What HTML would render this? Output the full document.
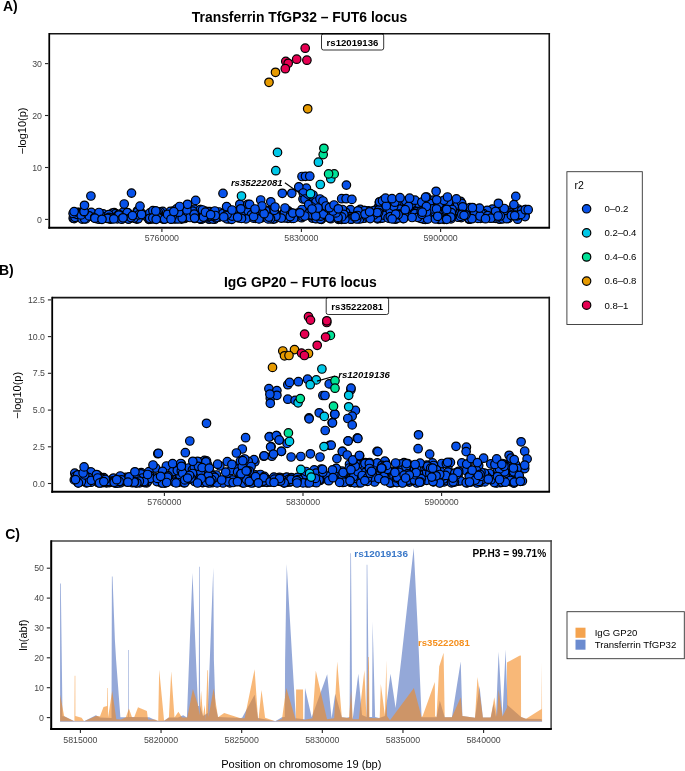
<!DOCTYPE html>
<html><head><meta charset="utf-8"><title>Colocalization plot</title>
<style>html,body{margin:0;padding:0;background:#fff;}body{width:685px;height:771px;overflow:hidden;font-family:"Liberation Sans",sans-serif;}svg{display:block;will-change:transform;}</style>
</head><body>
<svg width="685" height="771" viewBox="0 0 685 771" font-family="Liberation Sans, sans-serif"><text x="3" y="10.7" font-size="14" text-anchor="start" font-weight="bold" font-style="normal" fill="#000" >A)</text>
<text x="299.5" y="21.8" font-size="13.9" text-anchor="middle" font-weight="bold" font-style="normal" fill="#000" >Transferrin TfGP32 – FUT6 locus</text>
<circle cx="128.3" cy="215.4" r="4.25" fill="#0852ea" stroke="#000" stroke-width="1.2"/>
<circle cx="114.7" cy="217.5" r="4.25" fill="#0852ea" stroke="#000" stroke-width="1.2"/>
<circle cx="110.6" cy="219.2" r="4.25" fill="#0852ea" stroke="#000" stroke-width="1.2"/>
<circle cx="136.7" cy="219.1" r="4.25" fill="#0852ea" stroke="#000" stroke-width="1.2"/>
<circle cx="315.1" cy="212.4" r="4.25" fill="#0852ea" stroke="#000" stroke-width="1.2"/>
<circle cx="163.9" cy="217.8" r="4.25" fill="#0852ea" stroke="#000" stroke-width="1.2"/>
<circle cx="150.2" cy="217.5" r="4.25" fill="#0852ea" stroke="#000" stroke-width="1.2"/>
<circle cx="184.6" cy="218.5" r="4.25" fill="#0852ea" stroke="#000" stroke-width="1.2"/>
<circle cx="78.3" cy="212.4" r="4.25" fill="#0852ea" stroke="#000" stroke-width="1.2"/>
<circle cx="398.7" cy="207.6" r="4.25" fill="#0852ea" stroke="#000" stroke-width="1.2"/>
<circle cx="104.5" cy="215.5" r="4.25" fill="#0852ea" stroke="#000" stroke-width="1.2"/>
<circle cx="200.5" cy="209.6" r="4.25" fill="#0852ea" stroke="#000" stroke-width="1.2"/>
<circle cx="96.5" cy="214.5" r="4.25" fill="#0852ea" stroke="#000" stroke-width="1.2"/>
<circle cx="403.2" cy="218.6" r="4.25" fill="#0852ea" stroke="#000" stroke-width="1.2"/>
<circle cx="341.3" cy="218.4" r="4.25" fill="#0852ea" stroke="#000" stroke-width="1.2"/>
<circle cx="341.5" cy="219.3" r="4.25" fill="#0852ea" stroke="#000" stroke-width="1.2"/>
<circle cx="364.6" cy="210.5" r="4.25" fill="#0852ea" stroke="#000" stroke-width="1.2"/>
<circle cx="461.3" cy="217.6" r="4.25" fill="#0852ea" stroke="#000" stroke-width="1.2"/>
<circle cx="424.3" cy="219.0" r="4.25" fill="#0852ea" stroke="#000" stroke-width="1.2"/>
<circle cx="317.2" cy="210.1" r="4.25" fill="#0852ea" stroke="#000" stroke-width="1.2"/>
<circle cx="428.1" cy="213.8" r="4.25" fill="#0852ea" stroke="#000" stroke-width="1.2"/>
<circle cx="378.5" cy="206.9" r="4.25" fill="#0852ea" stroke="#000" stroke-width="1.2"/>
<circle cx="156.7" cy="217.7" r="4.25" fill="#0852ea" stroke="#000" stroke-width="1.2"/>
<circle cx="273.6" cy="212.9" r="4.25" fill="#0852ea" stroke="#000" stroke-width="1.2"/>
<circle cx="453.4" cy="208.7" r="4.25" fill="#0852ea" stroke="#000" stroke-width="1.2"/>
<circle cx="360.9" cy="210.8" r="4.25" fill="#0852ea" stroke="#000" stroke-width="1.2"/>
<circle cx="321.5" cy="219.3" r="4.25" fill="#0852ea" stroke="#000" stroke-width="1.2"/>
<circle cx="494.5" cy="218.1" r="4.25" fill="#0852ea" stroke="#000" stroke-width="1.2"/>
<circle cx="148.8" cy="219.3" r="4.25" fill="#0852ea" stroke="#000" stroke-width="1.2"/>
<circle cx="333.4" cy="214.4" r="4.25" fill="#0852ea" stroke="#000" stroke-width="1.2"/>
<circle cx="357.1" cy="217.1" r="4.25" fill="#0852ea" stroke="#000" stroke-width="1.2"/>
<circle cx="163.9" cy="216.5" r="4.25" fill="#0852ea" stroke="#000" stroke-width="1.2"/>
<circle cx="254.6" cy="216.4" r="4.25" fill="#0852ea" stroke="#000" stroke-width="1.2"/>
<circle cx="498.6" cy="218.6" r="4.25" fill="#0852ea" stroke="#000" stroke-width="1.2"/>
<circle cx="111.0" cy="216.2" r="4.25" fill="#0852ea" stroke="#000" stroke-width="1.2"/>
<circle cx="158.9" cy="217.2" r="4.25" fill="#0852ea" stroke="#000" stroke-width="1.2"/>
<circle cx="491.4" cy="210.4" r="4.25" fill="#0852ea" stroke="#000" stroke-width="1.2"/>
<circle cx="228.9" cy="213.3" r="4.25" fill="#0852ea" stroke="#000" stroke-width="1.2"/>
<circle cx="179.9" cy="210.4" r="4.25" fill="#0852ea" stroke="#000" stroke-width="1.2"/>
<circle cx="452.6" cy="211.9" r="4.25" fill="#0852ea" stroke="#000" stroke-width="1.2"/>
<circle cx="313.0" cy="218.1" r="4.25" fill="#0852ea" stroke="#000" stroke-width="1.2"/>
<circle cx="112.3" cy="213.1" r="4.25" fill="#0852ea" stroke="#000" stroke-width="1.2"/>
<circle cx="433.3" cy="200.2" r="4.25" fill="#0852ea" stroke="#000" stroke-width="1.2"/>
<circle cx="423.4" cy="219.1" r="4.25" fill="#0852ea" stroke="#000" stroke-width="1.2"/>
<circle cx="515.5" cy="210.1" r="4.25" fill="#0852ea" stroke="#000" stroke-width="1.2"/>
<circle cx="460.5" cy="201.3" r="4.25" fill="#0852ea" stroke="#000" stroke-width="1.2"/>
<circle cx="499.7" cy="219.2" r="4.25" fill="#0852ea" stroke="#000" stroke-width="1.2"/>
<circle cx="249.4" cy="209.7" r="4.25" fill="#0852ea" stroke="#000" stroke-width="1.2"/>
<circle cx="181.5" cy="219.1" r="4.25" fill="#0852ea" stroke="#000" stroke-width="1.2"/>
<circle cx="111.2" cy="215.9" r="4.25" fill="#0852ea" stroke="#000" stroke-width="1.2"/>
<circle cx="377.5" cy="218.9" r="4.25" fill="#0852ea" stroke="#000" stroke-width="1.2"/>
<circle cx="119.0" cy="217.6" r="4.25" fill="#0852ea" stroke="#000" stroke-width="1.2"/>
<circle cx="480.1" cy="211.4" r="4.25" fill="#0852ea" stroke="#000" stroke-width="1.2"/>
<circle cx="78.0" cy="212.7" r="4.25" fill="#0852ea" stroke="#000" stroke-width="1.2"/>
<circle cx="240.8" cy="215.0" r="4.25" fill="#0852ea" stroke="#000" stroke-width="1.2"/>
<circle cx="73.2" cy="218.2" r="4.25" fill="#0852ea" stroke="#000" stroke-width="1.2"/>
<circle cx="232.4" cy="211.5" r="4.25" fill="#0852ea" stroke="#000" stroke-width="1.2"/>
<circle cx="458.0" cy="217.2" r="4.25" fill="#0852ea" stroke="#000" stroke-width="1.2"/>
<circle cx="433.2" cy="215.8" r="4.25" fill="#0852ea" stroke="#000" stroke-width="1.2"/>
<circle cx="330.8" cy="218.7" r="4.25" fill="#0852ea" stroke="#000" stroke-width="1.2"/>
<circle cx="517.7" cy="209.8" r="4.25" fill="#0852ea" stroke="#000" stroke-width="1.2"/>
<circle cx="379.3" cy="202.6" r="4.25" fill="#0852ea" stroke="#000" stroke-width="1.2"/>
<circle cx="128.0" cy="212.9" r="4.25" fill="#0852ea" stroke="#000" stroke-width="1.2"/>
<circle cx="380.2" cy="218.4" r="4.25" fill="#0852ea" stroke="#000" stroke-width="1.2"/>
<circle cx="303.5" cy="211.5" r="4.25" fill="#0852ea" stroke="#000" stroke-width="1.2"/>
<circle cx="417.0" cy="209.6" r="4.25" fill="#0852ea" stroke="#000" stroke-width="1.2"/>
<circle cx="275.2" cy="215.4" r="4.25" fill="#0852ea" stroke="#000" stroke-width="1.2"/>
<circle cx="164.4" cy="218.9" r="4.25" fill="#0852ea" stroke="#000" stroke-width="1.2"/>
<circle cx="108.4" cy="218.4" r="4.25" fill="#0852ea" stroke="#000" stroke-width="1.2"/>
<circle cx="112.2" cy="214.6" r="4.25" fill="#0852ea" stroke="#000" stroke-width="1.2"/>
<circle cx="373.3" cy="210.8" r="4.25" fill="#0852ea" stroke="#000" stroke-width="1.2"/>
<circle cx="96.9" cy="218.7" r="4.25" fill="#0852ea" stroke="#000" stroke-width="1.2"/>
<circle cx="124.2" cy="216.9" r="4.25" fill="#0852ea" stroke="#000" stroke-width="1.2"/>
<circle cx="103.6" cy="217.8" r="4.25" fill="#0852ea" stroke="#000" stroke-width="1.2"/>
<circle cx="373.2" cy="215.4" r="4.25" fill="#0852ea" stroke="#000" stroke-width="1.2"/>
<circle cx="171.1" cy="218.3" r="4.25" fill="#0852ea" stroke="#000" stroke-width="1.2"/>
<circle cx="82.9" cy="211.4" r="4.25" fill="#0852ea" stroke="#000" stroke-width="1.2"/>
<circle cx="174.4" cy="218.6" r="4.25" fill="#0852ea" stroke="#000" stroke-width="1.2"/>
<circle cx="382.3" cy="201.8" r="4.25" fill="#0852ea" stroke="#000" stroke-width="1.2"/>
<circle cx="326.5" cy="213.7" r="4.25" fill="#0852ea" stroke="#000" stroke-width="1.2"/>
<circle cx="464.3" cy="210.0" r="4.25" fill="#0852ea" stroke="#000" stroke-width="1.2"/>
<circle cx="196.7" cy="216.0" r="4.25" fill="#0852ea" stroke="#000" stroke-width="1.2"/>
<circle cx="154.2" cy="211.7" r="4.25" fill="#0852ea" stroke="#000" stroke-width="1.2"/>
<circle cx="104.6" cy="216.6" r="4.25" fill="#0852ea" stroke="#000" stroke-width="1.2"/>
<circle cx="399.1" cy="203.0" r="4.25" fill="#0852ea" stroke="#000" stroke-width="1.2"/>
<circle cx="197.0" cy="212.7" r="4.25" fill="#0852ea" stroke="#000" stroke-width="1.2"/>
<circle cx="191.8" cy="212.1" r="4.25" fill="#0852ea" stroke="#000" stroke-width="1.2"/>
<circle cx="315.5" cy="218.1" r="4.25" fill="#0852ea" stroke="#000" stroke-width="1.2"/>
<circle cx="155.5" cy="217.6" r="4.25" fill="#0852ea" stroke="#000" stroke-width="1.2"/>
<circle cx="492.2" cy="216.1" r="4.25" fill="#0852ea" stroke="#000" stroke-width="1.2"/>
<circle cx="411.8" cy="215.5" r="4.25" fill="#0852ea" stroke="#000" stroke-width="1.2"/>
<circle cx="296.7" cy="216.8" r="4.25" fill="#0852ea" stroke="#000" stroke-width="1.2"/>
<circle cx="301.6" cy="217.7" r="4.25" fill="#0852ea" stroke="#000" stroke-width="1.2"/>
<circle cx="208.8" cy="215.7" r="4.25" fill="#0852ea" stroke="#000" stroke-width="1.2"/>
<circle cx="444.1" cy="219.3" r="4.25" fill="#0852ea" stroke="#000" stroke-width="1.2"/>
<circle cx="416.5" cy="213.4" r="4.25" fill="#0852ea" stroke="#000" stroke-width="1.2"/>
<circle cx="364.8" cy="218.1" r="4.25" fill="#0852ea" stroke="#000" stroke-width="1.2"/>
<circle cx="459.1" cy="211.9" r="4.25" fill="#0852ea" stroke="#000" stroke-width="1.2"/>
<circle cx="472.4" cy="216.0" r="4.25" fill="#0852ea" stroke="#000" stroke-width="1.2"/>
<circle cx="321.7" cy="210.5" r="4.25" fill="#0852ea" stroke="#000" stroke-width="1.2"/>
<circle cx="99.2" cy="219.2" r="4.25" fill="#0852ea" stroke="#000" stroke-width="1.2"/>
<circle cx="337.8" cy="209.9" r="4.25" fill="#0852ea" stroke="#000" stroke-width="1.2"/>
<circle cx="423.5" cy="205.9" r="4.25" fill="#0852ea" stroke="#000" stroke-width="1.2"/>
<circle cx="82.7" cy="212.7" r="4.25" fill="#0852ea" stroke="#000" stroke-width="1.2"/>
<circle cx="510.4" cy="210.2" r="4.25" fill="#0852ea" stroke="#000" stroke-width="1.2"/>
<circle cx="297.7" cy="213.1" r="4.25" fill="#0852ea" stroke="#000" stroke-width="1.2"/>
<circle cx="395.3" cy="213.7" r="4.25" fill="#0852ea" stroke="#000" stroke-width="1.2"/>
<circle cx="259.4" cy="211.4" r="4.25" fill="#0852ea" stroke="#000" stroke-width="1.2"/>
<circle cx="240.3" cy="214.2" r="4.25" fill="#0852ea" stroke="#000" stroke-width="1.2"/>
<circle cx="175.5" cy="219.0" r="4.25" fill="#0852ea" stroke="#000" stroke-width="1.2"/>
<circle cx="123.2" cy="212.2" r="4.25" fill="#0852ea" stroke="#000" stroke-width="1.2"/>
<circle cx="397.8" cy="213.8" r="4.25" fill="#0852ea" stroke="#000" stroke-width="1.2"/>
<circle cx="180.1" cy="217.0" r="4.25" fill="#0852ea" stroke="#000" stroke-width="1.2"/>
<circle cx="255.7" cy="218.3" r="4.25" fill="#0852ea" stroke="#000" stroke-width="1.2"/>
<circle cx="439.0" cy="219.3" r="4.25" fill="#0852ea" stroke="#000" stroke-width="1.2"/>
<circle cx="74.2" cy="218.6" r="4.25" fill="#0852ea" stroke="#000" stroke-width="1.2"/>
<circle cx="162.7" cy="211.4" r="4.25" fill="#0852ea" stroke="#000" stroke-width="1.2"/>
<circle cx="403.1" cy="215.7" r="4.25" fill="#0852ea" stroke="#000" stroke-width="1.2"/>
<circle cx="194.2" cy="209.1" r="4.25" fill="#0852ea" stroke="#000" stroke-width="1.2"/>
<circle cx="231.8" cy="214.3" r="4.25" fill="#0852ea" stroke="#000" stroke-width="1.2"/>
<circle cx="390.7" cy="200.6" r="4.25" fill="#0852ea" stroke="#000" stroke-width="1.2"/>
<circle cx="328.6" cy="211.1" r="4.25" fill="#0852ea" stroke="#000" stroke-width="1.2"/>
<circle cx="295.0" cy="214.5" r="4.25" fill="#0852ea" stroke="#000" stroke-width="1.2"/>
<circle cx="474.6" cy="215.1" r="4.25" fill="#0852ea" stroke="#000" stroke-width="1.2"/>
<circle cx="319.7" cy="218.7" r="4.25" fill="#0852ea" stroke="#000" stroke-width="1.2"/>
<circle cx="437.4" cy="202.7" r="4.25" fill="#0852ea" stroke="#000" stroke-width="1.2"/>
<circle cx="339.8" cy="217.2" r="4.25" fill="#0852ea" stroke="#000" stroke-width="1.2"/>
<circle cx="442.7" cy="216.8" r="4.25" fill="#0852ea" stroke="#000" stroke-width="1.2"/>
<circle cx="214.6" cy="216.4" r="4.25" fill="#0852ea" stroke="#000" stroke-width="1.2"/>
<circle cx="463.6" cy="207.3" r="4.25" fill="#0852ea" stroke="#000" stroke-width="1.2"/>
<circle cx="312.1" cy="214.5" r="4.25" fill="#0852ea" stroke="#000" stroke-width="1.2"/>
<circle cx="169.4" cy="216.7" r="4.25" fill="#0852ea" stroke="#000" stroke-width="1.2"/>
<circle cx="312.4" cy="218.0" r="4.25" fill="#0852ea" stroke="#000" stroke-width="1.2"/>
<circle cx="317.4" cy="210.8" r="4.25" fill="#0852ea" stroke="#000" stroke-width="1.2"/>
<circle cx="442.7" cy="208.7" r="4.25" fill="#0852ea" stroke="#000" stroke-width="1.2"/>
<circle cx="290.2" cy="214.3" r="4.25" fill="#0852ea" stroke="#000" stroke-width="1.2"/>
<circle cx="194.7" cy="218.5" r="4.25" fill="#0852ea" stroke="#000" stroke-width="1.2"/>
<circle cx="357.5" cy="213.1" r="4.25" fill="#0852ea" stroke="#000" stroke-width="1.2"/>
<circle cx="173.4" cy="211.0" r="4.25" fill="#0852ea" stroke="#000" stroke-width="1.2"/>
<circle cx="285.0" cy="211.6" r="4.25" fill="#0852ea" stroke="#000" stroke-width="1.2"/>
<circle cx="517.9" cy="217.5" r="4.25" fill="#0852ea" stroke="#000" stroke-width="1.2"/>
<circle cx="258.8" cy="218.5" r="4.25" fill="#0852ea" stroke="#000" stroke-width="1.2"/>
<circle cx="384.0" cy="216.6" r="4.25" fill="#0852ea" stroke="#000" stroke-width="1.2"/>
<circle cx="215.7" cy="217.3" r="4.25" fill="#0852ea" stroke="#000" stroke-width="1.2"/>
<circle cx="457.6" cy="205.4" r="4.25" fill="#0852ea" stroke="#000" stroke-width="1.2"/>
<circle cx="246.7" cy="209.7" r="4.25" fill="#0852ea" stroke="#000" stroke-width="1.2"/>
<circle cx="366.6" cy="215.7" r="4.25" fill="#0852ea" stroke="#000" stroke-width="1.2"/>
<circle cx="255.5" cy="216.4" r="4.25" fill="#0852ea" stroke="#000" stroke-width="1.2"/>
<circle cx="291.8" cy="218.3" r="4.25" fill="#0852ea" stroke="#000" stroke-width="1.2"/>
<circle cx="218.5" cy="213.0" r="4.25" fill="#0852ea" stroke="#000" stroke-width="1.2"/>
<circle cx="231.4" cy="216.5" r="4.25" fill="#0852ea" stroke="#000" stroke-width="1.2"/>
<circle cx="396.9" cy="202.0" r="4.25" fill="#0852ea" stroke="#000" stroke-width="1.2"/>
<circle cx="480.3" cy="218.3" r="4.25" fill="#0852ea" stroke="#000" stroke-width="1.2"/>
<circle cx="137.3" cy="210.9" r="4.25" fill="#0852ea" stroke="#000" stroke-width="1.2"/>
<circle cx="311.4" cy="212.4" r="4.25" fill="#0852ea" stroke="#000" stroke-width="1.2"/>
<circle cx="351.7" cy="218.5" r="4.25" fill="#0852ea" stroke="#000" stroke-width="1.2"/>
<circle cx="440.6" cy="219.0" r="4.25" fill="#0852ea" stroke="#000" stroke-width="1.2"/>
<circle cx="374.8" cy="210.4" r="4.25" fill="#0852ea" stroke="#000" stroke-width="1.2"/>
<circle cx="483.1" cy="212.0" r="4.25" fill="#0852ea" stroke="#000" stroke-width="1.2"/>
<circle cx="447.6" cy="218.2" r="4.25" fill="#0852ea" stroke="#000" stroke-width="1.2"/>
<circle cx="418.3" cy="210.4" r="4.25" fill="#0852ea" stroke="#000" stroke-width="1.2"/>
<circle cx="415.3" cy="210.6" r="4.25" fill="#0852ea" stroke="#000" stroke-width="1.2"/>
<circle cx="343.4" cy="217.8" r="4.25" fill="#0852ea" stroke="#000" stroke-width="1.2"/>
<circle cx="201.8" cy="215.7" r="4.25" fill="#0852ea" stroke="#000" stroke-width="1.2"/>
<circle cx="161.8" cy="216.5" r="4.25" fill="#0852ea" stroke="#000" stroke-width="1.2"/>
<circle cx="517.6" cy="219.2" r="4.25" fill="#0852ea" stroke="#000" stroke-width="1.2"/>
<circle cx="439.3" cy="208.5" r="4.25" fill="#0852ea" stroke="#000" stroke-width="1.2"/>
<circle cx="160.0" cy="215.4" r="4.25" fill="#0852ea" stroke="#000" stroke-width="1.2"/>
<circle cx="285.3" cy="211.3" r="4.25" fill="#0852ea" stroke="#000" stroke-width="1.2"/>
<circle cx="229.5" cy="215.9" r="4.25" fill="#0852ea" stroke="#000" stroke-width="1.2"/>
<circle cx="214.2" cy="218.4" r="4.25" fill="#0852ea" stroke="#000" stroke-width="1.2"/>
<circle cx="138.1" cy="218.7" r="4.25" fill="#0852ea" stroke="#000" stroke-width="1.2"/>
<circle cx="263.3" cy="213.2" r="4.25" fill="#0852ea" stroke="#000" stroke-width="1.2"/>
<circle cx="148.4" cy="217.8" r="4.25" fill="#0852ea" stroke="#000" stroke-width="1.2"/>
<circle cx="141.7" cy="213.3" r="4.25" fill="#0852ea" stroke="#000" stroke-width="1.2"/>
<circle cx="209.8" cy="211.7" r="4.25" fill="#0852ea" stroke="#000" stroke-width="1.2"/>
<circle cx="399.9" cy="209.2" r="4.25" fill="#0852ea" stroke="#000" stroke-width="1.2"/>
<circle cx="215.3" cy="218.0" r="4.25" fill="#0852ea" stroke="#000" stroke-width="1.2"/>
<circle cx="193.0" cy="215.9" r="4.25" fill="#0852ea" stroke="#000" stroke-width="1.2"/>
<circle cx="145.2" cy="215.8" r="4.25" fill="#0852ea" stroke="#000" stroke-width="1.2"/>
<circle cx="152.0" cy="213.3" r="4.25" fill="#0852ea" stroke="#000" stroke-width="1.2"/>
<circle cx="412.8" cy="201.6" r="4.25" fill="#0852ea" stroke="#000" stroke-width="1.2"/>
<circle cx="78.0" cy="213.6" r="4.25" fill="#0852ea" stroke="#000" stroke-width="1.2"/>
<circle cx="315.8" cy="218.3" r="4.25" fill="#0852ea" stroke="#000" stroke-width="1.2"/>
<circle cx="417.0" cy="205.1" r="4.25" fill="#0852ea" stroke="#000" stroke-width="1.2"/>
<circle cx="405.8" cy="210.1" r="4.25" fill="#0852ea" stroke="#000" stroke-width="1.2"/>
<circle cx="107.0" cy="218.3" r="4.25" fill="#0852ea" stroke="#000" stroke-width="1.2"/>
<circle cx="224.1" cy="214.0" r="4.25" fill="#0852ea" stroke="#000" stroke-width="1.2"/>
<circle cx="317.3" cy="217.3" r="4.25" fill="#0852ea" stroke="#000" stroke-width="1.2"/>
<circle cx="347.0" cy="211.5" r="4.25" fill="#0852ea" stroke="#000" stroke-width="1.2"/>
<circle cx="103.5" cy="216.6" r="4.25" fill="#0852ea" stroke="#000" stroke-width="1.2"/>
<circle cx="383.9" cy="210.9" r="4.25" fill="#0852ea" stroke="#000" stroke-width="1.2"/>
<circle cx="452.2" cy="210.4" r="4.25" fill="#0852ea" stroke="#000" stroke-width="1.2"/>
<circle cx="337.2" cy="210.2" r="4.25" fill="#0852ea" stroke="#000" stroke-width="1.2"/>
<circle cx="88.9" cy="215.9" r="4.25" fill="#0852ea" stroke="#000" stroke-width="1.2"/>
<circle cx="269.6" cy="210.1" r="4.25" fill="#0852ea" stroke="#000" stroke-width="1.2"/>
<circle cx="162.6" cy="214.7" r="4.25" fill="#0852ea" stroke="#000" stroke-width="1.2"/>
<circle cx="235.7" cy="212.0" r="4.25" fill="#0852ea" stroke="#000" stroke-width="1.2"/>
<circle cx="389.6" cy="218.3" r="4.25" fill="#0852ea" stroke="#000" stroke-width="1.2"/>
<circle cx="310.3" cy="214.4" r="4.25" fill="#0852ea" stroke="#000" stroke-width="1.2"/>
<circle cx="451.0" cy="218.8" r="4.25" fill="#0852ea" stroke="#000" stroke-width="1.2"/>
<circle cx="281.5" cy="215.1" r="4.25" fill="#0852ea" stroke="#000" stroke-width="1.2"/>
<circle cx="231.7" cy="214.9" r="4.25" fill="#0852ea" stroke="#000" stroke-width="1.2"/>
<circle cx="517.5" cy="212.3" r="4.25" fill="#0852ea" stroke="#000" stroke-width="1.2"/>
<circle cx="274.7" cy="218.7" r="4.25" fill="#0852ea" stroke="#000" stroke-width="1.2"/>
<circle cx="219.0" cy="215.7" r="4.25" fill="#0852ea" stroke="#000" stroke-width="1.2"/>
<circle cx="103.2" cy="213.9" r="4.25" fill="#0852ea" stroke="#000" stroke-width="1.2"/>
<circle cx="475.5" cy="210.4" r="4.25" fill="#0852ea" stroke="#000" stroke-width="1.2"/>
<circle cx="329.0" cy="217.6" r="4.25" fill="#0852ea" stroke="#000" stroke-width="1.2"/>
<circle cx="302.0" cy="209.5" r="4.25" fill="#0852ea" stroke="#000" stroke-width="1.2"/>
<circle cx="344.0" cy="213.5" r="4.25" fill="#0852ea" stroke="#000" stroke-width="1.2"/>
<circle cx="382.5" cy="218.1" r="4.25" fill="#0852ea" stroke="#000" stroke-width="1.2"/>
<circle cx="484.3" cy="214.9" r="4.25" fill="#0852ea" stroke="#000" stroke-width="1.2"/>
<circle cx="517.2" cy="215.8" r="4.25" fill="#0852ea" stroke="#000" stroke-width="1.2"/>
<circle cx="418.4" cy="203.2" r="4.25" fill="#0852ea" stroke="#000" stroke-width="1.2"/>
<circle cx="461.7" cy="203.3" r="4.25" fill="#0852ea" stroke="#000" stroke-width="1.2"/>
<circle cx="268.7" cy="216.9" r="4.25" fill="#0852ea" stroke="#000" stroke-width="1.2"/>
<circle cx="352.0" cy="213.4" r="4.25" fill="#0852ea" stroke="#000" stroke-width="1.2"/>
<circle cx="381.1" cy="214.3" r="4.25" fill="#0852ea" stroke="#000" stroke-width="1.2"/>
<circle cx="351.6" cy="219.1" r="4.25" fill="#0852ea" stroke="#000" stroke-width="1.2"/>
<circle cx="202.5" cy="218.2" r="4.25" fill="#0852ea" stroke="#000" stroke-width="1.2"/>
<circle cx="228.9" cy="218.9" r="4.25" fill="#0852ea" stroke="#000" stroke-width="1.2"/>
<circle cx="180.3" cy="214.3" r="4.25" fill="#0852ea" stroke="#000" stroke-width="1.2"/>
<circle cx="384.4" cy="215.3" r="4.25" fill="#0852ea" stroke="#000" stroke-width="1.2"/>
<circle cx="508.5" cy="218.3" r="4.25" fill="#0852ea" stroke="#000" stroke-width="1.2"/>
<circle cx="239.2" cy="216.4" r="4.25" fill="#0852ea" stroke="#000" stroke-width="1.2"/>
<circle cx="481.6" cy="217.8" r="4.25" fill="#0852ea" stroke="#000" stroke-width="1.2"/>
<circle cx="114.2" cy="212.7" r="4.25" fill="#0852ea" stroke="#000" stroke-width="1.2"/>
<circle cx="185.7" cy="217.3" r="4.25" fill="#0852ea" stroke="#000" stroke-width="1.2"/>
<circle cx="176.6" cy="208.9" r="4.25" fill="#0852ea" stroke="#000" stroke-width="1.2"/>
<circle cx="338.9" cy="216.4" r="4.25" fill="#0852ea" stroke="#000" stroke-width="1.2"/>
<circle cx="337.2" cy="211.0" r="4.25" fill="#0852ea" stroke="#000" stroke-width="1.2"/>
<circle cx="432.6" cy="207.9" r="4.25" fill="#0852ea" stroke="#000" stroke-width="1.2"/>
<circle cx="204.9" cy="211.2" r="4.25" fill="#0852ea" stroke="#000" stroke-width="1.2"/>
<circle cx="172.3" cy="215.7" r="4.25" fill="#0852ea" stroke="#000" stroke-width="1.2"/>
<circle cx="288.3" cy="210.9" r="4.25" fill="#0852ea" stroke="#000" stroke-width="1.2"/>
<circle cx="317.3" cy="215.5" r="4.25" fill="#0852ea" stroke="#000" stroke-width="1.2"/>
<circle cx="281.7" cy="217.7" r="4.25" fill="#0852ea" stroke="#000" stroke-width="1.2"/>
<circle cx="197.6" cy="215.6" r="4.25" fill="#0852ea" stroke="#000" stroke-width="1.2"/>
<circle cx="509.4" cy="212.4" r="4.25" fill="#0852ea" stroke="#000" stroke-width="1.2"/>
<circle cx="223.5" cy="216.6" r="4.25" fill="#0852ea" stroke="#000" stroke-width="1.2"/>
<circle cx="489.1" cy="214.3" r="4.25" fill="#0852ea" stroke="#000" stroke-width="1.2"/>
<circle cx="95.3" cy="215.5" r="4.25" fill="#0852ea" stroke="#000" stroke-width="1.2"/>
<circle cx="411.2" cy="204.0" r="4.25" fill="#0852ea" stroke="#000" stroke-width="1.2"/>
<circle cx="200.4" cy="209.6" r="4.25" fill="#0852ea" stroke="#000" stroke-width="1.2"/>
<circle cx="479.0" cy="210.1" r="4.25" fill="#0852ea" stroke="#000" stroke-width="1.2"/>
<circle cx="241.8" cy="214.2" r="4.25" fill="#0852ea" stroke="#000" stroke-width="1.2"/>
<circle cx="315.8" cy="212.9" r="4.25" fill="#0852ea" stroke="#000" stroke-width="1.2"/>
<circle cx="150.4" cy="217.0" r="4.25" fill="#0852ea" stroke="#000" stroke-width="1.2"/>
<circle cx="525.0" cy="215.2" r="4.25" fill="#0852ea" stroke="#000" stroke-width="1.2"/>
<circle cx="99.8" cy="217.4" r="4.25" fill="#0852ea" stroke="#000" stroke-width="1.2"/>
<circle cx="260.3" cy="210.3" r="4.25" fill="#0852ea" stroke="#000" stroke-width="1.2"/>
<circle cx="110.0" cy="216.4" r="4.25" fill="#0852ea" stroke="#000" stroke-width="1.2"/>
<circle cx="450.4" cy="209.9" r="4.25" fill="#0852ea" stroke="#000" stroke-width="1.2"/>
<circle cx="207.8" cy="211.6" r="4.25" fill="#0852ea" stroke="#000" stroke-width="1.2"/>
<circle cx="184.5" cy="210.8" r="4.25" fill="#0852ea" stroke="#000" stroke-width="1.2"/>
<circle cx="229.1" cy="213.3" r="4.25" fill="#0852ea" stroke="#000" stroke-width="1.2"/>
<circle cx="218.5" cy="217.2" r="4.25" fill="#0852ea" stroke="#000" stroke-width="1.2"/>
<circle cx="437.3" cy="212.4" r="4.25" fill="#0852ea" stroke="#000" stroke-width="1.2"/>
<circle cx="438.8" cy="214.5" r="4.25" fill="#0852ea" stroke="#000" stroke-width="1.2"/>
<circle cx="264.5" cy="215.6" r="4.25" fill="#0852ea" stroke="#000" stroke-width="1.2"/>
<circle cx="414.9" cy="200.2" r="4.25" fill="#0852ea" stroke="#000" stroke-width="1.2"/>
<circle cx="503.4" cy="209.1" r="4.25" fill="#0852ea" stroke="#000" stroke-width="1.2"/>
<circle cx="429.9" cy="203.4" r="4.25" fill="#0852ea" stroke="#000" stroke-width="1.2"/>
<circle cx="75.1" cy="217.3" r="4.25" fill="#0852ea" stroke="#000" stroke-width="1.2"/>
<circle cx="133.9" cy="218.1" r="4.25" fill="#0852ea" stroke="#000" stroke-width="1.2"/>
<circle cx="171.6" cy="218.8" r="4.25" fill="#0852ea" stroke="#000" stroke-width="1.2"/>
<circle cx="425.3" cy="219.3" r="4.25" fill="#0852ea" stroke="#000" stroke-width="1.2"/>
<circle cx="323.1" cy="217.3" r="4.25" fill="#0852ea" stroke="#000" stroke-width="1.2"/>
<circle cx="270.5" cy="215.5" r="4.25" fill="#0852ea" stroke="#000" stroke-width="1.2"/>
<circle cx="90.5" cy="213.6" r="4.25" fill="#0852ea" stroke="#000" stroke-width="1.2"/>
<circle cx="76.9" cy="214.3" r="4.25" fill="#0852ea" stroke="#000" stroke-width="1.2"/>
<circle cx="494.0" cy="217.6" r="4.25" fill="#0852ea" stroke="#000" stroke-width="1.2"/>
<circle cx="500.0" cy="214.4" r="4.25" fill="#0852ea" stroke="#000" stroke-width="1.2"/>
<circle cx="373.6" cy="215.0" r="4.25" fill="#0852ea" stroke="#000" stroke-width="1.2"/>
<circle cx="469.0" cy="219.1" r="4.25" fill="#0852ea" stroke="#000" stroke-width="1.2"/>
<circle cx="117.3" cy="218.8" r="4.25" fill="#0852ea" stroke="#000" stroke-width="1.2"/>
<circle cx="260.7" cy="217.9" r="4.25" fill="#0852ea" stroke="#000" stroke-width="1.2"/>
<circle cx="209.1" cy="219.2" r="4.25" fill="#0852ea" stroke="#000" stroke-width="1.2"/>
<circle cx="468.9" cy="215.1" r="4.25" fill="#0852ea" stroke="#000" stroke-width="1.2"/>
<circle cx="469.1" cy="219.1" r="4.25" fill="#0852ea" stroke="#000" stroke-width="1.2"/>
<circle cx="222.9" cy="216.5" r="4.25" fill="#0852ea" stroke="#000" stroke-width="1.2"/>
<circle cx="430.5" cy="212.2" r="4.25" fill="#0852ea" stroke="#000" stroke-width="1.2"/>
<circle cx="470.0" cy="207.7" r="4.25" fill="#0852ea" stroke="#000" stroke-width="1.2"/>
<circle cx="310.0" cy="212.5" r="4.25" fill="#0852ea" stroke="#000" stroke-width="1.2"/>
<circle cx="496.0" cy="218.4" r="4.25" fill="#0852ea" stroke="#000" stroke-width="1.2"/>
<circle cx="253.3" cy="218.1" r="4.25" fill="#0852ea" stroke="#000" stroke-width="1.2"/>
<circle cx="149.5" cy="219.2" r="4.25" fill="#0852ea" stroke="#000" stroke-width="1.2"/>
<circle cx="399.5" cy="214.1" r="4.25" fill="#0852ea" stroke="#000" stroke-width="1.2"/>
<circle cx="178.2" cy="218.9" r="4.25" fill="#0852ea" stroke="#000" stroke-width="1.2"/>
<circle cx="131.8" cy="215.6" r="4.25" fill="#0852ea" stroke="#000" stroke-width="1.2"/>
<circle cx="260.0" cy="211.3" r="4.25" fill="#0852ea" stroke="#000" stroke-width="1.2"/>
<circle cx="229.6" cy="216.5" r="4.25" fill="#0852ea" stroke="#000" stroke-width="1.2"/>
<circle cx="272.9" cy="214.1" r="4.25" fill="#0852ea" stroke="#000" stroke-width="1.2"/>
<circle cx="121.0" cy="215.7" r="4.25" fill="#0852ea" stroke="#000" stroke-width="1.2"/>
<circle cx="487.4" cy="215.2" r="4.25" fill="#0852ea" stroke="#000" stroke-width="1.2"/>
<circle cx="168.4" cy="218.2" r="4.25" fill="#0852ea" stroke="#000" stroke-width="1.2"/>
<circle cx="493.8" cy="211.7" r="4.25" fill="#0852ea" stroke="#000" stroke-width="1.2"/>
<circle cx="472.8" cy="207.8" r="4.25" fill="#0852ea" stroke="#000" stroke-width="1.2"/>
<circle cx="338.4" cy="219.3" r="4.25" fill="#0852ea" stroke="#000" stroke-width="1.2"/>
<circle cx="186.3" cy="215.2" r="4.25" fill="#0852ea" stroke="#000" stroke-width="1.2"/>
<circle cx="318.4" cy="212.0" r="4.25" fill="#0852ea" stroke="#000" stroke-width="1.2"/>
<circle cx="278.1" cy="215.5" r="4.25" fill="#0852ea" stroke="#000" stroke-width="1.2"/>
<circle cx="207.3" cy="217.9" r="4.25" fill="#0852ea" stroke="#000" stroke-width="1.2"/>
<circle cx="225.2" cy="214.3" r="4.25" fill="#0852ea" stroke="#000" stroke-width="1.2"/>
<circle cx="235.1" cy="214.8" r="4.25" fill="#0852ea" stroke="#000" stroke-width="1.2"/>
<circle cx="480.5" cy="210.6" r="4.25" fill="#0852ea" stroke="#000" stroke-width="1.2"/>
<circle cx="518.1" cy="209.0" r="4.25" fill="#0852ea" stroke="#000" stroke-width="1.2"/>
<circle cx="226.8" cy="218.8" r="4.25" fill="#0852ea" stroke="#000" stroke-width="1.2"/>
<circle cx="503.9" cy="215.9" r="4.25" fill="#0852ea" stroke="#000" stroke-width="1.2"/>
<circle cx="240.0" cy="214.3" r="4.25" fill="#0852ea" stroke="#000" stroke-width="1.2"/>
<circle cx="262.3" cy="217.6" r="4.25" fill="#0852ea" stroke="#000" stroke-width="1.2"/>
<circle cx="525.1" cy="216.6" r="4.25" fill="#0852ea" stroke="#000" stroke-width="1.2"/>
<circle cx="188.0" cy="209.8" r="4.25" fill="#0852ea" stroke="#000" stroke-width="1.2"/>
<circle cx="439.0" cy="201.7" r="4.25" fill="#0852ea" stroke="#000" stroke-width="1.2"/>
<circle cx="427.8" cy="210.0" r="4.25" fill="#0852ea" stroke="#000" stroke-width="1.2"/>
<circle cx="405.8" cy="201.0" r="4.25" fill="#0852ea" stroke="#000" stroke-width="1.2"/>
<circle cx="191.3" cy="215.0" r="4.25" fill="#0852ea" stroke="#000" stroke-width="1.2"/>
<circle cx="492.4" cy="209.1" r="4.25" fill="#0852ea" stroke="#000" stroke-width="1.2"/>
<circle cx="200.8" cy="219.2" r="4.25" fill="#0852ea" stroke="#000" stroke-width="1.2"/>
<circle cx="287.9" cy="218.4" r="4.25" fill="#0852ea" stroke="#000" stroke-width="1.2"/>
<circle cx="516.9" cy="214.5" r="4.25" fill="#0852ea" stroke="#000" stroke-width="1.2"/>
<circle cx="378.9" cy="209.8" r="4.25" fill="#0852ea" stroke="#000" stroke-width="1.2"/>
<circle cx="448.9" cy="204.0" r="4.25" fill="#0852ea" stroke="#000" stroke-width="1.2"/>
<circle cx="214.5" cy="219.2" r="4.25" fill="#0852ea" stroke="#000" stroke-width="1.2"/>
<circle cx="350.5" cy="209.7" r="4.25" fill="#0852ea" stroke="#000" stroke-width="1.2"/>
<circle cx="229.4" cy="210.6" r="4.25" fill="#0852ea" stroke="#000" stroke-width="1.2"/>
<circle cx="452.1" cy="209.5" r="4.25" fill="#0852ea" stroke="#000" stroke-width="1.2"/>
<circle cx="156.1" cy="218.3" r="4.25" fill="#0852ea" stroke="#000" stroke-width="1.2"/>
<circle cx="92.0" cy="216.5" r="4.25" fill="#0852ea" stroke="#000" stroke-width="1.2"/>
<circle cx="470.0" cy="219.1" r="4.25" fill="#0852ea" stroke="#000" stroke-width="1.2"/>
<circle cx="246.4" cy="211.6" r="4.25" fill="#0852ea" stroke="#000" stroke-width="1.2"/>
<circle cx="487.2" cy="210.3" r="4.25" fill="#0852ea" stroke="#000" stroke-width="1.2"/>
<circle cx="219.0" cy="212.0" r="4.25" fill="#0852ea" stroke="#000" stroke-width="1.2"/>
<circle cx="504.1" cy="214.8" r="4.25" fill="#0852ea" stroke="#000" stroke-width="1.2"/>
<circle cx="362.8" cy="218.4" r="4.25" fill="#0852ea" stroke="#000" stroke-width="1.2"/>
<circle cx="329.5" cy="209.3" r="4.25" fill="#0852ea" stroke="#000" stroke-width="1.2"/>
<circle cx="368.5" cy="210.9" r="4.25" fill="#0852ea" stroke="#000" stroke-width="1.2"/>
<circle cx="518.8" cy="212.8" r="4.25" fill="#0852ea" stroke="#000" stroke-width="1.2"/>
<circle cx="388.1" cy="217.9" r="4.25" fill="#0852ea" stroke="#000" stroke-width="1.2"/>
<circle cx="437.6" cy="202.0" r="4.25" fill="#0852ea" stroke="#000" stroke-width="1.2"/>
<circle cx="232.1" cy="218.2" r="4.25" fill="#0852ea" stroke="#000" stroke-width="1.2"/>
<circle cx="496.5" cy="216.8" r="4.25" fill="#0852ea" stroke="#000" stroke-width="1.2"/>
<circle cx="241.9" cy="217.1" r="4.25" fill="#0852ea" stroke="#000" stroke-width="1.2"/>
<circle cx="115.6" cy="213.6" r="4.25" fill="#0852ea" stroke="#000" stroke-width="1.2"/>
<circle cx="463.3" cy="214.2" r="4.25" fill="#0852ea" stroke="#000" stroke-width="1.2"/>
<circle cx="443.2" cy="206.1" r="4.25" fill="#0852ea" stroke="#000" stroke-width="1.2"/>
<circle cx="490.9" cy="218.0" r="4.25" fill="#0852ea" stroke="#000" stroke-width="1.2"/>
<circle cx="268.1" cy="211.2" r="4.25" fill="#0852ea" stroke="#000" stroke-width="1.2"/>
<circle cx="91.3" cy="212.4" r="4.25" fill="#0852ea" stroke="#000" stroke-width="1.2"/>
<circle cx="153.5" cy="211.8" r="4.25" fill="#0852ea" stroke="#000" stroke-width="1.2"/>
<circle cx="152.8" cy="219.0" r="4.25" fill="#0852ea" stroke="#000" stroke-width="1.2"/>
<circle cx="505.3" cy="213.6" r="4.25" fill="#0852ea" stroke="#000" stroke-width="1.2"/>
<circle cx="472.6" cy="218.0" r="4.25" fill="#0852ea" stroke="#000" stroke-width="1.2"/>
<circle cx="260.6" cy="215.1" r="4.25" fill="#0852ea" stroke="#000" stroke-width="1.2"/>
<circle cx="261.6" cy="212.6" r="4.25" fill="#0852ea" stroke="#000" stroke-width="1.2"/>
<circle cx="185.7" cy="213.3" r="4.25" fill="#0852ea" stroke="#000" stroke-width="1.2"/>
<circle cx="408.6" cy="214.5" r="4.25" fill="#0852ea" stroke="#000" stroke-width="1.2"/>
<circle cx="509.1" cy="214.2" r="4.25" fill="#0852ea" stroke="#000" stroke-width="1.2"/>
<circle cx="190.0" cy="217.5" r="4.25" fill="#0852ea" stroke="#000" stroke-width="1.2"/>
<circle cx="127.2" cy="212.6" r="4.25" fill="#0852ea" stroke="#000" stroke-width="1.2"/>
<circle cx="517.6" cy="211.1" r="4.25" fill="#0852ea" stroke="#000" stroke-width="1.2"/>
<circle cx="201.7" cy="219.0" r="4.25" fill="#0852ea" stroke="#000" stroke-width="1.2"/>
<circle cx="316.0" cy="218.7" r="4.25" fill="#0852ea" stroke="#000" stroke-width="1.2"/>
<circle cx="160.2" cy="211.9" r="4.25" fill="#0852ea" stroke="#000" stroke-width="1.2"/>
<circle cx="263.0" cy="216.2" r="4.25" fill="#0852ea" stroke="#000" stroke-width="1.2"/>
<circle cx="367.0" cy="214.1" r="4.25" fill="#0852ea" stroke="#000" stroke-width="1.2"/>
<circle cx="172.1" cy="214.4" r="4.25" fill="#0852ea" stroke="#000" stroke-width="1.2"/>
<circle cx="85.8" cy="218.9" r="4.25" fill="#0852ea" stroke="#000" stroke-width="1.2"/>
<circle cx="345.6" cy="212.3" r="4.25" fill="#0852ea" stroke="#000" stroke-width="1.2"/>
<circle cx="360.3" cy="209.4" r="4.25" fill="#0852ea" stroke="#000" stroke-width="1.2"/>
<circle cx="273.3" cy="219.1" r="4.25" fill="#0852ea" stroke="#000" stroke-width="1.2"/>
<circle cx="320.5" cy="219.1" r="4.25" fill="#0852ea" stroke="#000" stroke-width="1.2"/>
<circle cx="390.2" cy="210.7" r="4.25" fill="#0852ea" stroke="#000" stroke-width="1.2"/>
<circle cx="310.3" cy="215.6" r="4.25" fill="#0852ea" stroke="#000" stroke-width="1.2"/>
<circle cx="477.9" cy="218.4" r="4.25" fill="#0852ea" stroke="#000" stroke-width="1.2"/>
<circle cx="350.5" cy="216.7" r="4.25" fill="#0852ea" stroke="#000" stroke-width="1.2"/>
<circle cx="469.1" cy="218.6" r="4.25" fill="#0852ea" stroke="#000" stroke-width="1.2"/>
<circle cx="474.5" cy="214.0" r="4.25" fill="#0852ea" stroke="#000" stroke-width="1.2"/>
<circle cx="395.4" cy="219.2" r="4.25" fill="#0852ea" stroke="#000" stroke-width="1.2"/>
<circle cx="359.6" cy="219.0" r="4.25" fill="#0852ea" stroke="#000" stroke-width="1.2"/>
<circle cx="349.8" cy="218.4" r="4.25" fill="#0852ea" stroke="#000" stroke-width="1.2"/>
<circle cx="471.9" cy="218.7" r="4.25" fill="#0852ea" stroke="#000" stroke-width="1.2"/>
<circle cx="379.6" cy="201.8" r="4.25" fill="#0852ea" stroke="#000" stroke-width="1.2"/>
<circle cx="238.8" cy="218.0" r="4.25" fill="#0852ea" stroke="#000" stroke-width="1.2"/>
<circle cx="483.6" cy="213.6" r="4.25" fill="#0852ea" stroke="#000" stroke-width="1.2"/>
<circle cx="232.6" cy="212.2" r="4.25" fill="#0852ea" stroke="#000" stroke-width="1.2"/>
<circle cx="200.3" cy="218.6" r="4.25" fill="#0852ea" stroke="#000" stroke-width="1.2"/>
<circle cx="398.9" cy="214.7" r="4.25" fill="#0852ea" stroke="#000" stroke-width="1.2"/>
<circle cx="442.4" cy="209.3" r="4.25" fill="#0852ea" stroke="#000" stroke-width="1.2"/>
<circle cx="408.5" cy="214.2" r="4.25" fill="#0852ea" stroke="#000" stroke-width="1.2"/>
<circle cx="481.4" cy="213.5" r="4.25" fill="#0852ea" stroke="#000" stroke-width="1.2"/>
<circle cx="290.4" cy="216.1" r="4.25" fill="#0852ea" stroke="#000" stroke-width="1.2"/>
<circle cx="82.1" cy="219.1" r="4.25" fill="#0852ea" stroke="#000" stroke-width="1.2"/>
<circle cx="317.2" cy="210.0" r="4.25" fill="#0852ea" stroke="#000" stroke-width="1.2"/>
<circle cx="268.4" cy="216.6" r="4.25" fill="#0852ea" stroke="#000" stroke-width="1.2"/>
<circle cx="451.0" cy="216.9" r="4.25" fill="#0852ea" stroke="#000" stroke-width="1.2"/>
<circle cx="315.3" cy="211.5" r="4.25" fill="#0852ea" stroke="#000" stroke-width="1.2"/>
<circle cx="515.1" cy="215.0" r="4.25" fill="#0852ea" stroke="#000" stroke-width="1.2"/>
<circle cx="445.8" cy="210.3" r="4.25" fill="#0852ea" stroke="#000" stroke-width="1.2"/>
<circle cx="137.6" cy="211.8" r="4.25" fill="#0852ea" stroke="#000" stroke-width="1.2"/>
<circle cx="118.6" cy="214.4" r="4.25" fill="#0852ea" stroke="#000" stroke-width="1.2"/>
<circle cx="251.7" cy="212.0" r="4.25" fill="#0852ea" stroke="#000" stroke-width="1.2"/>
<circle cx="179.4" cy="208.9" r="4.25" fill="#0852ea" stroke="#000" stroke-width="1.2"/>
<circle cx="462.2" cy="209.1" r="4.25" fill="#0852ea" stroke="#000" stroke-width="1.2"/>
<circle cx="128.7" cy="219.0" r="4.25" fill="#0852ea" stroke="#000" stroke-width="1.2"/>
<circle cx="104.8" cy="216.8" r="4.25" fill="#0852ea" stroke="#000" stroke-width="1.2"/>
<circle cx="308.4" cy="213.7" r="4.25" fill="#0852ea" stroke="#000" stroke-width="1.2"/>
<circle cx="396.8" cy="216.7" r="4.25" fill="#0852ea" stroke="#000" stroke-width="1.2"/>
<circle cx="342.4" cy="209.5" r="4.25" fill="#0852ea" stroke="#000" stroke-width="1.2"/>
<circle cx="350.7" cy="219.2" r="4.25" fill="#0852ea" stroke="#000" stroke-width="1.2"/>
<circle cx="246.9" cy="211.3" r="4.25" fill="#0852ea" stroke="#000" stroke-width="1.2"/>
<circle cx="213.1" cy="218.1" r="4.25" fill="#0852ea" stroke="#000" stroke-width="1.2"/>
<circle cx="365.8" cy="213.8" r="4.25" fill="#0852ea" stroke="#000" stroke-width="1.2"/>
<circle cx="356.7" cy="219.0" r="4.25" fill="#0852ea" stroke="#000" stroke-width="1.2"/>
<circle cx="284.7" cy="217.9" r="4.25" fill="#0852ea" stroke="#000" stroke-width="1.2"/>
<circle cx="251.4" cy="214.9" r="4.25" fill="#0852ea" stroke="#000" stroke-width="1.2"/>
<circle cx="192.8" cy="211.2" r="4.25" fill="#0852ea" stroke="#000" stroke-width="1.2"/>
<circle cx="383.1" cy="200.2" r="4.25" fill="#0852ea" stroke="#000" stroke-width="1.2"/>
<circle cx="246.0" cy="218.8" r="4.25" fill="#0852ea" stroke="#000" stroke-width="1.2"/>
<circle cx="148.5" cy="215.9" r="4.25" fill="#0852ea" stroke="#000" stroke-width="1.2"/>
<circle cx="460.5" cy="216.4" r="4.25" fill="#0852ea" stroke="#000" stroke-width="1.2"/>
<circle cx="208.7" cy="216.8" r="4.25" fill="#0852ea" stroke="#000" stroke-width="1.2"/>
<circle cx="260.9" cy="214.5" r="4.25" fill="#0852ea" stroke="#000" stroke-width="1.2"/>
<circle cx="451.3" cy="212.7" r="4.25" fill="#0852ea" stroke="#000" stroke-width="1.2"/>
<circle cx="428.3" cy="217.8" r="4.25" fill="#0852ea" stroke="#000" stroke-width="1.2"/>
<circle cx="311.3" cy="214.8" r="4.25" fill="#0852ea" stroke="#000" stroke-width="1.2"/>
<circle cx="420.5" cy="218.4" r="4.25" fill="#0852ea" stroke="#000" stroke-width="1.2"/>
<circle cx="138.6" cy="214.9" r="4.25" fill="#0852ea" stroke="#000" stroke-width="1.2"/>
<circle cx="149.9" cy="212.9" r="4.25" fill="#0852ea" stroke="#000" stroke-width="1.2"/>
<circle cx="205.7" cy="213.0" r="4.25" fill="#0852ea" stroke="#000" stroke-width="1.2"/>
<circle cx="152.9" cy="210.7" r="4.25" fill="#0852ea" stroke="#000" stroke-width="1.2"/>
<circle cx="108.1" cy="218.1" r="4.25" fill="#0852ea" stroke="#000" stroke-width="1.2"/>
<circle cx="283.2" cy="214.9" r="4.25" fill="#0852ea" stroke="#000" stroke-width="1.2"/>
<circle cx="423.9" cy="213.3" r="4.25" fill="#0852ea" stroke="#000" stroke-width="1.2"/>
<circle cx="364.3" cy="210.7" r="4.25" fill="#0852ea" stroke="#000" stroke-width="1.2"/>
<circle cx="289.1" cy="212.2" r="4.25" fill="#0852ea" stroke="#000" stroke-width="1.2"/>
<circle cx="317.9" cy="215.8" r="4.25" fill="#0852ea" stroke="#000" stroke-width="1.2"/>
<circle cx="386.5" cy="201.2" r="4.25" fill="#0852ea" stroke="#000" stroke-width="1.2"/>
<circle cx="462.5" cy="211.8" r="4.25" fill="#0852ea" stroke="#000" stroke-width="1.2"/>
<circle cx="163.0" cy="219.0" r="4.25" fill="#0852ea" stroke="#000" stroke-width="1.2"/>
<circle cx="393.7" cy="206.3" r="4.25" fill="#0852ea" stroke="#000" stroke-width="1.2"/>
<circle cx="397.4" cy="218.2" r="4.25" fill="#0852ea" stroke="#000" stroke-width="1.2"/>
<circle cx="344.9" cy="219.2" r="4.25" fill="#0852ea" stroke="#000" stroke-width="1.2"/>
<circle cx="416.4" cy="211.8" r="4.25" fill="#0852ea" stroke="#000" stroke-width="1.2"/>
<circle cx="284.5" cy="212.5" r="4.25" fill="#0852ea" stroke="#000" stroke-width="1.2"/>
<circle cx="331.0" cy="212.2" r="4.25" fill="#0852ea" stroke="#000" stroke-width="1.2"/>
<circle cx="172.1" cy="216.4" r="4.25" fill="#0852ea" stroke="#000" stroke-width="1.2"/>
<circle cx="400.7" cy="215.4" r="4.25" fill="#0852ea" stroke="#000" stroke-width="1.2"/>
<circle cx="358.0" cy="213.3" r="4.25" fill="#0852ea" stroke="#000" stroke-width="1.2"/>
<circle cx="320.9" cy="216.1" r="4.25" fill="#0852ea" stroke="#000" stroke-width="1.2"/>
<circle cx="84.5" cy="218.8" r="4.25" fill="#0852ea" stroke="#000" stroke-width="1.2"/>
<circle cx="170.3" cy="211.4" r="4.25" fill="#0852ea" stroke="#000" stroke-width="1.2"/>
<circle cx="382.5" cy="200.8" r="4.25" fill="#0852ea" stroke="#000" stroke-width="1.2"/>
<circle cx="448.6" cy="201.7" r="4.25" fill="#0852ea" stroke="#000" stroke-width="1.2"/>
<circle cx="506.7" cy="215.9" r="4.25" fill="#0852ea" stroke="#000" stroke-width="1.2"/>
<circle cx="323.4" cy="214.1" r="4.25" fill="#0852ea" stroke="#000" stroke-width="1.2"/>
<circle cx="499.4" cy="207.5" r="4.25" fill="#0852ea" stroke="#000" stroke-width="1.2"/>
<circle cx="480.0" cy="216.0" r="4.25" fill="#0852ea" stroke="#000" stroke-width="1.2"/>
<circle cx="487.7" cy="215.7" r="4.25" fill="#0852ea" stroke="#000" stroke-width="1.2"/>
<circle cx="406.6" cy="213.0" r="4.25" fill="#0852ea" stroke="#000" stroke-width="1.2"/>
<circle cx="240.9" cy="215.2" r="4.25" fill="#0852ea" stroke="#000" stroke-width="1.2"/>
<circle cx="199.7" cy="218.6" r="4.25" fill="#0852ea" stroke="#000" stroke-width="1.2"/>
<circle cx="390.3" cy="216.7" r="4.25" fill="#0852ea" stroke="#000" stroke-width="1.2"/>
<circle cx="233.2" cy="211.1" r="4.25" fill="#0852ea" stroke="#000" stroke-width="1.2"/>
<circle cx="292.1" cy="213.8" r="4.25" fill="#0852ea" stroke="#000" stroke-width="1.2"/>
<circle cx="259.0" cy="218.9" r="4.25" fill="#0852ea" stroke="#000" stroke-width="1.2"/>
<circle cx="164.1" cy="219.1" r="4.25" fill="#0852ea" stroke="#000" stroke-width="1.2"/>
<circle cx="158.3" cy="212.5" r="4.25" fill="#0852ea" stroke="#000" stroke-width="1.2"/>
<circle cx="412.4" cy="215.4" r="4.25" fill="#0852ea" stroke="#000" stroke-width="1.2"/>
<circle cx="462.7" cy="206.8" r="4.25" fill="#0852ea" stroke="#000" stroke-width="1.2"/>
<circle cx="149.7" cy="218.3" r="4.25" fill="#0852ea" stroke="#000" stroke-width="1.2"/>
<circle cx="231.8" cy="219.3" r="4.25" fill="#0852ea" stroke="#000" stroke-width="1.2"/>
<circle cx="89.2" cy="215.9" r="4.25" fill="#0852ea" stroke="#000" stroke-width="1.2"/>
<circle cx="268.2" cy="212.9" r="4.25" fill="#0852ea" stroke="#000" stroke-width="1.2"/>
<circle cx="229.5" cy="214.7" r="4.25" fill="#0852ea" stroke="#000" stroke-width="1.2"/>
<circle cx="432.5" cy="208.9" r="4.25" fill="#0852ea" stroke="#000" stroke-width="1.2"/>
<circle cx="81.1" cy="214.9" r="4.25" fill="#0852ea" stroke="#000" stroke-width="1.2"/>
<circle cx="273.2" cy="215.0" r="4.25" fill="#0852ea" stroke="#000" stroke-width="1.2"/>
<circle cx="439.1" cy="204.0" r="4.25" fill="#0852ea" stroke="#000" stroke-width="1.2"/>
<circle cx="182.2" cy="218.1" r="4.25" fill="#0852ea" stroke="#000" stroke-width="1.2"/>
<circle cx="365.9" cy="215.8" r="4.25" fill="#0852ea" stroke="#000" stroke-width="1.2"/>
<circle cx="408.6" cy="206.4" r="4.25" fill="#0852ea" stroke="#000" stroke-width="1.2"/>
<circle cx="414.9" cy="213.6" r="4.25" fill="#0852ea" stroke="#000" stroke-width="1.2"/>
<circle cx="358.0" cy="210.8" r="4.25" fill="#0852ea" stroke="#000" stroke-width="1.2"/>
<circle cx="157.2" cy="213.7" r="4.25" fill="#0852ea" stroke="#000" stroke-width="1.2"/>
<circle cx="281.3" cy="218.1" r="4.25" fill="#0852ea" stroke="#000" stroke-width="1.2"/>
<circle cx="73.1" cy="213.4" r="4.25" fill="#0852ea" stroke="#000" stroke-width="1.2"/>
<circle cx="502.7" cy="218.8" r="4.25" fill="#0852ea" stroke="#000" stroke-width="1.2"/>
<circle cx="403.7" cy="218.5" r="4.25" fill="#0852ea" stroke="#000" stroke-width="1.2"/>
<circle cx="212.9" cy="219.0" r="4.25" fill="#0852ea" stroke="#000" stroke-width="1.2"/>
<circle cx="417.6" cy="217.3" r="4.25" fill="#0852ea" stroke="#000" stroke-width="1.2"/>
<circle cx="194.2" cy="214.2" r="4.25" fill="#0852ea" stroke="#000" stroke-width="1.2"/>
<circle cx="427.7" cy="219.1" r="4.25" fill="#0852ea" stroke="#000" stroke-width="1.2"/>
<circle cx="178.8" cy="212.2" r="4.25" fill="#0852ea" stroke="#000" stroke-width="1.2"/>
<circle cx="204.8" cy="217.0" r="4.25" fill="#0852ea" stroke="#000" stroke-width="1.2"/>
<circle cx="506.8" cy="218.7" r="4.25" fill="#0852ea" stroke="#000" stroke-width="1.2"/>
<circle cx="504.2" cy="208.5" r="4.25" fill="#0852ea" stroke="#000" stroke-width="1.2"/>
<circle cx="386.3" cy="205.9" r="4.25" fill="#0852ea" stroke="#000" stroke-width="1.2"/>
<circle cx="500.3" cy="216.0" r="4.25" fill="#0852ea" stroke="#000" stroke-width="1.2"/>
<circle cx="109.9" cy="215.9" r="4.25" fill="#0852ea" stroke="#000" stroke-width="1.2"/>
<circle cx="421.8" cy="202.2" r="4.25" fill="#0852ea" stroke="#000" stroke-width="1.2"/>
<circle cx="479.5" cy="208.1" r="4.25" fill="#0852ea" stroke="#000" stroke-width="1.2"/>
<circle cx="377.4" cy="218.1" r="4.25" fill="#0852ea" stroke="#000" stroke-width="1.2"/>
<circle cx="378.6" cy="212.5" r="4.25" fill="#0852ea" stroke="#000" stroke-width="1.2"/>
<circle cx="495.6" cy="211.5" r="4.25" fill="#0852ea" stroke="#000" stroke-width="1.2"/>
<circle cx="194.6" cy="218.1" r="4.25" fill="#0852ea" stroke="#000" stroke-width="1.2"/>
<circle cx="74.1" cy="211.6" r="4.25" fill="#0852ea" stroke="#000" stroke-width="1.2"/>
<circle cx="313.8" cy="210.8" r="4.25" fill="#0852ea" stroke="#000" stroke-width="1.2"/>
<circle cx="253.6" cy="216.6" r="4.25" fill="#0852ea" stroke="#000" stroke-width="1.2"/>
<circle cx="157.3" cy="216.3" r="4.25" fill="#0852ea" stroke="#000" stroke-width="1.2"/>
<circle cx="343.8" cy="214.3" r="4.25" fill="#0852ea" stroke="#000" stroke-width="1.2"/>
<circle cx="216.4" cy="216.7" r="4.25" fill="#0852ea" stroke="#000" stroke-width="1.2"/>
<circle cx="206.5" cy="214.0" r="4.25" fill="#0852ea" stroke="#000" stroke-width="1.2"/>
<circle cx="465.8" cy="214.8" r="4.25" fill="#0852ea" stroke="#000" stroke-width="1.2"/>
<circle cx="118.9" cy="215.1" r="4.25" fill="#0852ea" stroke="#000" stroke-width="1.2"/>
<circle cx="156.0" cy="218.9" r="4.25" fill="#0852ea" stroke="#000" stroke-width="1.2"/>
<circle cx="128.4" cy="219.1" r="4.25" fill="#0852ea" stroke="#000" stroke-width="1.2"/>
<circle cx="315.8" cy="216.0" r="4.25" fill="#0852ea" stroke="#000" stroke-width="1.2"/>
<circle cx="84.1" cy="211.7" r="4.25" fill="#0852ea" stroke="#000" stroke-width="1.2"/>
<circle cx="215.9" cy="217.7" r="4.25" fill="#0852ea" stroke="#000" stroke-width="1.2"/>
<circle cx="293.9" cy="217.4" r="4.25" fill="#0852ea" stroke="#000" stroke-width="1.2"/>
<circle cx="291.7" cy="217.5" r="4.25" fill="#0852ea" stroke="#000" stroke-width="1.2"/>
<circle cx="450.8" cy="217.2" r="4.25" fill="#0852ea" stroke="#000" stroke-width="1.2"/>
<circle cx="341.7" cy="216.9" r="4.25" fill="#0852ea" stroke="#000" stroke-width="1.2"/>
<circle cx="210.6" cy="216.1" r="4.25" fill="#0852ea" stroke="#000" stroke-width="1.2"/>
<circle cx="446.7" cy="209.4" r="4.25" fill="#0852ea" stroke="#000" stroke-width="1.2"/>
<circle cx="461.8" cy="214.4" r="4.25" fill="#0852ea" stroke="#000" stroke-width="1.2"/>
<circle cx="241.5" cy="218.4" r="4.25" fill="#0852ea" stroke="#000" stroke-width="1.2"/>
<circle cx="265.8" cy="211.0" r="4.25" fill="#0852ea" stroke="#000" stroke-width="1.2"/>
<circle cx="412.1" cy="217.5" r="4.25" fill="#0852ea" stroke="#000" stroke-width="1.2"/>
<circle cx="108.8" cy="214.6" r="4.25" fill="#0852ea" stroke="#000" stroke-width="1.2"/>
<circle cx="302.8" cy="216.4" r="4.25" fill="#0852ea" stroke="#000" stroke-width="1.2"/>
<circle cx="141.5" cy="214.5" r="4.25" fill="#0852ea" stroke="#000" stroke-width="1.2"/>
<circle cx="421.2" cy="211.2" r="4.25" fill="#0852ea" stroke="#000" stroke-width="1.2"/>
<circle cx="472.4" cy="207.7" r="4.25" fill="#0852ea" stroke="#000" stroke-width="1.2"/>
<circle cx="213.9" cy="216.1" r="4.25" fill="#0852ea" stroke="#000" stroke-width="1.2"/>
<circle cx="131.0" cy="217.6" r="4.25" fill="#0852ea" stroke="#000" stroke-width="1.2"/>
<circle cx="222.8" cy="213.6" r="4.25" fill="#0852ea" stroke="#000" stroke-width="1.2"/>
<circle cx="436.5" cy="208.9" r="4.25" fill="#0852ea" stroke="#000" stroke-width="1.2"/>
<circle cx="94.7" cy="217.8" r="4.25" fill="#0852ea" stroke="#000" stroke-width="1.2"/>
<circle cx="214.8" cy="211.0" r="4.25" fill="#0852ea" stroke="#000" stroke-width="1.2"/>
<circle cx="357.4" cy="215.5" r="4.25" fill="#0852ea" stroke="#000" stroke-width="1.2"/>
<circle cx="121.7" cy="219.2" r="4.25" fill="#0852ea" stroke="#000" stroke-width="1.2"/>
<circle cx="232.1" cy="216.1" r="4.25" fill="#0852ea" stroke="#000" stroke-width="1.2"/>
<circle cx="275.9" cy="216.2" r="4.25" fill="#0852ea" stroke="#000" stroke-width="1.2"/>
<circle cx="490.9" cy="218.2" r="4.25" fill="#0852ea" stroke="#000" stroke-width="1.2"/>
<circle cx="373.7" cy="215.1" r="4.25" fill="#0852ea" stroke="#000" stroke-width="1.2"/>
<circle cx="354.1" cy="216.6" r="4.25" fill="#0852ea" stroke="#000" stroke-width="1.2"/>
<circle cx="337.9" cy="218.4" r="4.25" fill="#0852ea" stroke="#000" stroke-width="1.2"/>
<circle cx="521.7" cy="210.5" r="4.25" fill="#0852ea" stroke="#000" stroke-width="1.2"/>
<circle cx="394.8" cy="202.2" r="4.25" fill="#0852ea" stroke="#000" stroke-width="1.2"/>
<circle cx="185.9" cy="208.2" r="4.25" fill="#0852ea" stroke="#000" stroke-width="1.2"/>
<circle cx="202.5" cy="210.0" r="4.25" fill="#0852ea" stroke="#000" stroke-width="1.2"/>
<circle cx="167.2" cy="218.3" r="4.25" fill="#0852ea" stroke="#000" stroke-width="1.2"/>
<circle cx="109.1" cy="217.4" r="4.25" fill="#0852ea" stroke="#000" stroke-width="1.2"/>
<circle cx="446.7" cy="219.3" r="4.25" fill="#0852ea" stroke="#000" stroke-width="1.2"/>
<circle cx="291.0" cy="212.9" r="4.25" fill="#0852ea" stroke="#000" stroke-width="1.2"/>
<circle cx="270.5" cy="218.8" r="4.25" fill="#0852ea" stroke="#000" stroke-width="1.2"/>
<circle cx="123.0" cy="217.8" r="4.25" fill="#0852ea" stroke="#000" stroke-width="1.2"/>
<circle cx="485.5" cy="218.7" r="4.25" fill="#0852ea" stroke="#000" stroke-width="1.2"/>
<circle cx="443.9" cy="200.3" r="4.25" fill="#0852ea" stroke="#000" stroke-width="1.2"/>
<circle cx="398.2" cy="214.6" r="4.25" fill="#0852ea" stroke="#000" stroke-width="1.2"/>
<circle cx="158.3" cy="217.8" r="4.25" fill="#0852ea" stroke="#000" stroke-width="1.2"/>
<circle cx="421.9" cy="214.3" r="4.25" fill="#0852ea" stroke="#000" stroke-width="1.2"/>
<circle cx="426.7" cy="211.9" r="4.25" fill="#0852ea" stroke="#000" stroke-width="1.2"/>
<circle cx="95.0" cy="217.1" r="4.25" fill="#0852ea" stroke="#000" stroke-width="1.2"/>
<circle cx="164.6" cy="219.1" r="4.25" fill="#0852ea" stroke="#000" stroke-width="1.2"/>
<circle cx="426.4" cy="206.5" r="4.25" fill="#0852ea" stroke="#000" stroke-width="1.2"/>
<circle cx="293.6" cy="218.4" r="4.25" fill="#0852ea" stroke="#000" stroke-width="1.2"/>
<circle cx="304.8" cy="216.0" r="4.25" fill="#0852ea" stroke="#000" stroke-width="1.2"/>
<circle cx="262.9" cy="212.2" r="4.25" fill="#0852ea" stroke="#000" stroke-width="1.2"/>
<circle cx="152.8" cy="217.9" r="4.25" fill="#0852ea" stroke="#000" stroke-width="1.2"/>
<circle cx="370.2" cy="218.6" r="4.25" fill="#0852ea" stroke="#000" stroke-width="1.2"/>
<circle cx="268.0" cy="218.9" r="4.25" fill="#0852ea" stroke="#000" stroke-width="1.2"/>
<circle cx="110.8" cy="218.1" r="4.25" fill="#0852ea" stroke="#000" stroke-width="1.2"/>
<circle cx="227.2" cy="214.3" r="4.25" fill="#0852ea" stroke="#000" stroke-width="1.2"/>
<circle cx="338.0" cy="217.4" r="4.25" fill="#0852ea" stroke="#000" stroke-width="1.2"/>
<circle cx="223.8" cy="216.9" r="4.25" fill="#0852ea" stroke="#000" stroke-width="1.2"/>
<circle cx="268.9" cy="217.1" r="4.25" fill="#0852ea" stroke="#000" stroke-width="1.2"/>
<circle cx="464.0" cy="215.3" r="4.25" fill="#0852ea" stroke="#000" stroke-width="1.2"/>
<circle cx="107.5" cy="218.3" r="4.25" fill="#0852ea" stroke="#000" stroke-width="1.2"/>
<circle cx="264.1" cy="213.7" r="4.25" fill="#0852ea" stroke="#000" stroke-width="1.2"/>
<circle cx="237.6" cy="217.2" r="4.25" fill="#0852ea" stroke="#000" stroke-width="1.2"/>
<circle cx="99.0" cy="212.5" r="4.25" fill="#0852ea" stroke="#000" stroke-width="1.2"/>
<circle cx="167.6" cy="214.4" r="4.25" fill="#0852ea" stroke="#000" stroke-width="1.2"/>
<circle cx="274.3" cy="210.3" r="4.25" fill="#0852ea" stroke="#000" stroke-width="1.2"/>
<circle cx="113.8" cy="218.9" r="4.25" fill="#0852ea" stroke="#000" stroke-width="1.2"/>
<circle cx="84.1" cy="211.4" r="4.25" fill="#0852ea" stroke="#000" stroke-width="1.2"/>
<circle cx="395.7" cy="214.2" r="4.25" fill="#0852ea" stroke="#000" stroke-width="1.2"/>
<circle cx="186.9" cy="209.9" r="4.25" fill="#0852ea" stroke="#000" stroke-width="1.2"/>
<circle cx="290.2" cy="216.5" r="4.25" fill="#0852ea" stroke="#000" stroke-width="1.2"/>
<circle cx="132.5" cy="215.6" r="4.25" fill="#0852ea" stroke="#000" stroke-width="1.2"/>
<circle cx="206.6" cy="213.7" r="4.25" fill="#0852ea" stroke="#000" stroke-width="1.2"/>
<circle cx="203.5" cy="217.0" r="4.25" fill="#0852ea" stroke="#000" stroke-width="1.2"/>
<circle cx="94.9" cy="218.2" r="4.25" fill="#0852ea" stroke="#000" stroke-width="1.2"/>
<circle cx="156.2" cy="219.3" r="4.25" fill="#0852ea" stroke="#000" stroke-width="1.2"/>
<circle cx="392.1" cy="218.9" r="4.25" fill="#0852ea" stroke="#000" stroke-width="1.2"/>
<circle cx="520.9" cy="214.4" r="4.25" fill="#0852ea" stroke="#000" stroke-width="1.2"/>
<circle cx="329.7" cy="218.1" r="4.25" fill="#0852ea" stroke="#000" stroke-width="1.2"/>
<circle cx="336.0" cy="212.9" r="4.25" fill="#0852ea" stroke="#000" stroke-width="1.2"/>
<circle cx="205.5" cy="212.2" r="4.25" fill="#0852ea" stroke="#000" stroke-width="1.2"/>
<circle cx="422.3" cy="212.2" r="4.25" fill="#0852ea" stroke="#000" stroke-width="1.2"/>
<circle cx="292.7" cy="213.1" r="4.25" fill="#0852ea" stroke="#000" stroke-width="1.2"/>
<circle cx="511.3" cy="215.4" r="4.25" fill="#0852ea" stroke="#000" stroke-width="1.2"/>
<circle cx="377.2" cy="212.6" r="4.25" fill="#0852ea" stroke="#000" stroke-width="1.2"/>
<circle cx="299.9" cy="212.8" r="4.25" fill="#0852ea" stroke="#000" stroke-width="1.2"/>
<circle cx="435.4" cy="219.0" r="4.25" fill="#0852ea" stroke="#000" stroke-width="1.2"/>
<circle cx="365.0" cy="214.1" r="4.25" fill="#0852ea" stroke="#000" stroke-width="1.2"/>
<circle cx="369.6" cy="211.8" r="4.25" fill="#0852ea" stroke="#000" stroke-width="1.2"/>
<circle cx="525.8" cy="209.5" r="4.25" fill="#0852ea" stroke="#000" stroke-width="1.2"/>
<circle cx="215.3" cy="215.5" r="4.25" fill="#0852ea" stroke="#000" stroke-width="1.2"/>
<circle cx="514.7" cy="215.7" r="4.25" fill="#0852ea" stroke="#000" stroke-width="1.2"/>
<circle cx="210.6" cy="214.7" r="4.25" fill="#0852ea" stroke="#000" stroke-width="1.2"/>
<circle cx="171.0" cy="219.2" r="4.25" fill="#0852ea" stroke="#000" stroke-width="1.2"/>
<circle cx="355.2" cy="216.7" r="4.25" fill="#0852ea" stroke="#000" stroke-width="1.2"/>
<circle cx="437.7" cy="216.3" r="4.25" fill="#0852ea" stroke="#000" stroke-width="1.2"/>
<circle cx="498.1" cy="216.0" r="4.25" fill="#0852ea" stroke="#000" stroke-width="1.2"/>
<circle cx="405.2" cy="209.7" r="4.25" fill="#0852ea" stroke="#000" stroke-width="1.2"/>
<circle cx="102.0" cy="219.3" r="4.25" fill="#0852ea" stroke="#000" stroke-width="1.2"/>
<circle cx="90.9" cy="196.0" r="4.25" fill="#0852ea" stroke="#000" stroke-width="1.2"/>
<circle cx="84.5" cy="205.3" r="4.25" fill="#0852ea" stroke="#000" stroke-width="1.2"/>
<circle cx="131.5" cy="193.1" r="4.25" fill="#0852ea" stroke="#000" stroke-width="1.2"/>
<circle cx="124.2" cy="204.0" r="4.25" fill="#0852ea" stroke="#000" stroke-width="1.2"/>
<circle cx="140.0" cy="206.2" r="4.25" fill="#0852ea" stroke="#000" stroke-width="1.2"/>
<circle cx="223.0" cy="193.4" r="4.25" fill="#0852ea" stroke="#000" stroke-width="1.2"/>
<circle cx="195.7" cy="200.4" r="4.25" fill="#0852ea" stroke="#000" stroke-width="1.2"/>
<circle cx="187.5" cy="204.3" r="4.25" fill="#0852ea" stroke="#000" stroke-width="1.2"/>
<circle cx="179.6" cy="206.5" r="4.25" fill="#0852ea" stroke="#000" stroke-width="1.2"/>
<circle cx="226.9" cy="207.2" r="4.25" fill="#0852ea" stroke="#000" stroke-width="1.2"/>
<circle cx="239.8" cy="204.3" r="4.25" fill="#0852ea" stroke="#000" stroke-width="1.2"/>
<circle cx="247.8" cy="204.3" r="4.25" fill="#0852ea" stroke="#000" stroke-width="1.2"/>
<circle cx="302.0" cy="176.5" r="4.25" fill="#0852ea" stroke="#000" stroke-width="1.2"/>
<circle cx="305.5" cy="176.3" r="4.25" fill="#0852ea" stroke="#000" stroke-width="1.2"/>
<circle cx="309.8" cy="176.2" r="4.25" fill="#0852ea" stroke="#000" stroke-width="1.2"/>
<circle cx="299.1" cy="187.4" r="4.25" fill="#0852ea" stroke="#000" stroke-width="1.2"/>
<circle cx="306.4" cy="188.2" r="4.25" fill="#0852ea" stroke="#000" stroke-width="1.2"/>
<circle cx="282.3" cy="193.3" r="4.25" fill="#0852ea" stroke="#000" stroke-width="1.2"/>
<circle cx="291.8" cy="193.3" r="4.25" fill="#0852ea" stroke="#000" stroke-width="1.2"/>
<circle cx="346.4" cy="185.1" r="4.25" fill="#0852ea" stroke="#000" stroke-width="1.2"/>
<circle cx="341.7" cy="198.7" r="4.25" fill="#0852ea" stroke="#000" stroke-width="1.2"/>
<circle cx="346.1" cy="198.7" r="4.25" fill="#0852ea" stroke="#000" stroke-width="1.2"/>
<circle cx="351.9" cy="199.4" r="4.25" fill="#0852ea" stroke="#000" stroke-width="1.2"/>
<circle cx="436.1" cy="191.3" r="4.25" fill="#0852ea" stroke="#000" stroke-width="1.2"/>
<circle cx="426.6" cy="197.0" r="4.25" fill="#0852ea" stroke="#000" stroke-width="1.2"/>
<circle cx="436.7" cy="199.8" r="4.25" fill="#0852ea" stroke="#000" stroke-width="1.2"/>
<circle cx="447.5" cy="197.0" r="4.25" fill="#0852ea" stroke="#000" stroke-width="1.2"/>
<circle cx="456.4" cy="198.9" r="4.25" fill="#0852ea" stroke="#000" stroke-width="1.2"/>
<circle cx="515.8" cy="196.4" r="4.25" fill="#0852ea" stroke="#000" stroke-width="1.2"/>
<circle cx="498.4" cy="203.3" r="4.25" fill="#0852ea" stroke="#000" stroke-width="1.2"/>
<circle cx="513.9" cy="204.6" r="4.25" fill="#0852ea" stroke="#000" stroke-width="1.2"/>
<circle cx="525.3" cy="209.7" r="4.25" fill="#0852ea" stroke="#000" stroke-width="1.2"/>
<circle cx="528.2" cy="209.7" r="4.25" fill="#0852ea" stroke="#000" stroke-width="1.2"/>
<circle cx="385.5" cy="198.2" r="4.25" fill="#0852ea" stroke="#000" stroke-width="1.2"/>
<circle cx="392.0" cy="198.7" r="4.25" fill="#0852ea" stroke="#000" stroke-width="1.2"/>
<circle cx="400.0" cy="197.7" r="4.25" fill="#0852ea" stroke="#000" stroke-width="1.2"/>
<circle cx="409.6" cy="198.2" r="4.25" fill="#0852ea" stroke="#000" stroke-width="1.2"/>
<circle cx="425.6" cy="197.2" r="4.25" fill="#0852ea" stroke="#000" stroke-width="1.2"/>
<circle cx="303.0" cy="199.0" r="4.25" fill="#0852ea" stroke="#000" stroke-width="1.2"/>
<circle cx="309.0" cy="203.0" r="4.25" fill="#0852ea" stroke="#000" stroke-width="1.2"/>
<circle cx="313.0" cy="197.0" r="4.25" fill="#0852ea" stroke="#000" stroke-width="1.2"/>
<circle cx="318.0" cy="201.0" r="4.25" fill="#0852ea" stroke="#000" stroke-width="1.2"/>
<circle cx="323.0" cy="205.0" r="4.25" fill="#0852ea" stroke="#000" stroke-width="1.2"/>
<circle cx="328.0" cy="208.0" r="4.25" fill="#0852ea" stroke="#000" stroke-width="1.2"/>
<circle cx="333.0" cy="211.0" r="4.25" fill="#0852ea" stroke="#000" stroke-width="1.2"/>
<circle cx="226.6" cy="206.6" r="4.25" fill="#0852ea" stroke="#000" stroke-width="1.2"/>
<circle cx="240.8" cy="208.8" r="4.25" fill="#0852ea" stroke="#000" stroke-width="1.2"/>
<circle cx="249.6" cy="204.4" r="4.25" fill="#0852ea" stroke="#000" stroke-width="1.2"/>
<circle cx="260.7" cy="200.0" r="4.25" fill="#0852ea" stroke="#000" stroke-width="1.2"/>
<circle cx="270.8" cy="201.8" r="4.25" fill="#0852ea" stroke="#000" stroke-width="1.2"/>
<circle cx="262.0" cy="206.0" r="4.25" fill="#0852ea" stroke="#000" stroke-width="1.2"/>
<circle cx="275.0" cy="207.0" r="4.25" fill="#0852ea" stroke="#000" stroke-width="1.2"/>
<circle cx="285.0" cy="208.0" r="4.25" fill="#0852ea" stroke="#000" stroke-width="1.2"/>
<circle cx="255.0" cy="209.0" r="4.25" fill="#0852ea" stroke="#000" stroke-width="1.2"/>
<circle cx="232.0" cy="210.0" r="4.25" fill="#0852ea" stroke="#000" stroke-width="1.2"/>
<circle cx="298.8" cy="186.9" r="4.25" fill="#0852ea" stroke="#000" stroke-width="1.2"/>
<circle cx="303.2" cy="193.0" r="4.25" fill="#0852ea" stroke="#000" stroke-width="1.2"/>
<circle cx="305.0" cy="199.0" r="4.25" fill="#0852ea" stroke="#000" stroke-width="1.2"/>
<circle cx="308.7" cy="204.4" r="4.25" fill="#0852ea" stroke="#000" stroke-width="1.2"/>
<circle cx="313.0" cy="195.0" r="4.25" fill="#0852ea" stroke="#000" stroke-width="1.2"/>
<circle cx="316.0" cy="202.0" r="4.25" fill="#0852ea" stroke="#000" stroke-width="1.2"/>
<circle cx="320.0" cy="199.0" r="4.25" fill="#0852ea" stroke="#000" stroke-width="1.2"/>
<circle cx="323.0" cy="201.0" r="4.25" fill="#0852ea" stroke="#000" stroke-width="1.2"/>
<circle cx="326.0" cy="206.0" r="4.25" fill="#0852ea" stroke="#000" stroke-width="1.2"/>
<circle cx="329.5" cy="207.7" r="4.25" fill="#0852ea" stroke="#000" stroke-width="1.2"/>
<circle cx="334.0" cy="205.0" r="4.25" fill="#0852ea" stroke="#000" stroke-width="1.2"/>
<circle cx="338.3" cy="208.8" r="4.25" fill="#0852ea" stroke="#000" stroke-width="1.2"/>
<circle cx="318.0" cy="208.0" r="4.25" fill="#0852ea" stroke="#000" stroke-width="1.2"/>
<circle cx="312.0" cy="209.0" r="4.25" fill="#0852ea" stroke="#000" stroke-width="1.2"/>
<circle cx="155.8" cy="210.9" r="4.25" fill="#0852ea" stroke="#000" stroke-width="1.2"/>
<circle cx="173.8" cy="211.6" r="4.25" fill="#0852ea" stroke="#000" stroke-width="1.2"/>
<line x1="284.9" y1="182.8" x2="315" y2="204.1" stroke="#000" stroke-width="1.1"/>
<circle cx="277.5" cy="152.4" r="4.25" fill="#00c8e8" stroke="#000" stroke-width="1.2"/>
<circle cx="275.8" cy="170.7" r="4.25" fill="#00c8e8" stroke="#000" stroke-width="1.2"/>
<circle cx="318.4" cy="162.2" r="4.25" fill="#00c8e8" stroke="#000" stroke-width="1.2"/>
<circle cx="330.8" cy="178.7" r="4.25" fill="#00c8e8" stroke="#000" stroke-width="1.2"/>
<circle cx="320.3" cy="184.5" r="4.25" fill="#00c8e8" stroke="#000" stroke-width="1.2"/>
<circle cx="310.5" cy="193.7" r="4.25" fill="#00c8e8" stroke="#000" stroke-width="1.2"/>
<circle cx="241.5" cy="196.0" r="4.25" fill="#00c8e8" stroke="#000" stroke-width="1.2"/>
<circle cx="323.2" cy="154.6" r="4.25" fill="#00e196" stroke="#000" stroke-width="1.2"/>
<circle cx="323.9" cy="148.3" r="4.25" fill="#00e196" stroke="#000" stroke-width="1.2"/>
<circle cx="334.2" cy="173.9" r="4.25" fill="#00e196" stroke="#000" stroke-width="1.2"/>
<circle cx="328.6" cy="173.9" r="4.25" fill="#00e196" stroke="#000" stroke-width="1.2"/>
<circle cx="275.5" cy="72.3" r="4.25" fill="#e69a00" stroke="#000" stroke-width="1.2"/>
<circle cx="269.0" cy="82.3" r="4.25" fill="#e69a00" stroke="#000" stroke-width="1.2"/>
<circle cx="307.7" cy="108.8" r="4.25" fill="#e69a00" stroke="#000" stroke-width="1.2"/>
<circle cx="305.2" cy="48.2" r="4.25" fill="#e60052" stroke="#000" stroke-width="1.2"/>
<circle cx="296.7" cy="59.2" r="4.25" fill="#e60052" stroke="#000" stroke-width="1.2"/>
<circle cx="306.9" cy="60.2" r="4.25" fill="#e60052" stroke="#000" stroke-width="1.2"/>
<circle cx="285.8" cy="61.4" r="4.25" fill="#e60052" stroke="#000" stroke-width="1.2"/>
<circle cx="288.2" cy="63.3" r="4.25" fill="#e60052" stroke="#000" stroke-width="1.2"/>
<circle cx="285.3" cy="68.7" r="4.25" fill="#e60052" stroke="#000" stroke-width="1.2"/>
<text x="230.9" y="185.8" font-size="9.6" text-anchor="start" font-weight="bold" font-style="italic" fill="#000" >rs35222081</text>
<line x1="49.25" y1="33.8" x2="550.05" y2="33.8" stroke="#151515" stroke-width="1.6"/>
<line x1="549.25" y1="33.0" x2="549.25" y2="227.7" stroke="#151515" stroke-width="1.6"/>
<line x1="48.375" y1="227.7" x2="550.05" y2="227.7" stroke="#000" stroke-width="2.0"/>
<line x1="49.25" y1="33.0" x2="49.25" y2="228.7" stroke="#000" stroke-width="1.75"/>
<rect x="321.5" y="33.8" width="62.2" height="16.2" rx="2" fill="#fff" stroke="#000" stroke-width="0.8"/>
<line x1="321.5" y1="33.8" x2="383.7" y2="33.8" stroke="#000" stroke-width="1.4"/>
<text x="352.5" y="45.8" font-size="9.6" text-anchor="middle" font-weight="bold" font-style="normal" fill="#000" >rs12019136</text>
<line x1="45" y1="219.4" x2="48.4" y2="219.4" stroke="#262626" stroke-width="1.1"/>
<text x="42" y="222.5" font-size="8.8" text-anchor="end" font-weight="normal" font-style="normal" fill="#474747" >0</text>
<line x1="45" y1="167.5" x2="48.4" y2="167.5" stroke="#262626" stroke-width="1.1"/>
<text x="42" y="170.6" font-size="8.8" text-anchor="end" font-weight="normal" font-style="normal" fill="#474747" >10</text>
<line x1="45" y1="115.5" x2="48.4" y2="115.5" stroke="#262626" stroke-width="1.1"/>
<text x="42" y="118.6" font-size="8.8" text-anchor="end" font-weight="normal" font-style="normal" fill="#474747" >20</text>
<line x1="45" y1="63.6" x2="48.4" y2="63.6" stroke="#262626" stroke-width="1.1"/>
<text x="42" y="66.7" font-size="8.8" text-anchor="end" font-weight="normal" font-style="normal" fill="#474747" >30</text>
<line x1="161.9" y1="228.7" x2="161.9" y2="232" stroke="#262626" stroke-width="1.1"/>
<text x="161.9" y="241.3" font-size="8.8" text-anchor="middle" font-weight="normal" font-style="normal" fill="#474747" >5760000</text>
<line x1="301.4" y1="228.7" x2="301.4" y2="232" stroke="#262626" stroke-width="1.1"/>
<text x="301.4" y="241.3" font-size="8.8" text-anchor="middle" font-weight="normal" font-style="normal" fill="#474747" >5830000</text>
<line x1="440.6" y1="228.7" x2="440.6" y2="232" stroke="#262626" stroke-width="1.1"/>
<text x="440.6" y="241.3" font-size="8.8" text-anchor="middle" font-weight="normal" font-style="normal" fill="#474747" >5900000</text>
<text x="0" y="0" font-size="11" text-anchor="middle" font-weight="normal" font-style="normal" fill="#000" transform="translate(25.9,130.9) rotate(-90)">−log10(p)</text>
<rect x="566.9" y="171.7" width="75.4" height="152.8" fill="#fff" stroke="#333" stroke-width="0.9"/>
<text x="574.5" y="189" font-size="10.5" text-anchor="start" font-weight="normal" font-style="normal" fill="#000" >r2</text>
<circle cx="586.6" cy="208.8" r="4.2" fill="#0852ea" stroke="#000" stroke-width="1.2"/>
<text x="604.4" y="212.10000000000002" font-size="9.6" text-anchor="start" font-weight="normal" font-style="normal" fill="#000" >0–0.2</text>
<circle cx="586.6" cy="232.9" r="4.2" fill="#00c8e8" stroke="#000" stroke-width="1.2"/>
<text x="604.4" y="236.20000000000002" font-size="9.6" text-anchor="start" font-weight="normal" font-style="normal" fill="#000" >0.2–0.4</text>
<circle cx="586.6" cy="257.0" r="4.2" fill="#00e196" stroke="#000" stroke-width="1.2"/>
<text x="604.4" y="260.3" font-size="9.6" text-anchor="start" font-weight="normal" font-style="normal" fill="#000" >0.4–0.6</text>
<circle cx="586.6" cy="281.1" r="4.2" fill="#e69a00" stroke="#000" stroke-width="1.2"/>
<text x="604.4" y="284.40000000000003" font-size="9.6" text-anchor="start" font-weight="normal" font-style="normal" fill="#000" >0.6–0.8</text>
<circle cx="586.6" cy="305.2" r="4.2" fill="#e60052" stroke="#000" stroke-width="1.2"/>
<text x="604.4" y="308.50000000000006" font-size="9.6" text-anchor="start" font-weight="normal" font-style="normal" fill="#000" >0.8–1</text>
<text x="-1" y="274.5" font-size="14" text-anchor="start" font-weight="bold" font-style="normal" fill="#000" >B)</text>
<text x="300.3" y="286.9" font-size="13.9" text-anchor="middle" font-weight="bold" font-style="normal" fill="#000" >IgG GP20 – FUT6 locus</text>
<circle cx="354.9" cy="468.9" r="4.25" fill="#0852ea" stroke="#000" stroke-width="1.2"/>
<circle cx="432.6" cy="462.9" r="4.25" fill="#0852ea" stroke="#000" stroke-width="1.2"/>
<circle cx="407.7" cy="463.5" r="4.25" fill="#0852ea" stroke="#000" stroke-width="1.2"/>
<circle cx="87.1" cy="479.2" r="4.25" fill="#0852ea" stroke="#000" stroke-width="1.2"/>
<circle cx="499.5" cy="472.5" r="4.25" fill="#0852ea" stroke="#000" stroke-width="1.2"/>
<circle cx="480.3" cy="482.2" r="4.25" fill="#0852ea" stroke="#000" stroke-width="1.2"/>
<circle cx="285.6" cy="482.2" r="4.25" fill="#0852ea" stroke="#000" stroke-width="1.2"/>
<circle cx="319.2" cy="476.9" r="4.25" fill="#0852ea" stroke="#000" stroke-width="1.2"/>
<circle cx="79.9" cy="481.8" r="4.25" fill="#0852ea" stroke="#000" stroke-width="1.2"/>
<circle cx="200.0" cy="461.9" r="4.25" fill="#0852ea" stroke="#000" stroke-width="1.2"/>
<circle cx="419.3" cy="481.6" r="4.25" fill="#0852ea" stroke="#000" stroke-width="1.2"/>
<circle cx="433.5" cy="481.9" r="4.25" fill="#0852ea" stroke="#000" stroke-width="1.2"/>
<circle cx="352.5" cy="482.0" r="4.25" fill="#0852ea" stroke="#000" stroke-width="1.2"/>
<circle cx="74.8" cy="473.2" r="4.25" fill="#0852ea" stroke="#000" stroke-width="1.2"/>
<circle cx="168.5" cy="481.1" r="4.25" fill="#0852ea" stroke="#000" stroke-width="1.2"/>
<circle cx="517.1" cy="467.6" r="4.25" fill="#0852ea" stroke="#000" stroke-width="1.2"/>
<circle cx="204.5" cy="460.4" r="4.25" fill="#0852ea" stroke="#000" stroke-width="1.2"/>
<circle cx="317.2" cy="475.2" r="4.25" fill="#0852ea" stroke="#000" stroke-width="1.2"/>
<circle cx="166.4" cy="466.0" r="4.25" fill="#0852ea" stroke="#000" stroke-width="1.2"/>
<circle cx="385.5" cy="462.1" r="4.25" fill="#0852ea" stroke="#000" stroke-width="1.2"/>
<circle cx="477.1" cy="479.6" r="4.25" fill="#0852ea" stroke="#000" stroke-width="1.2"/>
<circle cx="236.9" cy="481.4" r="4.25" fill="#0852ea" stroke="#000" stroke-width="1.2"/>
<circle cx="139.7" cy="482.8" r="4.25" fill="#0852ea" stroke="#000" stroke-width="1.2"/>
<circle cx="209.9" cy="471.8" r="4.25" fill="#0852ea" stroke="#000" stroke-width="1.2"/>
<circle cx="75.5" cy="476.3" r="4.25" fill="#0852ea" stroke="#000" stroke-width="1.2"/>
<circle cx="226.4" cy="478.9" r="4.25" fill="#0852ea" stroke="#000" stroke-width="1.2"/>
<circle cx="443.2" cy="475.7" r="4.25" fill="#0852ea" stroke="#000" stroke-width="1.2"/>
<circle cx="216.4" cy="475.0" r="4.25" fill="#0852ea" stroke="#000" stroke-width="1.2"/>
<circle cx="391.8" cy="482.7" r="4.25" fill="#0852ea" stroke="#000" stroke-width="1.2"/>
<circle cx="513.8" cy="482.9" r="4.25" fill="#0852ea" stroke="#000" stroke-width="1.2"/>
<circle cx="412.2" cy="465.9" r="4.25" fill="#0852ea" stroke="#000" stroke-width="1.2"/>
<circle cx="82.1" cy="474.6" r="4.25" fill="#0852ea" stroke="#000" stroke-width="1.2"/>
<circle cx="239.1" cy="472.4" r="4.25" fill="#0852ea" stroke="#000" stroke-width="1.2"/>
<circle cx="78.1" cy="482.9" r="4.25" fill="#0852ea" stroke="#000" stroke-width="1.2"/>
<circle cx="155.6" cy="468.0" r="4.25" fill="#0852ea" stroke="#000" stroke-width="1.2"/>
<circle cx="162.6" cy="471.4" r="4.25" fill="#0852ea" stroke="#000" stroke-width="1.2"/>
<circle cx="493.3" cy="464.4" r="4.25" fill="#0852ea" stroke="#000" stroke-width="1.2"/>
<circle cx="229.3" cy="477.9" r="4.25" fill="#0852ea" stroke="#000" stroke-width="1.2"/>
<circle cx="310.6" cy="473.8" r="4.25" fill="#0852ea" stroke="#000" stroke-width="1.2"/>
<circle cx="122.7" cy="478.5" r="4.25" fill="#0852ea" stroke="#000" stroke-width="1.2"/>
<circle cx="433.5" cy="465.5" r="4.25" fill="#0852ea" stroke="#000" stroke-width="1.2"/>
<circle cx="90.5" cy="472.2" r="4.25" fill="#0852ea" stroke="#000" stroke-width="1.2"/>
<circle cx="115.1" cy="481.6" r="4.25" fill="#0852ea" stroke="#000" stroke-width="1.2"/>
<circle cx="349.5" cy="464.2" r="4.25" fill="#0852ea" stroke="#000" stroke-width="1.2"/>
<circle cx="227.3" cy="461.7" r="4.25" fill="#0852ea" stroke="#000" stroke-width="1.2"/>
<circle cx="319.9" cy="480.5" r="4.25" fill="#0852ea" stroke="#000" stroke-width="1.2"/>
<circle cx="216.9" cy="481.2" r="4.25" fill="#0852ea" stroke="#000" stroke-width="1.2"/>
<circle cx="109.3" cy="482.6" r="4.25" fill="#0852ea" stroke="#000" stroke-width="1.2"/>
<circle cx="384.8" cy="461.1" r="4.25" fill="#0852ea" stroke="#000" stroke-width="1.2"/>
<circle cx="146.8" cy="482.8" r="4.25" fill="#0852ea" stroke="#000" stroke-width="1.2"/>
<circle cx="519.0" cy="475.7" r="4.25" fill="#0852ea" stroke="#000" stroke-width="1.2"/>
<circle cx="257.1" cy="481.0" r="4.25" fill="#0852ea" stroke="#000" stroke-width="1.2"/>
<circle cx="341.9" cy="471.2" r="4.25" fill="#0852ea" stroke="#000" stroke-width="1.2"/>
<circle cx="279.5" cy="481.2" r="4.25" fill="#0852ea" stroke="#000" stroke-width="1.2"/>
<circle cx="99.1" cy="476.5" r="4.25" fill="#0852ea" stroke="#000" stroke-width="1.2"/>
<circle cx="88.8" cy="478.8" r="4.25" fill="#0852ea" stroke="#000" stroke-width="1.2"/>
<circle cx="452.1" cy="482.0" r="4.25" fill="#0852ea" stroke="#000" stroke-width="1.2"/>
<circle cx="404.0" cy="462.6" r="4.25" fill="#0852ea" stroke="#000" stroke-width="1.2"/>
<circle cx="358.3" cy="467.6" r="4.25" fill="#0852ea" stroke="#000" stroke-width="1.2"/>
<circle cx="122.1" cy="481.0" r="4.25" fill="#0852ea" stroke="#000" stroke-width="1.2"/>
<circle cx="141.3" cy="472.7" r="4.25" fill="#0852ea" stroke="#000" stroke-width="1.2"/>
<circle cx="207.0" cy="475.7" r="4.25" fill="#0852ea" stroke="#000" stroke-width="1.2"/>
<circle cx="524.7" cy="468.6" r="4.25" fill="#0852ea" stroke="#000" stroke-width="1.2"/>
<circle cx="514.2" cy="477.2" r="4.25" fill="#0852ea" stroke="#000" stroke-width="1.2"/>
<circle cx="294.2" cy="479.2" r="4.25" fill="#0852ea" stroke="#000" stroke-width="1.2"/>
<circle cx="290.0" cy="482.0" r="4.25" fill="#0852ea" stroke="#000" stroke-width="1.2"/>
<circle cx="256.1" cy="481.9" r="4.25" fill="#0852ea" stroke="#000" stroke-width="1.2"/>
<circle cx="244.0" cy="459.4" r="4.25" fill="#0852ea" stroke="#000" stroke-width="1.2"/>
<circle cx="506.9" cy="473.3" r="4.25" fill="#0852ea" stroke="#000" stroke-width="1.2"/>
<circle cx="299.2" cy="481.8" r="4.25" fill="#0852ea" stroke="#000" stroke-width="1.2"/>
<circle cx="114.2" cy="482.0" r="4.25" fill="#0852ea" stroke="#000" stroke-width="1.2"/>
<circle cx="426.7" cy="465.2" r="4.25" fill="#0852ea" stroke="#000" stroke-width="1.2"/>
<circle cx="237.0" cy="466.3" r="4.25" fill="#0852ea" stroke="#000" stroke-width="1.2"/>
<circle cx="423.5" cy="470.3" r="4.25" fill="#0852ea" stroke="#000" stroke-width="1.2"/>
<circle cx="373.5" cy="468.4" r="4.25" fill="#0852ea" stroke="#000" stroke-width="1.2"/>
<circle cx="237.9" cy="468.8" r="4.25" fill="#0852ea" stroke="#000" stroke-width="1.2"/>
<circle cx="200.7" cy="474.9" r="4.25" fill="#0852ea" stroke="#000" stroke-width="1.2"/>
<circle cx="421.2" cy="470.4" r="4.25" fill="#0852ea" stroke="#000" stroke-width="1.2"/>
<circle cx="206.5" cy="460.9" r="4.25" fill="#0852ea" stroke="#000" stroke-width="1.2"/>
<circle cx="367.0" cy="473.3" r="4.25" fill="#0852ea" stroke="#000" stroke-width="1.2"/>
<circle cx="79.2" cy="478.1" r="4.25" fill="#0852ea" stroke="#000" stroke-width="1.2"/>
<circle cx="187.1" cy="470.4" r="4.25" fill="#0852ea" stroke="#000" stroke-width="1.2"/>
<circle cx="282.8" cy="478.2" r="4.25" fill="#0852ea" stroke="#000" stroke-width="1.2"/>
<circle cx="366.0" cy="467.3" r="4.25" fill="#0852ea" stroke="#000" stroke-width="1.2"/>
<circle cx="230.9" cy="470.6" r="4.25" fill="#0852ea" stroke="#000" stroke-width="1.2"/>
<circle cx="406.8" cy="466.4" r="4.25" fill="#0852ea" stroke="#000" stroke-width="1.2"/>
<circle cx="231.9" cy="464.4" r="4.25" fill="#0852ea" stroke="#000" stroke-width="1.2"/>
<circle cx="466.3" cy="470.7" r="4.25" fill="#0852ea" stroke="#000" stroke-width="1.2"/>
<circle cx="514.2" cy="465.2" r="4.25" fill="#0852ea" stroke="#000" stroke-width="1.2"/>
<circle cx="307.7" cy="477.9" r="4.25" fill="#0852ea" stroke="#000" stroke-width="1.2"/>
<circle cx="148.9" cy="471.7" r="4.25" fill="#0852ea" stroke="#000" stroke-width="1.2"/>
<circle cx="496.8" cy="476.4" r="4.25" fill="#0852ea" stroke="#000" stroke-width="1.2"/>
<circle cx="385.8" cy="469.6" r="4.25" fill="#0852ea" stroke="#000" stroke-width="1.2"/>
<circle cx="403.4" cy="481.4" r="4.25" fill="#0852ea" stroke="#000" stroke-width="1.2"/>
<circle cx="425.9" cy="473.3" r="4.25" fill="#0852ea" stroke="#000" stroke-width="1.2"/>
<circle cx="374.2" cy="477.0" r="4.25" fill="#0852ea" stroke="#000" stroke-width="1.2"/>
<circle cx="355.3" cy="468.0" r="4.25" fill="#0852ea" stroke="#000" stroke-width="1.2"/>
<circle cx="361.2" cy="469.5" r="4.25" fill="#0852ea" stroke="#000" stroke-width="1.2"/>
<circle cx="86.5" cy="482.2" r="4.25" fill="#0852ea" stroke="#000" stroke-width="1.2"/>
<circle cx="272.9" cy="479.5" r="4.25" fill="#0852ea" stroke="#000" stroke-width="1.2"/>
<circle cx="172.8" cy="471.5" r="4.25" fill="#0852ea" stroke="#000" stroke-width="1.2"/>
<circle cx="358.5" cy="482.8" r="4.25" fill="#0852ea" stroke="#000" stroke-width="1.2"/>
<circle cx="286.7" cy="482.3" r="4.25" fill="#0852ea" stroke="#000" stroke-width="1.2"/>
<circle cx="98.4" cy="482.6" r="4.25" fill="#0852ea" stroke="#000" stroke-width="1.2"/>
<circle cx="217.1" cy="481.1" r="4.25" fill="#0852ea" stroke="#000" stroke-width="1.2"/>
<circle cx="161.2" cy="482.9" r="4.25" fill="#0852ea" stroke="#000" stroke-width="1.2"/>
<circle cx="283.9" cy="481.5" r="4.25" fill="#0852ea" stroke="#000" stroke-width="1.2"/>
<circle cx="349.9" cy="473.1" r="4.25" fill="#0852ea" stroke="#000" stroke-width="1.2"/>
<circle cx="181.3" cy="464.0" r="4.25" fill="#0852ea" stroke="#000" stroke-width="1.2"/>
<circle cx="74.3" cy="479.9" r="4.25" fill="#0852ea" stroke="#000" stroke-width="1.2"/>
<circle cx="199.6" cy="476.7" r="4.25" fill="#0852ea" stroke="#000" stroke-width="1.2"/>
<circle cx="125.9" cy="477.4" r="4.25" fill="#0852ea" stroke="#000" stroke-width="1.2"/>
<circle cx="242.6" cy="482.8" r="4.25" fill="#0852ea" stroke="#000" stroke-width="1.2"/>
<circle cx="350.7" cy="482.4" r="4.25" fill="#0852ea" stroke="#000" stroke-width="1.2"/>
<circle cx="319.9" cy="480.2" r="4.25" fill="#0852ea" stroke="#000" stroke-width="1.2"/>
<circle cx="336.0" cy="468.6" r="4.25" fill="#0852ea" stroke="#000" stroke-width="1.2"/>
<circle cx="443.2" cy="477.0" r="4.25" fill="#0852ea" stroke="#000" stroke-width="1.2"/>
<circle cx="440.7" cy="471.7" r="4.25" fill="#0852ea" stroke="#000" stroke-width="1.2"/>
<circle cx="240.6" cy="481.7" r="4.25" fill="#0852ea" stroke="#000" stroke-width="1.2"/>
<circle cx="342.8" cy="476.3" r="4.25" fill="#0852ea" stroke="#000" stroke-width="1.2"/>
<circle cx="505.7" cy="464.3" r="4.25" fill="#0852ea" stroke="#000" stroke-width="1.2"/>
<circle cx="348.5" cy="478.8" r="4.25" fill="#0852ea" stroke="#000" stroke-width="1.2"/>
<circle cx="477.0" cy="483.0" r="4.25" fill="#0852ea" stroke="#000" stroke-width="1.2"/>
<circle cx="122.7" cy="480.0" r="4.25" fill="#0852ea" stroke="#000" stroke-width="1.2"/>
<circle cx="351.4" cy="481.8" r="4.25" fill="#0852ea" stroke="#000" stroke-width="1.2"/>
<circle cx="357.9" cy="464.5" r="4.25" fill="#0852ea" stroke="#000" stroke-width="1.2"/>
<circle cx="243.5" cy="476.2" r="4.25" fill="#0852ea" stroke="#000" stroke-width="1.2"/>
<circle cx="176.1" cy="479.7" r="4.25" fill="#0852ea" stroke="#000" stroke-width="1.2"/>
<circle cx="512.6" cy="478.5" r="4.25" fill="#0852ea" stroke="#000" stroke-width="1.2"/>
<circle cx="507.5" cy="466.0" r="4.25" fill="#0852ea" stroke="#000" stroke-width="1.2"/>
<circle cx="342.7" cy="480.9" r="4.25" fill="#0852ea" stroke="#000" stroke-width="1.2"/>
<circle cx="516.4" cy="476.4" r="4.25" fill="#0852ea" stroke="#000" stroke-width="1.2"/>
<circle cx="261.4" cy="481.5" r="4.25" fill="#0852ea" stroke="#000" stroke-width="1.2"/>
<circle cx="517.9" cy="476.5" r="4.25" fill="#0852ea" stroke="#000" stroke-width="1.2"/>
<circle cx="203.2" cy="475.1" r="4.25" fill="#0852ea" stroke="#000" stroke-width="1.2"/>
<circle cx="129.0" cy="478.6" r="4.25" fill="#0852ea" stroke="#000" stroke-width="1.2"/>
<circle cx="274.0" cy="481.9" r="4.25" fill="#0852ea" stroke="#000" stroke-width="1.2"/>
<circle cx="426.5" cy="466.5" r="4.25" fill="#0852ea" stroke="#000" stroke-width="1.2"/>
<circle cx="80.0" cy="478.3" r="4.25" fill="#0852ea" stroke="#000" stroke-width="1.2"/>
<circle cx="197.5" cy="461.3" r="4.25" fill="#0852ea" stroke="#000" stroke-width="1.2"/>
<circle cx="426.6" cy="480.3" r="4.25" fill="#0852ea" stroke="#000" stroke-width="1.2"/>
<circle cx="194.7" cy="481.5" r="4.25" fill="#0852ea" stroke="#000" stroke-width="1.2"/>
<circle cx="520.0" cy="480.0" r="4.25" fill="#0852ea" stroke="#000" stroke-width="1.2"/>
<circle cx="348.2" cy="476.5" r="4.25" fill="#0852ea" stroke="#000" stroke-width="1.2"/>
<circle cx="364.8" cy="472.7" r="4.25" fill="#0852ea" stroke="#000" stroke-width="1.2"/>
<circle cx="409.3" cy="482.1" r="4.25" fill="#0852ea" stroke="#000" stroke-width="1.2"/>
<circle cx="416.9" cy="479.4" r="4.25" fill="#0852ea" stroke="#000" stroke-width="1.2"/>
<circle cx="314.6" cy="480.3" r="4.25" fill="#0852ea" stroke="#000" stroke-width="1.2"/>
<circle cx="207.9" cy="473.7" r="4.25" fill="#0852ea" stroke="#000" stroke-width="1.2"/>
<circle cx="283.4" cy="481.6" r="4.25" fill="#0852ea" stroke="#000" stroke-width="1.2"/>
<circle cx="410.0" cy="473.0" r="4.25" fill="#0852ea" stroke="#000" stroke-width="1.2"/>
<circle cx="90.4" cy="481.5" r="4.25" fill="#0852ea" stroke="#000" stroke-width="1.2"/>
<circle cx="279.5" cy="477.3" r="4.25" fill="#0852ea" stroke="#000" stroke-width="1.2"/>
<circle cx="474.5" cy="474.5" r="4.25" fill="#0852ea" stroke="#000" stroke-width="1.2"/>
<circle cx="80.6" cy="474.8" r="4.25" fill="#0852ea" stroke="#000" stroke-width="1.2"/>
<circle cx="266.9" cy="480.0" r="4.25" fill="#0852ea" stroke="#000" stroke-width="1.2"/>
<circle cx="393.4" cy="471.9" r="4.25" fill="#0852ea" stroke="#000" stroke-width="1.2"/>
<circle cx="291.3" cy="477.6" r="4.25" fill="#0852ea" stroke="#000" stroke-width="1.2"/>
<circle cx="247.8" cy="477.1" r="4.25" fill="#0852ea" stroke="#000" stroke-width="1.2"/>
<circle cx="458.2" cy="481.1" r="4.25" fill="#0852ea" stroke="#000" stroke-width="1.2"/>
<circle cx="207.7" cy="464.9" r="4.25" fill="#0852ea" stroke="#000" stroke-width="1.2"/>
<circle cx="103.8" cy="477.6" r="4.25" fill="#0852ea" stroke="#000" stroke-width="1.2"/>
<circle cx="387.3" cy="476.7" r="4.25" fill="#0852ea" stroke="#000" stroke-width="1.2"/>
<circle cx="203.1" cy="466.4" r="4.25" fill="#0852ea" stroke="#000" stroke-width="1.2"/>
<circle cx="484.7" cy="481.9" r="4.25" fill="#0852ea" stroke="#000" stroke-width="1.2"/>
<circle cx="289.8" cy="480.4" r="4.25" fill="#0852ea" stroke="#000" stroke-width="1.2"/>
<circle cx="298.5" cy="481.9" r="4.25" fill="#0852ea" stroke="#000" stroke-width="1.2"/>
<circle cx="143.2" cy="476.9" r="4.25" fill="#0852ea" stroke="#000" stroke-width="1.2"/>
<circle cx="440.1" cy="482.6" r="4.25" fill="#0852ea" stroke="#000" stroke-width="1.2"/>
<circle cx="177.7" cy="467.1" r="4.25" fill="#0852ea" stroke="#000" stroke-width="1.2"/>
<circle cx="431.1" cy="471.1" r="4.25" fill="#0852ea" stroke="#000" stroke-width="1.2"/>
<circle cx="85.5" cy="475.6" r="4.25" fill="#0852ea" stroke="#000" stroke-width="1.2"/>
<circle cx="515.4" cy="464.1" r="4.25" fill="#0852ea" stroke="#000" stroke-width="1.2"/>
<circle cx="390.3" cy="482.8" r="4.25" fill="#0852ea" stroke="#000" stroke-width="1.2"/>
<circle cx="453.8" cy="480.7" r="4.25" fill="#0852ea" stroke="#000" stroke-width="1.2"/>
<circle cx="365.2" cy="462.6" r="4.25" fill="#0852ea" stroke="#000" stroke-width="1.2"/>
<circle cx="395.3" cy="481.9" r="4.25" fill="#0852ea" stroke="#000" stroke-width="1.2"/>
<circle cx="205.9" cy="461.9" r="4.25" fill="#0852ea" stroke="#000" stroke-width="1.2"/>
<circle cx="141.5" cy="476.7" r="4.25" fill="#0852ea" stroke="#000" stroke-width="1.2"/>
<circle cx="260.7" cy="482.4" r="4.25" fill="#0852ea" stroke="#000" stroke-width="1.2"/>
<circle cx="354.7" cy="482.8" r="4.25" fill="#0852ea" stroke="#000" stroke-width="1.2"/>
<circle cx="122.8" cy="481.4" r="4.25" fill="#0852ea" stroke="#000" stroke-width="1.2"/>
<circle cx="106.5" cy="482.9" r="4.25" fill="#0852ea" stroke="#000" stroke-width="1.2"/>
<circle cx="333.4" cy="473.3" r="4.25" fill="#0852ea" stroke="#000" stroke-width="1.2"/>
<circle cx="470.2" cy="482.0" r="4.25" fill="#0852ea" stroke="#000" stroke-width="1.2"/>
<circle cx="268.7" cy="481.8" r="4.25" fill="#0852ea" stroke="#000" stroke-width="1.2"/>
<circle cx="344.7" cy="477.5" r="4.25" fill="#0852ea" stroke="#000" stroke-width="1.2"/>
<circle cx="497.3" cy="478.4" r="4.25" fill="#0852ea" stroke="#000" stroke-width="1.2"/>
<circle cx="99.1" cy="478.7" r="4.25" fill="#0852ea" stroke="#000" stroke-width="1.2"/>
<circle cx="142.2" cy="476.3" r="4.25" fill="#0852ea" stroke="#000" stroke-width="1.2"/>
<circle cx="302.1" cy="475.2" r="4.25" fill="#0852ea" stroke="#000" stroke-width="1.2"/>
<circle cx="324.3" cy="475.9" r="4.25" fill="#0852ea" stroke="#000" stroke-width="1.2"/>
<circle cx="192.7" cy="473.3" r="4.25" fill="#0852ea" stroke="#000" stroke-width="1.2"/>
<circle cx="188.6" cy="468.0" r="4.25" fill="#0852ea" stroke="#000" stroke-width="1.2"/>
<circle cx="307.2" cy="482.4" r="4.25" fill="#0852ea" stroke="#000" stroke-width="1.2"/>
<circle cx="179.7" cy="478.0" r="4.25" fill="#0852ea" stroke="#000" stroke-width="1.2"/>
<circle cx="406.3" cy="481.3" r="4.25" fill="#0852ea" stroke="#000" stroke-width="1.2"/>
<circle cx="395.7" cy="471.3" r="4.25" fill="#0852ea" stroke="#000" stroke-width="1.2"/>
<circle cx="112.4" cy="479.2" r="4.25" fill="#0852ea" stroke="#000" stroke-width="1.2"/>
<circle cx="115.1" cy="482.7" r="4.25" fill="#0852ea" stroke="#000" stroke-width="1.2"/>
<circle cx="341.9" cy="481.2" r="4.25" fill="#0852ea" stroke="#000" stroke-width="1.2"/>
<circle cx="469.5" cy="475.9" r="4.25" fill="#0852ea" stroke="#000" stroke-width="1.2"/>
<circle cx="219.8" cy="465.9" r="4.25" fill="#0852ea" stroke="#000" stroke-width="1.2"/>
<circle cx="87.3" cy="475.6" r="4.25" fill="#0852ea" stroke="#000" stroke-width="1.2"/>
<circle cx="98.2" cy="482.5" r="4.25" fill="#0852ea" stroke="#000" stroke-width="1.2"/>
<circle cx="503.4" cy="471.9" r="4.25" fill="#0852ea" stroke="#000" stroke-width="1.2"/>
<circle cx="174.6" cy="482.2" r="4.25" fill="#0852ea" stroke="#000" stroke-width="1.2"/>
<circle cx="512.7" cy="472.6" r="4.25" fill="#0852ea" stroke="#000" stroke-width="1.2"/>
<circle cx="444.1" cy="481.9" r="4.25" fill="#0852ea" stroke="#000" stroke-width="1.2"/>
<circle cx="355.8" cy="478.4" r="4.25" fill="#0852ea" stroke="#000" stroke-width="1.2"/>
<circle cx="180.0" cy="478.8" r="4.25" fill="#0852ea" stroke="#000" stroke-width="1.2"/>
<circle cx="350.8" cy="478.5" r="4.25" fill="#0852ea" stroke="#000" stroke-width="1.2"/>
<circle cx="248.0" cy="481.8" r="4.25" fill="#0852ea" stroke="#000" stroke-width="1.2"/>
<circle cx="448.8" cy="471.5" r="4.25" fill="#0852ea" stroke="#000" stroke-width="1.2"/>
<circle cx="436.8" cy="476.7" r="4.25" fill="#0852ea" stroke="#000" stroke-width="1.2"/>
<circle cx="458.1" cy="474.9" r="4.25" fill="#0852ea" stroke="#000" stroke-width="1.2"/>
<circle cx="341.3" cy="476.2" r="4.25" fill="#0852ea" stroke="#000" stroke-width="1.2"/>
<circle cx="407.8" cy="477.5" r="4.25" fill="#0852ea" stroke="#000" stroke-width="1.2"/>
<circle cx="117.7" cy="483.0" r="4.25" fill="#0852ea" stroke="#000" stroke-width="1.2"/>
<circle cx="165.3" cy="482.9" r="4.25" fill="#0852ea" stroke="#000" stroke-width="1.2"/>
<circle cx="475.1" cy="476.0" r="4.25" fill="#0852ea" stroke="#000" stroke-width="1.2"/>
<circle cx="416.9" cy="483.0" r="4.25" fill="#0852ea" stroke="#000" stroke-width="1.2"/>
<circle cx="286.1" cy="477.7" r="4.25" fill="#0852ea" stroke="#000" stroke-width="1.2"/>
<circle cx="353.4" cy="476.8" r="4.25" fill="#0852ea" stroke="#000" stroke-width="1.2"/>
<circle cx="284.0" cy="482.8" r="4.25" fill="#0852ea" stroke="#000" stroke-width="1.2"/>
<circle cx="143.8" cy="482.1" r="4.25" fill="#0852ea" stroke="#000" stroke-width="1.2"/>
<circle cx="243.0" cy="477.3" r="4.25" fill="#0852ea" stroke="#000" stroke-width="1.2"/>
<circle cx="471.0" cy="481.7" r="4.25" fill="#0852ea" stroke="#000" stroke-width="1.2"/>
<circle cx="188.6" cy="479.6" r="4.25" fill="#0852ea" stroke="#000" stroke-width="1.2"/>
<circle cx="146.9" cy="480.8" r="4.25" fill="#0852ea" stroke="#000" stroke-width="1.2"/>
<circle cx="180.1" cy="475.6" r="4.25" fill="#0852ea" stroke="#000" stroke-width="1.2"/>
<circle cx="88.5" cy="472.3" r="4.25" fill="#0852ea" stroke="#000" stroke-width="1.2"/>
<circle cx="240.4" cy="461.2" r="4.25" fill="#0852ea" stroke="#000" stroke-width="1.2"/>
<circle cx="384.2" cy="470.8" r="4.25" fill="#0852ea" stroke="#000" stroke-width="1.2"/>
<circle cx="286.8" cy="477.2" r="4.25" fill="#0852ea" stroke="#000" stroke-width="1.2"/>
<circle cx="127.2" cy="478.6" r="4.25" fill="#0852ea" stroke="#000" stroke-width="1.2"/>
<circle cx="205.3" cy="469.7" r="4.25" fill="#0852ea" stroke="#000" stroke-width="1.2"/>
<circle cx="402.9" cy="481.5" r="4.25" fill="#0852ea" stroke="#000" stroke-width="1.2"/>
<circle cx="164.7" cy="482.9" r="4.25" fill="#0852ea" stroke="#000" stroke-width="1.2"/>
<circle cx="177.9" cy="482.5" r="4.25" fill="#0852ea" stroke="#000" stroke-width="1.2"/>
<circle cx="254.9" cy="461.7" r="4.25" fill="#0852ea" stroke="#000" stroke-width="1.2"/>
<circle cx="238.3" cy="478.8" r="4.25" fill="#0852ea" stroke="#000" stroke-width="1.2"/>
<circle cx="285.1" cy="482.0" r="4.25" fill="#0852ea" stroke="#000" stroke-width="1.2"/>
<circle cx="404.3" cy="469.6" r="4.25" fill="#0852ea" stroke="#000" stroke-width="1.2"/>
<circle cx="147.7" cy="481.3" r="4.25" fill="#0852ea" stroke="#000" stroke-width="1.2"/>
<circle cx="377.2" cy="462.9" r="4.25" fill="#0852ea" stroke="#000" stroke-width="1.2"/>
<circle cx="365.3" cy="476.8" r="4.25" fill="#0852ea" stroke="#000" stroke-width="1.2"/>
<circle cx="513.9" cy="483.0" r="4.25" fill="#0852ea" stroke="#000" stroke-width="1.2"/>
<circle cx="101.5" cy="478.2" r="4.25" fill="#0852ea" stroke="#000" stroke-width="1.2"/>
<circle cx="259.0" cy="482.9" r="4.25" fill="#0852ea" stroke="#000" stroke-width="1.2"/>
<circle cx="321.3" cy="469.0" r="4.25" fill="#0852ea" stroke="#000" stroke-width="1.2"/>
<circle cx="308.0" cy="480.3" r="4.25" fill="#0852ea" stroke="#000" stroke-width="1.2"/>
<circle cx="116.3" cy="482.9" r="4.25" fill="#0852ea" stroke="#000" stroke-width="1.2"/>
<circle cx="479.4" cy="475.8" r="4.25" fill="#0852ea" stroke="#000" stroke-width="1.2"/>
<circle cx="496.0" cy="482.7" r="4.25" fill="#0852ea" stroke="#000" stroke-width="1.2"/>
<circle cx="183.8" cy="482.7" r="4.25" fill="#0852ea" stroke="#000" stroke-width="1.2"/>
<circle cx="253.2" cy="482.6" r="4.25" fill="#0852ea" stroke="#000" stroke-width="1.2"/>
<circle cx="189.2" cy="477.0" r="4.25" fill="#0852ea" stroke="#000" stroke-width="1.2"/>
<circle cx="212.0" cy="482.7" r="4.25" fill="#0852ea" stroke="#000" stroke-width="1.2"/>
<circle cx="91.0" cy="472.0" r="4.25" fill="#0852ea" stroke="#000" stroke-width="1.2"/>
<circle cx="154.9" cy="477.2" r="4.25" fill="#0852ea" stroke="#000" stroke-width="1.2"/>
<circle cx="255.5" cy="474.9" r="4.25" fill="#0852ea" stroke="#000" stroke-width="1.2"/>
<circle cx="112.0" cy="481.8" r="4.25" fill="#0852ea" stroke="#000" stroke-width="1.2"/>
<circle cx="122.7" cy="480.2" r="4.25" fill="#0852ea" stroke="#000" stroke-width="1.2"/>
<circle cx="489.5" cy="473.5" r="4.25" fill="#0852ea" stroke="#000" stroke-width="1.2"/>
<circle cx="460.4" cy="480.8" r="4.25" fill="#0852ea" stroke="#000" stroke-width="1.2"/>
<circle cx="81.9" cy="478.2" r="4.25" fill="#0852ea" stroke="#000" stroke-width="1.2"/>
<circle cx="293.4" cy="480.3" r="4.25" fill="#0852ea" stroke="#000" stroke-width="1.2"/>
<circle cx="243.9" cy="471.1" r="4.25" fill="#0852ea" stroke="#000" stroke-width="1.2"/>
<circle cx="401.3" cy="463.8" r="4.25" fill="#0852ea" stroke="#000" stroke-width="1.2"/>
<circle cx="212.7" cy="475.8" r="4.25" fill="#0852ea" stroke="#000" stroke-width="1.2"/>
<circle cx="446.7" cy="480.7" r="4.25" fill="#0852ea" stroke="#000" stroke-width="1.2"/>
<circle cx="126.2" cy="481.7" r="4.25" fill="#0852ea" stroke="#000" stroke-width="1.2"/>
<circle cx="113.5" cy="478.2" r="4.25" fill="#0852ea" stroke="#000" stroke-width="1.2"/>
<circle cx="443.6" cy="479.1" r="4.25" fill="#0852ea" stroke="#000" stroke-width="1.2"/>
<circle cx="132.5" cy="482.7" r="4.25" fill="#0852ea" stroke="#000" stroke-width="1.2"/>
<circle cx="184.4" cy="482.4" r="4.25" fill="#0852ea" stroke="#000" stroke-width="1.2"/>
<circle cx="267.3" cy="480.0" r="4.25" fill="#0852ea" stroke="#000" stroke-width="1.2"/>
<circle cx="184.7" cy="482.7" r="4.25" fill="#0852ea" stroke="#000" stroke-width="1.2"/>
<circle cx="390.0" cy="482.8" r="4.25" fill="#0852ea" stroke="#000" stroke-width="1.2"/>
<circle cx="164.1" cy="480.2" r="4.25" fill="#0852ea" stroke="#000" stroke-width="1.2"/>
<circle cx="242.6" cy="482.3" r="4.25" fill="#0852ea" stroke="#000" stroke-width="1.2"/>
<circle cx="263.7" cy="481.8" r="4.25" fill="#0852ea" stroke="#000" stroke-width="1.2"/>
<circle cx="413.3" cy="473.9" r="4.25" fill="#0852ea" stroke="#000" stroke-width="1.2"/>
<circle cx="478.1" cy="471.9" r="4.25" fill="#0852ea" stroke="#000" stroke-width="1.2"/>
<circle cx="416.6" cy="473.4" r="4.25" fill="#0852ea" stroke="#000" stroke-width="1.2"/>
<circle cx="273.4" cy="478.1" r="4.25" fill="#0852ea" stroke="#000" stroke-width="1.2"/>
<circle cx="369.6" cy="462.5" r="4.25" fill="#0852ea" stroke="#000" stroke-width="1.2"/>
<circle cx="402.3" cy="470.1" r="4.25" fill="#0852ea" stroke="#000" stroke-width="1.2"/>
<circle cx="194.7" cy="465.6" r="4.25" fill="#0852ea" stroke="#000" stroke-width="1.2"/>
<circle cx="246.5" cy="481.9" r="4.25" fill="#0852ea" stroke="#000" stroke-width="1.2"/>
<circle cx="103.7" cy="482.5" r="4.25" fill="#0852ea" stroke="#000" stroke-width="1.2"/>
<circle cx="192.4" cy="469.9" r="4.25" fill="#0852ea" stroke="#000" stroke-width="1.2"/>
<circle cx="202.8" cy="482.6" r="4.25" fill="#0852ea" stroke="#000" stroke-width="1.2"/>
<circle cx="418.5" cy="473.8" r="4.25" fill="#0852ea" stroke="#000" stroke-width="1.2"/>
<circle cx="86.4" cy="482.9" r="4.25" fill="#0852ea" stroke="#000" stroke-width="1.2"/>
<circle cx="132.7" cy="480.7" r="4.25" fill="#0852ea" stroke="#000" stroke-width="1.2"/>
<circle cx="461.8" cy="462.9" r="4.25" fill="#0852ea" stroke="#000" stroke-width="1.2"/>
<circle cx="350.0" cy="480.6" r="4.25" fill="#0852ea" stroke="#000" stroke-width="1.2"/>
<circle cx="267.4" cy="481.5" r="4.25" fill="#0852ea" stroke="#000" stroke-width="1.2"/>
<circle cx="223.0" cy="483.0" r="4.25" fill="#0852ea" stroke="#000" stroke-width="1.2"/>
<circle cx="337.6" cy="471.4" r="4.25" fill="#0852ea" stroke="#000" stroke-width="1.2"/>
<circle cx="401.8" cy="482.4" r="4.25" fill="#0852ea" stroke="#000" stroke-width="1.2"/>
<circle cx="313.2" cy="482.0" r="4.25" fill="#0852ea" stroke="#000" stroke-width="1.2"/>
<circle cx="394.0" cy="476.4" r="4.25" fill="#0852ea" stroke="#000" stroke-width="1.2"/>
<circle cx="497.3" cy="468.7" r="4.25" fill="#0852ea" stroke="#000" stroke-width="1.2"/>
<circle cx="127.3" cy="481.5" r="4.25" fill="#0852ea" stroke="#000" stroke-width="1.2"/>
<circle cx="486.7" cy="476.6" r="4.25" fill="#0852ea" stroke="#000" stroke-width="1.2"/>
<circle cx="269.8" cy="481.0" r="4.25" fill="#0852ea" stroke="#000" stroke-width="1.2"/>
<circle cx="420.1" cy="463.1" r="4.25" fill="#0852ea" stroke="#000" stroke-width="1.2"/>
<circle cx="314.2" cy="469.9" r="4.25" fill="#0852ea" stroke="#000" stroke-width="1.2"/>
<circle cx="342.8" cy="482.5" r="4.25" fill="#0852ea" stroke="#000" stroke-width="1.2"/>
<circle cx="441.2" cy="477.0" r="4.25" fill="#0852ea" stroke="#000" stroke-width="1.2"/>
<circle cx="97.6" cy="475.1" r="4.25" fill="#0852ea" stroke="#000" stroke-width="1.2"/>
<circle cx="88.8" cy="477.7" r="4.25" fill="#0852ea" stroke="#000" stroke-width="1.2"/>
<circle cx="291.4" cy="477.8" r="4.25" fill="#0852ea" stroke="#000" stroke-width="1.2"/>
<circle cx="251.1" cy="480.6" r="4.25" fill="#0852ea" stroke="#000" stroke-width="1.2"/>
<circle cx="198.9" cy="480.8" r="4.25" fill="#0852ea" stroke="#000" stroke-width="1.2"/>
<circle cx="327.7" cy="479.9" r="4.25" fill="#0852ea" stroke="#000" stroke-width="1.2"/>
<circle cx="412.7" cy="480.4" r="4.25" fill="#0852ea" stroke="#000" stroke-width="1.2"/>
<circle cx="232.6" cy="480.0" r="4.25" fill="#0852ea" stroke="#000" stroke-width="1.2"/>
<circle cx="517.1" cy="468.5" r="4.25" fill="#0852ea" stroke="#000" stroke-width="1.2"/>
<circle cx="457.3" cy="472.4" r="4.25" fill="#0852ea" stroke="#000" stroke-width="1.2"/>
<circle cx="254.8" cy="481.8" r="4.25" fill="#0852ea" stroke="#000" stroke-width="1.2"/>
<circle cx="449.1" cy="475.5" r="4.25" fill="#0852ea" stroke="#000" stroke-width="1.2"/>
<circle cx="91.0" cy="482.2" r="4.25" fill="#0852ea" stroke="#000" stroke-width="1.2"/>
<circle cx="118.5" cy="478.7" r="4.25" fill="#0852ea" stroke="#000" stroke-width="1.2"/>
<circle cx="480.0" cy="481.1" r="4.25" fill="#0852ea" stroke="#000" stroke-width="1.2"/>
<circle cx="433.5" cy="478.9" r="4.25" fill="#0852ea" stroke="#000" stroke-width="1.2"/>
<circle cx="382.0" cy="465.4" r="4.25" fill="#0852ea" stroke="#000" stroke-width="1.2"/>
<circle cx="355.0" cy="467.2" r="4.25" fill="#0852ea" stroke="#000" stroke-width="1.2"/>
<circle cx="243.8" cy="483.0" r="4.25" fill="#0852ea" stroke="#000" stroke-width="1.2"/>
<circle cx="304.8" cy="477.3" r="4.25" fill="#0852ea" stroke="#000" stroke-width="1.2"/>
<circle cx="157.3" cy="479.0" r="4.25" fill="#0852ea" stroke="#000" stroke-width="1.2"/>
<circle cx="217.1" cy="482.9" r="4.25" fill="#0852ea" stroke="#000" stroke-width="1.2"/>
<circle cx="214.7" cy="477.3" r="4.25" fill="#0852ea" stroke="#000" stroke-width="1.2"/>
<circle cx="288.7" cy="479.3" r="4.25" fill="#0852ea" stroke="#000" stroke-width="1.2"/>
<circle cx="254.0" cy="459.6" r="4.25" fill="#0852ea" stroke="#000" stroke-width="1.2"/>
<circle cx="441.8" cy="463.5" r="4.25" fill="#0852ea" stroke="#000" stroke-width="1.2"/>
<circle cx="386.5" cy="470.9" r="4.25" fill="#0852ea" stroke="#000" stroke-width="1.2"/>
<circle cx="316.1" cy="473.1" r="4.25" fill="#0852ea" stroke="#000" stroke-width="1.2"/>
<circle cx="237.6" cy="472.0" r="4.25" fill="#0852ea" stroke="#000" stroke-width="1.2"/>
<circle cx="380.4" cy="474.7" r="4.25" fill="#0852ea" stroke="#000" stroke-width="1.2"/>
<circle cx="202.2" cy="482.5" r="4.25" fill="#0852ea" stroke="#000" stroke-width="1.2"/>
<circle cx="113.4" cy="481.5" r="4.25" fill="#0852ea" stroke="#000" stroke-width="1.2"/>
<circle cx="335.8" cy="472.9" r="4.25" fill="#0852ea" stroke="#000" stroke-width="1.2"/>
<circle cx="396.2" cy="479.3" r="4.25" fill="#0852ea" stroke="#000" stroke-width="1.2"/>
<circle cx="493.1" cy="480.1" r="4.25" fill="#0852ea" stroke="#000" stroke-width="1.2"/>
<circle cx="396.9" cy="482.6" r="4.25" fill="#0852ea" stroke="#000" stroke-width="1.2"/>
<circle cx="413.8" cy="470.9" r="4.25" fill="#0852ea" stroke="#000" stroke-width="1.2"/>
<circle cx="505.6" cy="466.3" r="4.25" fill="#0852ea" stroke="#000" stroke-width="1.2"/>
<circle cx="384.1" cy="466.1" r="4.25" fill="#0852ea" stroke="#000" stroke-width="1.2"/>
<circle cx="407.1" cy="472.5" r="4.25" fill="#0852ea" stroke="#000" stroke-width="1.2"/>
<circle cx="168.1" cy="475.9" r="4.25" fill="#0852ea" stroke="#000" stroke-width="1.2"/>
<circle cx="478.2" cy="480.5" r="4.25" fill="#0852ea" stroke="#000" stroke-width="1.2"/>
<circle cx="513.6" cy="475.3" r="4.25" fill="#0852ea" stroke="#000" stroke-width="1.2"/>
<circle cx="251.4" cy="483.0" r="4.25" fill="#0852ea" stroke="#000" stroke-width="1.2"/>
<circle cx="250.0" cy="481.2" r="4.25" fill="#0852ea" stroke="#000" stroke-width="1.2"/>
<circle cx="368.5" cy="464.2" r="4.25" fill="#0852ea" stroke="#000" stroke-width="1.2"/>
<circle cx="484.5" cy="473.1" r="4.25" fill="#0852ea" stroke="#000" stroke-width="1.2"/>
<circle cx="248.4" cy="482.1" r="4.25" fill="#0852ea" stroke="#000" stroke-width="1.2"/>
<circle cx="384.6" cy="473.9" r="4.25" fill="#0852ea" stroke="#000" stroke-width="1.2"/>
<circle cx="396.6" cy="478.0" r="4.25" fill="#0852ea" stroke="#000" stroke-width="1.2"/>
<circle cx="473.9" cy="480.9" r="4.25" fill="#0852ea" stroke="#000" stroke-width="1.2"/>
<circle cx="211.8" cy="479.7" r="4.25" fill="#0852ea" stroke="#000" stroke-width="1.2"/>
<circle cx="354.6" cy="464.3" r="4.25" fill="#0852ea" stroke="#000" stroke-width="1.2"/>
<circle cx="149.5" cy="475.5" r="4.25" fill="#0852ea" stroke="#000" stroke-width="1.2"/>
<circle cx="419.7" cy="480.7" r="4.25" fill="#0852ea" stroke="#000" stroke-width="1.2"/>
<circle cx="102.3" cy="480.0" r="4.25" fill="#0852ea" stroke="#000" stroke-width="1.2"/>
<circle cx="448.5" cy="464.9" r="4.25" fill="#0852ea" stroke="#000" stroke-width="1.2"/>
<circle cx="402.3" cy="477.1" r="4.25" fill="#0852ea" stroke="#000" stroke-width="1.2"/>
<circle cx="265.9" cy="480.3" r="4.25" fill="#0852ea" stroke="#000" stroke-width="1.2"/>
<circle cx="482.0" cy="479.5" r="4.25" fill="#0852ea" stroke="#000" stroke-width="1.2"/>
<circle cx="200.6" cy="471.7" r="4.25" fill="#0852ea" stroke="#000" stroke-width="1.2"/>
<circle cx="509.9" cy="481.4" r="4.25" fill="#0852ea" stroke="#000" stroke-width="1.2"/>
<circle cx="87.7" cy="482.5" r="4.25" fill="#0852ea" stroke="#000" stroke-width="1.2"/>
<circle cx="327.7" cy="476.1" r="4.25" fill="#0852ea" stroke="#000" stroke-width="1.2"/>
<circle cx="156.9" cy="481.6" r="4.25" fill="#0852ea" stroke="#000" stroke-width="1.2"/>
<circle cx="342.1" cy="474.8" r="4.25" fill="#0852ea" stroke="#000" stroke-width="1.2"/>
<circle cx="385.3" cy="469.3" r="4.25" fill="#0852ea" stroke="#000" stroke-width="1.2"/>
<circle cx="101.7" cy="480.6" r="4.25" fill="#0852ea" stroke="#000" stroke-width="1.2"/>
<circle cx="450.4" cy="462.4" r="4.25" fill="#0852ea" stroke="#000" stroke-width="1.2"/>
<circle cx="217.6" cy="464.2" r="4.25" fill="#0852ea" stroke="#000" stroke-width="1.2"/>
<circle cx="365.0" cy="463.4" r="4.25" fill="#0852ea" stroke="#000" stroke-width="1.2"/>
<circle cx="177.3" cy="470.6" r="4.25" fill="#0852ea" stroke="#000" stroke-width="1.2"/>
<circle cx="453.2" cy="475.8" r="4.25" fill="#0852ea" stroke="#000" stroke-width="1.2"/>
<circle cx="119.5" cy="482.4" r="4.25" fill="#0852ea" stroke="#000" stroke-width="1.2"/>
<circle cx="144.6" cy="482.6" r="4.25" fill="#0852ea" stroke="#000" stroke-width="1.2"/>
<circle cx="142.5" cy="476.5" r="4.25" fill="#0852ea" stroke="#000" stroke-width="1.2"/>
<circle cx="121.3" cy="478.4" r="4.25" fill="#0852ea" stroke="#000" stroke-width="1.2"/>
<circle cx="406.0" cy="466.8" r="4.25" fill="#0852ea" stroke="#000" stroke-width="1.2"/>
<circle cx="436.5" cy="469.8" r="4.25" fill="#0852ea" stroke="#000" stroke-width="1.2"/>
<circle cx="490.8" cy="463.9" r="4.25" fill="#0852ea" stroke="#000" stroke-width="1.2"/>
<circle cx="355.9" cy="462.1" r="4.25" fill="#0852ea" stroke="#000" stroke-width="1.2"/>
<circle cx="120.6" cy="482.8" r="4.25" fill="#0852ea" stroke="#000" stroke-width="1.2"/>
<circle cx="103.1" cy="482.3" r="4.25" fill="#0852ea" stroke="#000" stroke-width="1.2"/>
<circle cx="242.9" cy="475.5" r="4.25" fill="#0852ea" stroke="#000" stroke-width="1.2"/>
<circle cx="380.9" cy="468.9" r="4.25" fill="#0852ea" stroke="#000" stroke-width="1.2"/>
<circle cx="111.8" cy="481.2" r="4.25" fill="#0852ea" stroke="#000" stroke-width="1.2"/>
<circle cx="319.1" cy="479.8" r="4.25" fill="#0852ea" stroke="#000" stroke-width="1.2"/>
<circle cx="127.0" cy="479.3" r="4.25" fill="#0852ea" stroke="#000" stroke-width="1.2"/>
<circle cx="242.9" cy="469.4" r="4.25" fill="#0852ea" stroke="#000" stroke-width="1.2"/>
<circle cx="297.5" cy="477.3" r="4.25" fill="#0852ea" stroke="#000" stroke-width="1.2"/>
<circle cx="500.2" cy="482.6" r="4.25" fill="#0852ea" stroke="#000" stroke-width="1.2"/>
<circle cx="416.7" cy="469.5" r="4.25" fill="#0852ea" stroke="#000" stroke-width="1.2"/>
<circle cx="207.5" cy="482.0" r="4.25" fill="#0852ea" stroke="#000" stroke-width="1.2"/>
<circle cx="290.0" cy="481.7" r="4.25" fill="#0852ea" stroke="#000" stroke-width="1.2"/>
<circle cx="406.5" cy="463.6" r="4.25" fill="#0852ea" stroke="#000" stroke-width="1.2"/>
<circle cx="246.3" cy="479.2" r="4.25" fill="#0852ea" stroke="#000" stroke-width="1.2"/>
<circle cx="298.9" cy="479.5" r="4.25" fill="#0852ea" stroke="#000" stroke-width="1.2"/>
<circle cx="429.8" cy="473.4" r="4.25" fill="#0852ea" stroke="#000" stroke-width="1.2"/>
<circle cx="207.5" cy="478.3" r="4.25" fill="#0852ea" stroke="#000" stroke-width="1.2"/>
<circle cx="456.5" cy="474.8" r="4.25" fill="#0852ea" stroke="#000" stroke-width="1.2"/>
<circle cx="96.7" cy="480.6" r="4.25" fill="#0852ea" stroke="#000" stroke-width="1.2"/>
<circle cx="181.3" cy="471.0" r="4.25" fill="#0852ea" stroke="#000" stroke-width="1.2"/>
<circle cx="107.1" cy="482.0" r="4.25" fill="#0852ea" stroke="#000" stroke-width="1.2"/>
<circle cx="117.3" cy="480.7" r="4.25" fill="#0852ea" stroke="#000" stroke-width="1.2"/>
<circle cx="518.1" cy="475.5" r="4.25" fill="#0852ea" stroke="#000" stroke-width="1.2"/>
<circle cx="248.2" cy="461.3" r="4.25" fill="#0852ea" stroke="#000" stroke-width="1.2"/>
<circle cx="115.4" cy="481.5" r="4.25" fill="#0852ea" stroke="#000" stroke-width="1.2"/>
<circle cx="439.7" cy="483.0" r="4.25" fill="#0852ea" stroke="#000" stroke-width="1.2"/>
<circle cx="419.4" cy="478.2" r="4.25" fill="#0852ea" stroke="#000" stroke-width="1.2"/>
<circle cx="81.4" cy="481.5" r="4.25" fill="#0852ea" stroke="#000" stroke-width="1.2"/>
<circle cx="280.7" cy="481.5" r="4.25" fill="#0852ea" stroke="#000" stroke-width="1.2"/>
<circle cx="307.1" cy="482.8" r="4.25" fill="#0852ea" stroke="#000" stroke-width="1.2"/>
<circle cx="172.6" cy="463.6" r="4.25" fill="#0852ea" stroke="#000" stroke-width="1.2"/>
<circle cx="273.6" cy="480.8" r="4.25" fill="#0852ea" stroke="#000" stroke-width="1.2"/>
<circle cx="112.5" cy="482.0" r="4.25" fill="#0852ea" stroke="#000" stroke-width="1.2"/>
<circle cx="504.6" cy="471.8" r="4.25" fill="#0852ea" stroke="#000" stroke-width="1.2"/>
<circle cx="303.0" cy="482.9" r="4.25" fill="#0852ea" stroke="#000" stroke-width="1.2"/>
<circle cx="251.1" cy="466.5" r="4.25" fill="#0852ea" stroke="#000" stroke-width="1.2"/>
<circle cx="270.0" cy="479.9" r="4.25" fill="#0852ea" stroke="#000" stroke-width="1.2"/>
<circle cx="481.0" cy="472.2" r="4.25" fill="#0852ea" stroke="#000" stroke-width="1.2"/>
<circle cx="360.8" cy="482.8" r="4.25" fill="#0852ea" stroke="#000" stroke-width="1.2"/>
<circle cx="84.7" cy="474.9" r="4.25" fill="#0852ea" stroke="#000" stroke-width="1.2"/>
<circle cx="260.4" cy="474.5" r="4.25" fill="#0852ea" stroke="#000" stroke-width="1.2"/>
<circle cx="446.4" cy="463.7" r="4.25" fill="#0852ea" stroke="#000" stroke-width="1.2"/>
<circle cx="244.7" cy="459.0" r="4.25" fill="#0852ea" stroke="#000" stroke-width="1.2"/>
<circle cx="415.1" cy="464.5" r="4.25" fill="#0852ea" stroke="#000" stroke-width="1.2"/>
<circle cx="140.8" cy="473.9" r="4.25" fill="#0852ea" stroke="#000" stroke-width="1.2"/>
<circle cx="264.4" cy="476.4" r="4.25" fill="#0852ea" stroke="#000" stroke-width="1.2"/>
<circle cx="522.4" cy="481.1" r="4.25" fill="#0852ea" stroke="#000" stroke-width="1.2"/>
<circle cx="264.1" cy="482.0" r="4.25" fill="#0852ea" stroke="#000" stroke-width="1.2"/>
<circle cx="285.9" cy="482.0" r="4.25" fill="#0852ea" stroke="#000" stroke-width="1.2"/>
<circle cx="374.6" cy="482.0" r="4.25" fill="#0852ea" stroke="#000" stroke-width="1.2"/>
<circle cx="150.3" cy="478.3" r="4.25" fill="#0852ea" stroke="#000" stroke-width="1.2"/>
<circle cx="107.3" cy="481.4" r="4.25" fill="#0852ea" stroke="#000" stroke-width="1.2"/>
<circle cx="478.7" cy="465.6" r="4.25" fill="#0852ea" stroke="#000" stroke-width="1.2"/>
<circle cx="162.6" cy="483.0" r="4.25" fill="#0852ea" stroke="#000" stroke-width="1.2"/>
<circle cx="447.6" cy="462.3" r="4.25" fill="#0852ea" stroke="#000" stroke-width="1.2"/>
<circle cx="344.1" cy="482.2" r="4.25" fill="#0852ea" stroke="#000" stroke-width="1.2"/>
<circle cx="180.7" cy="463.5" r="4.25" fill="#0852ea" stroke="#000" stroke-width="1.2"/>
<circle cx="496.8" cy="482.9" r="4.25" fill="#0852ea" stroke="#000" stroke-width="1.2"/>
<circle cx="157.3" cy="478.4" r="4.25" fill="#0852ea" stroke="#000" stroke-width="1.2"/>
<circle cx="194.3" cy="467.4" r="4.25" fill="#0852ea" stroke="#000" stroke-width="1.2"/>
<circle cx="242.2" cy="466.6" r="4.25" fill="#0852ea" stroke="#000" stroke-width="1.2"/>
<circle cx="142.5" cy="478.0" r="4.25" fill="#0852ea" stroke="#000" stroke-width="1.2"/>
<circle cx="513.7" cy="471.8" r="4.25" fill="#0852ea" stroke="#000" stroke-width="1.2"/>
<circle cx="114.6" cy="482.7" r="4.25" fill="#0852ea" stroke="#000" stroke-width="1.2"/>
<circle cx="364.2" cy="477.9" r="4.25" fill="#0852ea" stroke="#000" stroke-width="1.2"/>
<circle cx="240.3" cy="475.1" r="4.25" fill="#0852ea" stroke="#000" stroke-width="1.2"/>
<circle cx="336.3" cy="468.4" r="4.25" fill="#0852ea" stroke="#000" stroke-width="1.2"/>
<circle cx="182.7" cy="473.4" r="4.25" fill="#0852ea" stroke="#000" stroke-width="1.2"/>
<circle cx="192.6" cy="473.5" r="4.25" fill="#0852ea" stroke="#000" stroke-width="1.2"/>
<circle cx="403.9" cy="481.9" r="4.25" fill="#0852ea" stroke="#000" stroke-width="1.2"/>
<circle cx="291.0" cy="479.3" r="4.25" fill="#0852ea" stroke="#000" stroke-width="1.2"/>
<circle cx="77.7" cy="474.9" r="4.25" fill="#0852ea" stroke="#000" stroke-width="1.2"/>
<circle cx="262.9" cy="480.5" r="4.25" fill="#0852ea" stroke="#000" stroke-width="1.2"/>
<circle cx="349.3" cy="468.0" r="4.25" fill="#0852ea" stroke="#000" stroke-width="1.2"/>
<circle cx="99.3" cy="480.4" r="4.25" fill="#0852ea" stroke="#000" stroke-width="1.2"/>
<circle cx="91.3" cy="480.3" r="4.25" fill="#0852ea" stroke="#000" stroke-width="1.2"/>
<circle cx="229.9" cy="482.9" r="4.25" fill="#0852ea" stroke="#000" stroke-width="1.2"/>
<circle cx="208.3" cy="475.8" r="4.25" fill="#0852ea" stroke="#000" stroke-width="1.2"/>
<circle cx="369.3" cy="463.4" r="4.25" fill="#0852ea" stroke="#000" stroke-width="1.2"/>
<circle cx="241.1" cy="473.7" r="4.25" fill="#0852ea" stroke="#000" stroke-width="1.2"/>
<circle cx="395.6" cy="463.0" r="4.25" fill="#0852ea" stroke="#000" stroke-width="1.2"/>
<circle cx="502.3" cy="463.5" r="4.25" fill="#0852ea" stroke="#000" stroke-width="1.2"/>
<circle cx="210.1" cy="481.4" r="4.25" fill="#0852ea" stroke="#000" stroke-width="1.2"/>
<circle cx="494.3" cy="482.6" r="4.25" fill="#0852ea" stroke="#000" stroke-width="1.2"/>
<circle cx="276.4" cy="478.8" r="4.25" fill="#0852ea" stroke="#000" stroke-width="1.2"/>
<circle cx="312.5" cy="479.7" r="4.25" fill="#0852ea" stroke="#000" stroke-width="1.2"/>
<circle cx="491.0" cy="479.7" r="4.25" fill="#0852ea" stroke="#000" stroke-width="1.2"/>
<circle cx="322.8" cy="472.2" r="4.25" fill="#0852ea" stroke="#000" stroke-width="1.2"/>
<circle cx="136.2" cy="480.5" r="4.25" fill="#0852ea" stroke="#000" stroke-width="1.2"/>
<circle cx="296.9" cy="480.4" r="4.25" fill="#0852ea" stroke="#000" stroke-width="1.2"/>
<circle cx="167.5" cy="477.2" r="4.25" fill="#0852ea" stroke="#000" stroke-width="1.2"/>
<circle cx="101.0" cy="482.8" r="4.25" fill="#0852ea" stroke="#000" stroke-width="1.2"/>
<circle cx="228.3" cy="481.7" r="4.25" fill="#0852ea" stroke="#000" stroke-width="1.2"/>
<circle cx="510.4" cy="480.4" r="4.25" fill="#0852ea" stroke="#000" stroke-width="1.2"/>
<circle cx="198.4" cy="466.3" r="4.25" fill="#0852ea" stroke="#000" stroke-width="1.2"/>
<circle cx="408.3" cy="480.0" r="4.25" fill="#0852ea" stroke="#000" stroke-width="1.2"/>
<circle cx="448.0" cy="472.1" r="4.25" fill="#0852ea" stroke="#000" stroke-width="1.2"/>
<circle cx="249.3" cy="471.0" r="4.25" fill="#0852ea" stroke="#000" stroke-width="1.2"/>
<circle cx="184.8" cy="479.9" r="4.25" fill="#0852ea" stroke="#000" stroke-width="1.2"/>
<circle cx="469.3" cy="476.8" r="4.25" fill="#0852ea" stroke="#000" stroke-width="1.2"/>
<circle cx="478.7" cy="481.4" r="4.25" fill="#0852ea" stroke="#000" stroke-width="1.2"/>
<circle cx="135.9" cy="482.9" r="4.25" fill="#0852ea" stroke="#000" stroke-width="1.2"/>
<circle cx="407.6" cy="473.8" r="4.25" fill="#0852ea" stroke="#000" stroke-width="1.2"/>
<circle cx="78.4" cy="482.9" r="4.25" fill="#0852ea" stroke="#000" stroke-width="1.2"/>
<circle cx="445.6" cy="475.4" r="4.25" fill="#0852ea" stroke="#000" stroke-width="1.2"/>
<circle cx="467.0" cy="482.8" r="4.25" fill="#0852ea" stroke="#000" stroke-width="1.2"/>
<circle cx="339.6" cy="482.4" r="4.25" fill="#0852ea" stroke="#000" stroke-width="1.2"/>
<circle cx="399.2" cy="472.5" r="4.25" fill="#0852ea" stroke="#000" stroke-width="1.2"/>
<circle cx="350.0" cy="480.7" r="4.25" fill="#0852ea" stroke="#000" stroke-width="1.2"/>
<circle cx="502.0" cy="482.3" r="4.25" fill="#0852ea" stroke="#000" stroke-width="1.2"/>
<circle cx="102.9" cy="479.0" r="4.25" fill="#0852ea" stroke="#000" stroke-width="1.2"/>
<circle cx="115.9" cy="482.9" r="4.25" fill="#0852ea" stroke="#000" stroke-width="1.2"/>
<circle cx="281.6" cy="479.6" r="4.25" fill="#0852ea" stroke="#000" stroke-width="1.2"/>
<circle cx="476.3" cy="470.1" r="4.25" fill="#0852ea" stroke="#000" stroke-width="1.2"/>
<circle cx="105.3" cy="479.4" r="4.25" fill="#0852ea" stroke="#000" stroke-width="1.2"/>
<circle cx="454.5" cy="482.1" r="4.25" fill="#0852ea" stroke="#000" stroke-width="1.2"/>
<circle cx="414.3" cy="480.1" r="4.25" fill="#0852ea" stroke="#000" stroke-width="1.2"/>
<circle cx="208.7" cy="483.0" r="4.25" fill="#0852ea" stroke="#000" stroke-width="1.2"/>
<circle cx="416.0" cy="474.9" r="4.25" fill="#0852ea" stroke="#000" stroke-width="1.2"/>
<circle cx="480.8" cy="476.4" r="4.25" fill="#0852ea" stroke="#000" stroke-width="1.2"/>
<circle cx="144.1" cy="481.6" r="4.25" fill="#0852ea" stroke="#000" stroke-width="1.2"/>
<circle cx="192.8" cy="461.3" r="4.25" fill="#0852ea" stroke="#000" stroke-width="1.2"/>
<circle cx="166.6" cy="482.5" r="4.25" fill="#0852ea" stroke="#000" stroke-width="1.2"/>
<circle cx="233.1" cy="482.5" r="4.25" fill="#0852ea" stroke="#000" stroke-width="1.2"/>
<circle cx="265.8" cy="479.6" r="4.25" fill="#0852ea" stroke="#000" stroke-width="1.2"/>
<circle cx="367.4" cy="481.4" r="4.25" fill="#0852ea" stroke="#000" stroke-width="1.2"/>
<circle cx="136.6" cy="478.8" r="4.25" fill="#0852ea" stroke="#000" stroke-width="1.2"/>
<circle cx="383.9" cy="476.4" r="4.25" fill="#0852ea" stroke="#000" stroke-width="1.2"/>
<circle cx="332.5" cy="469.9" r="4.25" fill="#0852ea" stroke="#000" stroke-width="1.2"/>
<circle cx="139.4" cy="481.2" r="4.25" fill="#0852ea" stroke="#000" stroke-width="1.2"/>
<circle cx="296.7" cy="480.6" r="4.25" fill="#0852ea" stroke="#000" stroke-width="1.2"/>
<circle cx="480.0" cy="474.4" r="4.25" fill="#0852ea" stroke="#000" stroke-width="1.2"/>
<circle cx="372.7" cy="477.0" r="4.25" fill="#0852ea" stroke="#000" stroke-width="1.2"/>
<circle cx="427.7" cy="466.2" r="4.25" fill="#0852ea" stroke="#000" stroke-width="1.2"/>
<circle cx="206.4" cy="482.2" r="4.25" fill="#0852ea" stroke="#000" stroke-width="1.2"/>
<circle cx="190.9" cy="478.0" r="4.25" fill="#0852ea" stroke="#000" stroke-width="1.2"/>
<circle cx="475.2" cy="480.1" r="4.25" fill="#0852ea" stroke="#000" stroke-width="1.2"/>
<circle cx="357.9" cy="471.7" r="4.25" fill="#0852ea" stroke="#000" stroke-width="1.2"/>
<circle cx="505.3" cy="482.2" r="4.25" fill="#0852ea" stroke="#000" stroke-width="1.2"/>
<circle cx="421.2" cy="478.7" r="4.25" fill="#0852ea" stroke="#000" stroke-width="1.2"/>
<circle cx="120.4" cy="479.5" r="4.25" fill="#0852ea" stroke="#000" stroke-width="1.2"/>
<circle cx="454.8" cy="473.2" r="4.25" fill="#0852ea" stroke="#000" stroke-width="1.2"/>
<circle cx="96.5" cy="474.6" r="4.25" fill="#0852ea" stroke="#000" stroke-width="1.2"/>
<circle cx="247.2" cy="470.8" r="4.25" fill="#0852ea" stroke="#000" stroke-width="1.2"/>
<circle cx="400.5" cy="480.1" r="4.25" fill="#0852ea" stroke="#000" stroke-width="1.2"/>
<circle cx="258.2" cy="480.1" r="4.25" fill="#0852ea" stroke="#000" stroke-width="1.2"/>
<circle cx="117.3" cy="482.9" r="4.25" fill="#0852ea" stroke="#000" stroke-width="1.2"/>
<circle cx="397.3" cy="477.2" r="4.25" fill="#0852ea" stroke="#000" stroke-width="1.2"/>
<circle cx="466.2" cy="482.7" r="4.25" fill="#0852ea" stroke="#000" stroke-width="1.2"/>
<circle cx="209.9" cy="481.2" r="4.25" fill="#0852ea" stroke="#000" stroke-width="1.2"/>
<circle cx="499.5" cy="468.9" r="4.25" fill="#0852ea" stroke="#000" stroke-width="1.2"/>
<circle cx="478.3" cy="475.4" r="4.25" fill="#0852ea" stroke="#000" stroke-width="1.2"/>
<circle cx="121.0" cy="481.1" r="4.25" fill="#0852ea" stroke="#000" stroke-width="1.2"/>
<circle cx="176.0" cy="482.9" r="4.25" fill="#0852ea" stroke="#000" stroke-width="1.2"/>
<circle cx="328.8" cy="480.7" r="4.25" fill="#0852ea" stroke="#000" stroke-width="1.2"/>
<circle cx="122.6" cy="480.4" r="4.25" fill="#0852ea" stroke="#000" stroke-width="1.2"/>
<circle cx="494.9" cy="464.4" r="4.25" fill="#0852ea" stroke="#000" stroke-width="1.2"/>
<circle cx="284.2" cy="482.8" r="4.25" fill="#0852ea" stroke="#000" stroke-width="1.2"/>
<circle cx="420.7" cy="482.1" r="4.25" fill="#0852ea" stroke="#000" stroke-width="1.2"/>
<circle cx="316.4" cy="482.7" r="4.25" fill="#0852ea" stroke="#000" stroke-width="1.2"/>
<circle cx="519.2" cy="475.5" r="4.25" fill="#0852ea" stroke="#000" stroke-width="1.2"/>
<circle cx="271.3" cy="482.0" r="4.25" fill="#0852ea" stroke="#000" stroke-width="1.2"/>
<circle cx="322.5" cy="469.3" r="4.25" fill="#0852ea" stroke="#000" stroke-width="1.2"/>
<circle cx="267.0" cy="482.3" r="4.25" fill="#0852ea" stroke="#000" stroke-width="1.2"/>
<circle cx="306.1" cy="471.5" r="4.25" fill="#0852ea" stroke="#000" stroke-width="1.2"/>
<circle cx="246.2" cy="470.9" r="4.25" fill="#0852ea" stroke="#000" stroke-width="1.2"/>
<circle cx="488.3" cy="479.2" r="4.25" fill="#0852ea" stroke="#000" stroke-width="1.2"/>
<circle cx="439.7" cy="474.5" r="4.25" fill="#0852ea" stroke="#000" stroke-width="1.2"/>
<circle cx="136.9" cy="482.8" r="4.25" fill="#0852ea" stroke="#000" stroke-width="1.2"/>
<circle cx="497.5" cy="476.6" r="4.25" fill="#0852ea" stroke="#000" stroke-width="1.2"/>
<circle cx="273.9" cy="477.1" r="4.25" fill="#0852ea" stroke="#000" stroke-width="1.2"/>
<circle cx="332.9" cy="477.7" r="4.25" fill="#0852ea" stroke="#000" stroke-width="1.2"/>
<circle cx="202.1" cy="467.6" r="4.25" fill="#0852ea" stroke="#000" stroke-width="1.2"/>
<circle cx="189.6" cy="475.5" r="4.25" fill="#0852ea" stroke="#000" stroke-width="1.2"/>
<circle cx="416.1" cy="472.7" r="4.25" fill="#0852ea" stroke="#000" stroke-width="1.2"/>
<circle cx="134.5" cy="481.9" r="4.25" fill="#0852ea" stroke="#000" stroke-width="1.2"/>
<circle cx="387.4" cy="469.3" r="4.25" fill="#0852ea" stroke="#000" stroke-width="1.2"/>
<circle cx="120.3" cy="476.0" r="4.25" fill="#0852ea" stroke="#000" stroke-width="1.2"/>
<circle cx="134.2" cy="482.2" r="4.25" fill="#0852ea" stroke="#000" stroke-width="1.2"/>
<circle cx="114.5" cy="480.9" r="4.25" fill="#0852ea" stroke="#000" stroke-width="1.2"/>
<circle cx="353.5" cy="465.5" r="4.25" fill="#0852ea" stroke="#000" stroke-width="1.2"/>
<circle cx="147.6" cy="474.5" r="4.25" fill="#0852ea" stroke="#000" stroke-width="1.2"/>
<circle cx="121.5" cy="479.9" r="4.25" fill="#0852ea" stroke="#000" stroke-width="1.2"/>
<circle cx="187.6" cy="478.1" r="4.25" fill="#0852ea" stroke="#000" stroke-width="1.2"/>
<circle cx="97.7" cy="478.0" r="4.25" fill="#0852ea" stroke="#000" stroke-width="1.2"/>
<circle cx="129.2" cy="476.9" r="4.25" fill="#0852ea" stroke="#000" stroke-width="1.2"/>
<circle cx="225.7" cy="472.1" r="4.25" fill="#0852ea" stroke="#000" stroke-width="1.2"/>
<circle cx="362.2" cy="475.5" r="4.25" fill="#0852ea" stroke="#000" stroke-width="1.2"/>
<circle cx="468.0" cy="464.1" r="4.25" fill="#0852ea" stroke="#000" stroke-width="1.2"/>
<circle cx="201.2" cy="478.4" r="4.25" fill="#0852ea" stroke="#000" stroke-width="1.2"/>
<circle cx="469.5" cy="482.0" r="4.25" fill="#0852ea" stroke="#000" stroke-width="1.2"/>
<circle cx="263.4" cy="481.1" r="4.25" fill="#0852ea" stroke="#000" stroke-width="1.2"/>
<circle cx="514.3" cy="482.1" r="4.25" fill="#0852ea" stroke="#000" stroke-width="1.2"/>
<circle cx="369.4" cy="468.5" r="4.25" fill="#0852ea" stroke="#000" stroke-width="1.2"/>
<circle cx="402.5" cy="483.0" r="4.25" fill="#0852ea" stroke="#000" stroke-width="1.2"/>
<circle cx="499.6" cy="479.5" r="4.25" fill="#0852ea" stroke="#000" stroke-width="1.2"/>
<circle cx="458.7" cy="471.3" r="4.25" fill="#0852ea" stroke="#000" stroke-width="1.2"/>
<circle cx="263.8" cy="477.7" r="4.25" fill="#0852ea" stroke="#000" stroke-width="1.2"/>
<circle cx="378.8" cy="478.6" r="4.25" fill="#0852ea" stroke="#000" stroke-width="1.2"/>
<circle cx="404.1" cy="475.1" r="4.25" fill="#0852ea" stroke="#000" stroke-width="1.2"/>
<circle cx="394.9" cy="472.4" r="4.25" fill="#0852ea" stroke="#000" stroke-width="1.2"/>
<circle cx="433.0" cy="481.6" r="4.25" fill="#0852ea" stroke="#000" stroke-width="1.2"/>
<circle cx="297.0" cy="483.0" r="4.25" fill="#0852ea" stroke="#000" stroke-width="1.2"/>
<circle cx="430.7" cy="468.1" r="4.25" fill="#0852ea" stroke="#000" stroke-width="1.2"/>
<circle cx="451.5" cy="482.8" r="4.25" fill="#0852ea" stroke="#000" stroke-width="1.2"/>
<circle cx="315.4" cy="478.4" r="4.25" fill="#0852ea" stroke="#000" stroke-width="1.2"/>
<circle cx="127.9" cy="482.2" r="4.25" fill="#0852ea" stroke="#000" stroke-width="1.2"/>
<circle cx="513.4" cy="468.0" r="4.25" fill="#0852ea" stroke="#000" stroke-width="1.2"/>
<circle cx="181.4" cy="466.3" r="4.25" fill="#0852ea" stroke="#000" stroke-width="1.2"/>
<circle cx="367.6" cy="477.7" r="4.25" fill="#0852ea" stroke="#000" stroke-width="1.2"/>
<circle cx="364.8" cy="480.6" r="4.25" fill="#0852ea" stroke="#000" stroke-width="1.2"/>
<circle cx="197.5" cy="483.0" r="4.25" fill="#0852ea" stroke="#000" stroke-width="1.2"/>
<circle cx="370.1" cy="473.2" r="4.25" fill="#0852ea" stroke="#000" stroke-width="1.2"/>
<circle cx="409.3" cy="475.1" r="4.25" fill="#0852ea" stroke="#000" stroke-width="1.2"/>
<circle cx="270.1" cy="481.8" r="4.25" fill="#0852ea" stroke="#000" stroke-width="1.2"/>
<circle cx="405.6" cy="478.0" r="4.25" fill="#0852ea" stroke="#000" stroke-width="1.2"/>
<circle cx="343.1" cy="472.5" r="4.25" fill="#0852ea" stroke="#000" stroke-width="1.2"/>
<circle cx="274.5" cy="479.2" r="4.25" fill="#0852ea" stroke="#000" stroke-width="1.2"/>
<circle cx="101.8" cy="482.1" r="4.25" fill="#0852ea" stroke="#000" stroke-width="1.2"/>
<circle cx="453.1" cy="481.8" r="4.25" fill="#0852ea" stroke="#000" stroke-width="1.2"/>
<circle cx="99.6" cy="483.0" r="4.25" fill="#0852ea" stroke="#000" stroke-width="1.2"/>
<circle cx="419.5" cy="482.2" r="4.25" fill="#0852ea" stroke="#000" stroke-width="1.2"/>
<circle cx="280.6" cy="481.1" r="4.25" fill="#0852ea" stroke="#000" stroke-width="1.2"/>
<circle cx="436.1" cy="475.8" r="4.25" fill="#0852ea" stroke="#000" stroke-width="1.2"/>
<circle cx="309.3" cy="482.9" r="4.25" fill="#0852ea" stroke="#000" stroke-width="1.2"/>
<circle cx="432.7" cy="468.2" r="4.25" fill="#0852ea" stroke="#000" stroke-width="1.2"/>
<circle cx="355.2" cy="466.2" r="4.25" fill="#0852ea" stroke="#000" stroke-width="1.2"/>
<circle cx="350.9" cy="469.7" r="4.25" fill="#0852ea" stroke="#000" stroke-width="1.2"/>
<circle cx="457.8" cy="472.4" r="4.25" fill="#0852ea" stroke="#000" stroke-width="1.2"/>
<circle cx="83.1" cy="473.0" r="4.25" fill="#0852ea" stroke="#000" stroke-width="1.2"/>
<circle cx="520.3" cy="481.3" r="4.25" fill="#0852ea" stroke="#000" stroke-width="1.2"/>
<circle cx="103.8" cy="481.6" r="4.25" fill="#0852ea" stroke="#000" stroke-width="1.2"/>
<circle cx="119.2" cy="481.4" r="4.25" fill="#0852ea" stroke="#000" stroke-width="1.2"/>
<circle cx="114.2" cy="482.3" r="4.25" fill="#0852ea" stroke="#000" stroke-width="1.2"/>
<circle cx="75.5" cy="479.6" r="4.25" fill="#0852ea" stroke="#000" stroke-width="1.2"/>
<circle cx="209.3" cy="468.1" r="4.25" fill="#0852ea" stroke="#000" stroke-width="1.2"/>
<circle cx="249.3" cy="481.4" r="4.25" fill="#0852ea" stroke="#000" stroke-width="1.2"/>
<circle cx="504.0" cy="466.3" r="4.25" fill="#0852ea" stroke="#000" stroke-width="1.2"/>
<circle cx="384.8" cy="480.8" r="4.25" fill="#0852ea" stroke="#000" stroke-width="1.2"/>
<circle cx="255.6" cy="476.7" r="4.25" fill="#0852ea" stroke="#000" stroke-width="1.2"/>
<circle cx="258.3" cy="482.9" r="4.25" fill="#0852ea" stroke="#000" stroke-width="1.2"/>
<circle cx="279.5" cy="478.6" r="4.25" fill="#0852ea" stroke="#000" stroke-width="1.2"/>
<circle cx="386.7" cy="465.4" r="4.25" fill="#0852ea" stroke="#000" stroke-width="1.2"/>
<circle cx="382.0" cy="468.3" r="4.25" fill="#0852ea" stroke="#000" stroke-width="1.2"/>
<circle cx="466.7" cy="464.1" r="4.25" fill="#0852ea" stroke="#000" stroke-width="1.2"/>
<circle cx="431.7" cy="477.1" r="4.25" fill="#0852ea" stroke="#000" stroke-width="1.2"/>
<circle cx="371.6" cy="471.3" r="4.25" fill="#0852ea" stroke="#000" stroke-width="1.2"/>
<circle cx="472.1" cy="470.2" r="4.25" fill="#0852ea" stroke="#000" stroke-width="1.2"/>
<circle cx="274.0" cy="482.4" r="4.25" fill="#0852ea" stroke="#000" stroke-width="1.2"/>
<circle cx="221.7" cy="480.0" r="4.25" fill="#0852ea" stroke="#000" stroke-width="1.2"/>
<circle cx="381.5" cy="468.2" r="4.25" fill="#0852ea" stroke="#000" stroke-width="1.2"/>
<circle cx="160.6" cy="476.3" r="4.25" fill="#0852ea" stroke="#000" stroke-width="1.2"/>
<circle cx="453.0" cy="478.1" r="4.25" fill="#0852ea" stroke="#000" stroke-width="1.2"/>
<circle cx="116.7" cy="479.7" r="4.25" fill="#0852ea" stroke="#000" stroke-width="1.2"/>
<circle cx="237.4" cy="481.7" r="4.25" fill="#0852ea" stroke="#000" stroke-width="1.2"/>
<circle cx="287.8" cy="384.7" r="4.25" fill="#0852ea" stroke="#000" stroke-width="1.2"/>
<circle cx="289.6" cy="382.4" r="4.25" fill="#0852ea" stroke="#000" stroke-width="1.2"/>
<circle cx="298.4" cy="381.7" r="4.25" fill="#0852ea" stroke="#000" stroke-width="1.2"/>
<circle cx="307.6" cy="379.2" r="4.25" fill="#0852ea" stroke="#000" stroke-width="1.2"/>
<circle cx="329.2" cy="383.9" r="4.25" fill="#0852ea" stroke="#000" stroke-width="1.2"/>
<circle cx="268.9" cy="388.7" r="4.25" fill="#0852ea" stroke="#000" stroke-width="1.2"/>
<circle cx="276.9" cy="390.6" r="4.25" fill="#0852ea" stroke="#000" stroke-width="1.2"/>
<circle cx="270.3" cy="398.2" r="4.25" fill="#0852ea" stroke="#000" stroke-width="1.2"/>
<circle cx="276.9" cy="395.3" r="4.25" fill="#0852ea" stroke="#000" stroke-width="1.2"/>
<circle cx="270.3" cy="403.3" r="4.25" fill="#0852ea" stroke="#000" stroke-width="1.2"/>
<circle cx="269.9" cy="394.2" r="4.25" fill="#0852ea" stroke="#000" stroke-width="1.2"/>
<circle cx="287.8" cy="399.2" r="4.25" fill="#0852ea" stroke="#000" stroke-width="1.2"/>
<circle cx="295.1" cy="400.4" r="4.25" fill="#0852ea" stroke="#000" stroke-width="1.2"/>
<circle cx="322.9" cy="395.5" r="4.25" fill="#0852ea" stroke="#000" stroke-width="1.2"/>
<circle cx="325.0" cy="395.5" r="4.25" fill="#0852ea" stroke="#000" stroke-width="1.2"/>
<circle cx="350.9" cy="389.8" r="4.25" fill="#0852ea" stroke="#000" stroke-width="1.2"/>
<circle cx="351.0" cy="388.1" r="4.25" fill="#0852ea" stroke="#000" stroke-width="1.2"/>
<circle cx="319.2" cy="412.8" r="4.25" fill="#0852ea" stroke="#000" stroke-width="1.2"/>
<circle cx="334.6" cy="414.2" r="4.25" fill="#0852ea" stroke="#000" stroke-width="1.2"/>
<circle cx="309.0" cy="417.9" r="4.25" fill="#0852ea" stroke="#000" stroke-width="1.2"/>
<circle cx="309.1" cy="418.8" r="4.25" fill="#0852ea" stroke="#000" stroke-width="1.2"/>
<circle cx="332.1" cy="422.8" r="4.25" fill="#0852ea" stroke="#000" stroke-width="1.2"/>
<circle cx="355.4" cy="410.4" r="4.25" fill="#0852ea" stroke="#000" stroke-width="1.2"/>
<circle cx="352.2" cy="416.1" r="4.25" fill="#0852ea" stroke="#000" stroke-width="1.2"/>
<circle cx="347.8" cy="418.5" r="4.25" fill="#0852ea" stroke="#000" stroke-width="1.2"/>
<circle cx="352.2" cy="424.9" r="4.25" fill="#0852ea" stroke="#000" stroke-width="1.2"/>
<circle cx="334.9" cy="414.2" r="4.25" fill="#0852ea" stroke="#000" stroke-width="1.2"/>
<circle cx="332.5" cy="422.8" r="4.25" fill="#0852ea" stroke="#000" stroke-width="1.2"/>
<circle cx="325.2" cy="430.5" r="4.25" fill="#0852ea" stroke="#000" stroke-width="1.2"/>
<circle cx="287.1" cy="443.4" r="4.25" fill="#0852ea" stroke="#000" stroke-width="1.2"/>
<circle cx="269.5" cy="436.6" r="4.25" fill="#0852ea" stroke="#000" stroke-width="1.2"/>
<circle cx="276.7" cy="435.7" r="4.25" fill="#0852ea" stroke="#000" stroke-width="1.2"/>
<circle cx="279.1" cy="440.1" r="4.25" fill="#0852ea" stroke="#000" stroke-width="1.2"/>
<circle cx="271.1" cy="446.6" r="4.25" fill="#0852ea" stroke="#000" stroke-width="1.2"/>
<circle cx="281.5" cy="451.4" r="4.25" fill="#0852ea" stroke="#000" stroke-width="1.2"/>
<circle cx="263.8" cy="456.2" r="4.25" fill="#0852ea" stroke="#000" stroke-width="1.2"/>
<circle cx="271.9" cy="456.2" r="4.25" fill="#0852ea" stroke="#000" stroke-width="1.2"/>
<circle cx="291.1" cy="457.0" r="4.25" fill="#0852ea" stroke="#000" stroke-width="1.2"/>
<circle cx="300.8" cy="456.5" r="4.25" fill="#0852ea" stroke="#000" stroke-width="1.2"/>
<circle cx="310.4" cy="453.8" r="4.25" fill="#0852ea" stroke="#000" stroke-width="1.2"/>
<circle cx="320.0" cy="457.0" r="4.25" fill="#0852ea" stroke="#000" stroke-width="1.2"/>
<circle cx="329.7" cy="445.4" r="4.25" fill="#0852ea" stroke="#000" stroke-width="1.2"/>
<circle cx="348.1" cy="441.0" r="4.25" fill="#0852ea" stroke="#000" stroke-width="1.2"/>
<circle cx="357.5" cy="438.2" r="4.25" fill="#0852ea" stroke="#000" stroke-width="1.2"/>
<circle cx="342.5" cy="451.4" r="4.25" fill="#0852ea" stroke="#000" stroke-width="1.2"/>
<circle cx="336.9" cy="458.6" r="4.25" fill="#0852ea" stroke="#000" stroke-width="1.2"/>
<circle cx="353.0" cy="460.2" r="4.25" fill="#0852ea" stroke="#000" stroke-width="1.2"/>
<circle cx="359.4" cy="456.2" r="4.25" fill="#0852ea" stroke="#000" stroke-width="1.2"/>
<circle cx="357.3" cy="438.1" r="4.25" fill="#0852ea" stroke="#000" stroke-width="1.2"/>
<circle cx="348.1" cy="440.9" r="4.25" fill="#0852ea" stroke="#000" stroke-width="1.2"/>
<circle cx="331.2" cy="445.2" r="4.25" fill="#0852ea" stroke="#000" stroke-width="1.2"/>
<circle cx="377.0" cy="451.4" r="4.25" fill="#0852ea" stroke="#000" stroke-width="1.2"/>
<circle cx="342.3" cy="451.4" r="4.25" fill="#0852ea" stroke="#000" stroke-width="1.2"/>
<circle cx="347.2" cy="455.0" r="4.25" fill="#0852ea" stroke="#000" stroke-width="1.2"/>
<circle cx="359.6" cy="455.7" r="4.25" fill="#0852ea" stroke="#000" stroke-width="1.2"/>
<circle cx="352.8" cy="460.0" r="4.25" fill="#0852ea" stroke="#000" stroke-width="1.2"/>
<circle cx="84.1" cy="466.9" r="4.25" fill="#0852ea" stroke="#000" stroke-width="1.2"/>
<circle cx="157.8" cy="453.7" r="4.25" fill="#0852ea" stroke="#000" stroke-width="1.2"/>
<circle cx="153.0" cy="465.0" r="4.25" fill="#0852ea" stroke="#000" stroke-width="1.2"/>
<circle cx="134.9" cy="471.8" r="4.25" fill="#0852ea" stroke="#000" stroke-width="1.2"/>
<circle cx="206.5" cy="423.3" r="4.25" fill="#0852ea" stroke="#000" stroke-width="1.2"/>
<circle cx="189.8" cy="441.0" r="4.25" fill="#0852ea" stroke="#000" stroke-width="1.2"/>
<circle cx="185.3" cy="452.7" r="4.25" fill="#0852ea" stroke="#000" stroke-width="1.2"/>
<circle cx="158.4" cy="453.3" r="4.25" fill="#0852ea" stroke="#000" stroke-width="1.2"/>
<circle cx="245.6" cy="437.7" r="4.25" fill="#0852ea" stroke="#000" stroke-width="1.2"/>
<circle cx="242.3" cy="449.0" r="4.25" fill="#0852ea" stroke="#000" stroke-width="1.2"/>
<circle cx="236.4" cy="453.0" r="4.25" fill="#0852ea" stroke="#000" stroke-width="1.2"/>
<circle cx="242.8" cy="460.7" r="4.25" fill="#0852ea" stroke="#000" stroke-width="1.2"/>
<circle cx="269.2" cy="437.0" r="4.25" fill="#0852ea" stroke="#000" stroke-width="1.2"/>
<circle cx="276.3" cy="435.6" r="4.25" fill="#0852ea" stroke="#000" stroke-width="1.2"/>
<circle cx="279.2" cy="439.9" r="4.25" fill="#0852ea" stroke="#000" stroke-width="1.2"/>
<circle cx="270.6" cy="447.0" r="4.25" fill="#0852ea" stroke="#000" stroke-width="1.2"/>
<circle cx="281.3" cy="451.3" r="4.25" fill="#0852ea" stroke="#000" stroke-width="1.2"/>
<circle cx="273.5" cy="454.1" r="4.25" fill="#0852ea" stroke="#000" stroke-width="1.2"/>
<circle cx="264.2" cy="455.8" r="4.25" fill="#0852ea" stroke="#000" stroke-width="1.2"/>
<circle cx="418.5" cy="434.8" r="4.25" fill="#0852ea" stroke="#000" stroke-width="1.2"/>
<circle cx="418.1" cy="448.7" r="4.25" fill="#0852ea" stroke="#000" stroke-width="1.2"/>
<circle cx="429.7" cy="454.1" r="4.25" fill="#0852ea" stroke="#000" stroke-width="1.2"/>
<circle cx="377.9" cy="451.6" r="4.25" fill="#0852ea" stroke="#000" stroke-width="1.2"/>
<circle cx="357.9" cy="438.5" r="4.25" fill="#0852ea" stroke="#000" stroke-width="1.2"/>
<circle cx="359.4" cy="455.5" r="4.25" fill="#0852ea" stroke="#000" stroke-width="1.2"/>
<circle cx="456.0" cy="446.3" r="4.25" fill="#0852ea" stroke="#000" stroke-width="1.2"/>
<circle cx="466.4" cy="447.2" r="4.25" fill="#0852ea" stroke="#000" stroke-width="1.2"/>
<circle cx="466.1" cy="451.6" r="4.25" fill="#0852ea" stroke="#000" stroke-width="1.2"/>
<circle cx="471.2" cy="458.5" r="4.25" fill="#0852ea" stroke="#000" stroke-width="1.2"/>
<circle cx="483.6" cy="458.2" r="4.25" fill="#0852ea" stroke="#000" stroke-width="1.2"/>
<circle cx="477.4" cy="462.6" r="4.25" fill="#0852ea" stroke="#000" stroke-width="1.2"/>
<circle cx="496.7" cy="458.9" r="4.25" fill="#0852ea" stroke="#000" stroke-width="1.2"/>
<circle cx="501.8" cy="464.3" r="4.25" fill="#0852ea" stroke="#000" stroke-width="1.2"/>
<circle cx="509.1" cy="455.3" r="4.25" fill="#0852ea" stroke="#000" stroke-width="1.2"/>
<circle cx="511.0" cy="458.2" r="4.25" fill="#0852ea" stroke="#000" stroke-width="1.2"/>
<circle cx="514.2" cy="459.6" r="4.25" fill="#0852ea" stroke="#000" stroke-width="1.2"/>
<circle cx="521.1" cy="441.8" r="4.25" fill="#0852ea" stroke="#000" stroke-width="1.2"/>
<circle cx="524.7" cy="451.2" r="4.25" fill="#0852ea" stroke="#000" stroke-width="1.2"/>
<circle cx="527.1" cy="458.9" r="4.25" fill="#0852ea" stroke="#000" stroke-width="1.2"/>
<circle cx="524.7" cy="465.2" r="4.25" fill="#0852ea" stroke="#000" stroke-width="1.2"/>
<circle cx="321.9" cy="369.0" r="4.25" fill="#00c8e8" stroke="#000" stroke-width="1.2"/>
<circle cx="316.3" cy="379.9" r="4.25" fill="#00c8e8" stroke="#000" stroke-width="1.2"/>
<circle cx="310.2" cy="384.7" r="4.25" fill="#00c8e8" stroke="#000" stroke-width="1.2"/>
<circle cx="298.1" cy="402.8" r="4.25" fill="#00c8e8" stroke="#000" stroke-width="1.2"/>
<circle cx="348.7" cy="395.3" r="4.25" fill="#00c8e8" stroke="#000" stroke-width="1.2"/>
<circle cx="348.7" cy="406.8" r="4.25" fill="#00c8e8" stroke="#000" stroke-width="1.2"/>
<circle cx="324.3" cy="416.4" r="4.25" fill="#00c8e8" stroke="#000" stroke-width="1.2"/>
<circle cx="289.5" cy="441.4" r="4.25" fill="#00c8e8" stroke="#000" stroke-width="1.2"/>
<circle cx="324.0" cy="446.6" r="4.25" fill="#00c8e8" stroke="#000" stroke-width="1.2"/>
<circle cx="300.8" cy="469.4" r="4.25" fill="#00c8e8" stroke="#000" stroke-width="1.2"/>
<circle cx="309.6" cy="473.5" r="4.25" fill="#00c8e8" stroke="#000" stroke-width="1.2"/>
<circle cx="311.2" cy="477.1" r="4.25" fill="#00c8e8" stroke="#000" stroke-width="1.2"/>
<circle cx="330.4" cy="335.4" r="4.25" fill="#00e196" stroke="#000" stroke-width="1.2"/>
<circle cx="335.0" cy="380.7" r="4.25" fill="#00e196" stroke="#000" stroke-width="1.2"/>
<circle cx="335.0" cy="388.2" r="4.25" fill="#00e196" stroke="#000" stroke-width="1.2"/>
<circle cx="300.3" cy="398.6" r="4.25" fill="#00e196" stroke="#000" stroke-width="1.2"/>
<circle cx="333.5" cy="406.2" r="4.25" fill="#00e196" stroke="#000" stroke-width="1.2"/>
<circle cx="288.4" cy="432.9" r="4.25" fill="#00e196" stroke="#000" stroke-width="1.2"/>
<circle cx="282.8" cy="351.0" r="4.25" fill="#e69a00" stroke="#000" stroke-width="1.2"/>
<circle cx="294.5" cy="349.6" r="4.25" fill="#e69a00" stroke="#000" stroke-width="1.2"/>
<circle cx="284.5" cy="355.8" r="4.25" fill="#e69a00" stroke="#000" stroke-width="1.2"/>
<circle cx="289.0" cy="355.5" r="4.25" fill="#e69a00" stroke="#000" stroke-width="1.2"/>
<circle cx="308.5" cy="353.5" r="4.25" fill="#e69a00" stroke="#000" stroke-width="1.2"/>
<circle cx="272.5" cy="367.4" r="4.25" fill="#e69a00" stroke="#000" stroke-width="1.2"/>
<circle cx="308.5" cy="316.7" r="4.25" fill="#e60052" stroke="#000" stroke-width="1.2"/>
<circle cx="310.5" cy="320.1" r="4.25" fill="#e60052" stroke="#000" stroke-width="1.2"/>
<circle cx="326.8" cy="322.5" r="4.25" fill="#e60052" stroke="#000" stroke-width="1.2"/>
<circle cx="326.8" cy="320.8" r="4.25" fill="#e60052" stroke="#000" stroke-width="1.2"/>
<circle cx="304.6" cy="334.1" r="4.25" fill="#e60052" stroke="#000" stroke-width="1.2"/>
<circle cx="325.6" cy="337.1" r="4.25" fill="#e60052" stroke="#000" stroke-width="1.2"/>
<circle cx="317.2" cy="345.3" r="4.25" fill="#e60052" stroke="#000" stroke-width="1.2"/>
<circle cx="301.5" cy="353.1" r="4.25" fill="#e60052" stroke="#000" stroke-width="1.2"/>
<circle cx="304.4" cy="355.5" r="4.25" fill="#e60052" stroke="#000" stroke-width="1.2"/>
<line x1="317" y1="381.1" x2="335" y2="376" stroke="#000" stroke-width="1.1"/>
<text x="338.2" y="377.9" font-size="9.6" text-anchor="start" font-weight="bold" font-style="italic" fill="#000" >rs12019136</text>
<line x1="52.2" y1="297.6" x2="550.05" y2="297.6" stroke="#151515" stroke-width="1.6"/>
<line x1="549.25" y1="296.8" x2="549.25" y2="491.8" stroke="#151515" stroke-width="1.6"/>
<line x1="51.300000000000004" y1="491.8" x2="550.05" y2="491.8" stroke="#000" stroke-width="2.0"/>
<line x1="52.2" y1="296.8" x2="52.2" y2="492.8" stroke="#000" stroke-width="1.8"/>
<rect x="326.2" y="297.6" width="62.4" height="16.9" rx="2" fill="#fff" stroke="#000" stroke-width="0.8"/>
<line x1="326.2" y1="297.6" x2="388.6" y2="297.6" stroke="#000" stroke-width="1.4"/>
<text x="357.2" y="309.5" font-size="9.6" text-anchor="middle" font-weight="bold" font-style="normal" fill="#000" >rs35222081</text>
<line x1="47.9" y1="483.5" x2="51.3" y2="483.5" stroke="#262626" stroke-width="1.1"/>
<text x="45" y="486.6" font-size="8.8" text-anchor="end" font-weight="normal" font-style="normal" fill="#474747" >0.0</text>
<line x1="47.9" y1="446.8" x2="51.3" y2="446.8" stroke="#262626" stroke-width="1.1"/>
<text x="45" y="449.90000000000003" font-size="8.8" text-anchor="end" font-weight="normal" font-style="normal" fill="#474747" >2.5</text>
<line x1="47.9" y1="410.1" x2="51.3" y2="410.1" stroke="#262626" stroke-width="1.1"/>
<text x="45" y="413.20000000000005" font-size="8.8" text-anchor="end" font-weight="normal" font-style="normal" fill="#474747" >5.0</text>
<line x1="47.9" y1="373.3" x2="51.3" y2="373.3" stroke="#262626" stroke-width="1.1"/>
<text x="45" y="376.40000000000003" font-size="8.8" text-anchor="end" font-weight="normal" font-style="normal" fill="#474747" >7.5</text>
<line x1="47.9" y1="336.6" x2="51.3" y2="336.6" stroke="#262626" stroke-width="1.1"/>
<text x="45" y="339.70000000000005" font-size="8.8" text-anchor="end" font-weight="normal" font-style="normal" fill="#474747" >10.0</text>
<line x1="47.9" y1="299.9" x2="51.3" y2="299.9" stroke="#262626" stroke-width="1.1"/>
<text x="45" y="303.0" font-size="8.8" text-anchor="end" font-weight="normal" font-style="normal" fill="#474747" >12.5</text>
<line x1="164.4" y1="492.8" x2="164.4" y2="496" stroke="#262626" stroke-width="1.1"/>
<text x="164.4" y="505.4" font-size="8.8" text-anchor="middle" font-weight="normal" font-style="normal" fill="#474747" >5760000</text>
<line x1="303" y1="492.8" x2="303" y2="496" stroke="#262626" stroke-width="1.1"/>
<text x="303" y="505.4" font-size="8.8" text-anchor="middle" font-weight="normal" font-style="normal" fill="#474747" >5830000</text>
<line x1="441.6" y1="492.8" x2="441.6" y2="496" stroke="#262626" stroke-width="1.1"/>
<text x="441.6" y="505.4" font-size="8.8" text-anchor="middle" font-weight="normal" font-style="normal" fill="#474747" >5900000</text>
<text x="0" y="0" font-size="11" text-anchor="middle" font-weight="normal" font-style="normal" fill="#000" transform="translate(21.2,395.3) rotate(-90)">−log10(p)</text>
<text x="5.2" y="538.8" font-size="14" text-anchor="start" font-weight="bold" font-style="normal" fill="#000" >C)</text>
<polygon points="60.1,721.4 60.1,583.4 60.8,583.4 62.5,716.2 64.2,716.2 74.4,721.3 84.1,721.3 95.9,715.2 100.0,717.5 111.5,718.0 111.9,576.5 112.5,576.5 114.9,640.0 116.1,660.0 120.4,717.2 125.4,717.2 128.2,717.0 128.2,649.9 128.8,649.9 128.9,717.0 149.1,717.2 157.4,721.1 164.1,720.8 168.8,717.4 178.0,717.6 183.2,715.3 186.9,717.6 189.1,660.0 192.5,573.0 196.0,660.0 198.0,706.0 198.8,706.0 199.1,566.8 199.7,566.8 200.1,706.0 203.0,716.0 207.7,713.0 209.8,660.0 213.3,567.8 213.9,660.0 215.4,706.0 218.0,717.0 240.5,718.0 242.1,717.7 254.6,694.7 258.0,718.0 275.3,721.3 281.9,717.2 284.8,717.0 285.1,660.0 286.7,564.1 292.3,660.0 295.8,718.2 304.5,719.3 305.0,688.1 311.7,717.2 327.2,674.3 331.6,718.2 335.2,693.7 341.8,717.2 346.9,717.7 349.6,717.0 350.4,553.3 351.0,553.3 352.2,717.0 352.7,719.3 358.3,673.8 362.0,715.0 366.5,717.0 366.7,564.7 367.3,564.7 369.0,717.0 372.1,717.0 372.6,621.8 375.1,717.0 379.0,718.0 385.0,716.0 390.5,673.8 395.6,708.0 401.2,660.0 413.7,548.1 418.3,640.0 421.6,717.2 436.5,717.2 439.8,700.6 444.7,717.2 451.9,717.2 460.7,661.5 462.4,716.1 475.0,717.7 479.5,686.1 482.9,717.6 490.7,717.6 493.5,704.0 496.0,717.0 498.6,651.8 502.5,716.4 505.6,649.6 507.5,705.0 521.1,717.0 525.6,718.7 541.5,719.0 542.1,721.4" fill="#4d6ebe" fill-opacity="0.6"/>
<polygon points="60.1,721.4 60.1,694.7 64.2,716.2 74.4,721.3 74.7,675.8 75.3,675.8 75.4,716.0 81.6,717.7 84.1,721.3 96.0,716.0 100.0,716.2 103.5,707.0 107.1,706.0 107.3,688.0 107.8,688.0 108.1,717.2 112.2,690.7 116.3,719.3 121.0,719.4 125.9,717.2 128.9,708.4 132.0,717.2 134.2,717.2 138.0,707.3 146.9,711.1 148.0,719.4 155.0,719.5 158.2,720.8 159.2,669.7 164.1,720.8 168.9,717.6 171.2,671.2 174.5,717.6 178.4,711.8 182.0,717.6 187.3,717.6 192.9,689.1 198.0,705.0 199.5,715.0 201.1,690.7 203.0,716.0 204.7,705.0 205.7,720.3 207.4,670.2 208.0,670.2 208.5,717.0 213.6,688.6 218.0,717.2 224.2,713.1 240.5,718.2 244.6,718.2 254.6,669.2 257.9,717.2 258.4,720.3 261.5,690.1 265.1,717.7 275.3,721.3 282.0,719.0 286.3,688.1 295.8,720.3 296.1,689.6 303.0,689.6 303.2,720.0 312.5,718.2 315.8,670.7 327.0,719.3 334.2,718.2 337.2,661.5 341.8,717.2 349.0,718.0 351.1,690.7 352.7,719.3 358.8,719.3 364.4,670.2 366.5,719.3 368.3,657.0 368.9,657.0 369.5,718.0 379.7,718.2 380.8,684.0 384.9,715.2 386.4,660.0 387.0,716.0 390.0,720.3 413.9,688.0 421.6,717.2 422.7,716.1 434.8,681.9 435.1,716.0 436.5,717.2 439.2,666.5 443.6,652.7 444.7,717.2 451.9,717.2 460.7,697.3 462.4,716.1 475.0,717.7 477.5,677.1 482.9,717.6 490.7,717.6 494.3,697.3 497.0,717.0 498.6,689.5 502.5,716.4 507.0,707.4 507.0,662.5 519.4,655.7 520.9,655.5 521.1,717.0 526.1,718.7 541.5,709.1 541.9,662.5 542.1,721.4" fill="#f3891e" fill-opacity="0.6"/>
<line x1="60.1" y1="721.4" x2="542.1" y2="721.4" stroke="#9fb0dc" stroke-width="0.6"/>
<text x="354.3" y="556.9" font-size="9.95" text-anchor="start" font-weight="bold" font-style="normal" fill="#3a78c8" >rs12019136</text>
<text x="418" y="646.4" font-size="9.6" text-anchor="start" font-weight="bold" font-style="normal" fill="#f5901e" >rs35222081</text>
<text x="546.2" y="557.1" font-size="10.1" text-anchor="end" font-weight="bold" font-style="normal" fill="#000" >PP.H3 = 99.71%</text>
<line x1="51.2" y1="541" x2="551.85" y2="541" stroke="#444" stroke-width="1.5"/>
<line x1="551.1" y1="540.25" x2="551.1" y2="729" stroke="#444" stroke-width="1.5"/>
<line x1="50.2" y1="729" x2="551.85" y2="729" stroke="#000" stroke-width="1.8"/>
<line x1="51.2" y1="540.25" x2="51.2" y2="729.9" stroke="#000" stroke-width="2.0"/>
<line x1="46.8" y1="717.6" x2="50.2" y2="717.6" stroke="#262626" stroke-width="1.1"/>
<text x="44" y="720.7" font-size="8.8" text-anchor="end" font-weight="normal" font-style="normal" fill="#474747" >0</text>
<line x1="46.8" y1="687.7" x2="50.2" y2="687.7" stroke="#262626" stroke-width="1.1"/>
<text x="44" y="690.8000000000001" font-size="8.8" text-anchor="end" font-weight="normal" font-style="normal" fill="#474747" >10</text>
<line x1="46.8" y1="657.8" x2="50.2" y2="657.8" stroke="#262626" stroke-width="1.1"/>
<text x="44" y="660.9" font-size="8.8" text-anchor="end" font-weight="normal" font-style="normal" fill="#474747" >20</text>
<line x1="46.8" y1="627.9" x2="50.2" y2="627.9" stroke="#262626" stroke-width="1.1"/>
<text x="44" y="631.0" font-size="8.8" text-anchor="end" font-weight="normal" font-style="normal" fill="#474747" >30</text>
<line x1="46.8" y1="598.1" x2="50.2" y2="598.1" stroke="#262626" stroke-width="1.1"/>
<text x="44" y="601.2" font-size="8.8" text-anchor="end" font-weight="normal" font-style="normal" fill="#474747" >40</text>
<line x1="46.8" y1="568.2" x2="50.2" y2="568.2" stroke="#262626" stroke-width="1.1"/>
<text x="44" y="571.3000000000001" font-size="8.8" text-anchor="end" font-weight="normal" font-style="normal" fill="#474747" >50</text>
<line x1="80.4" y1="729.9" x2="80.4" y2="733" stroke="#262626" stroke-width="1.1"/>
<text x="80.4" y="742.6" font-size="8.8" text-anchor="middle" font-weight="normal" font-style="normal" fill="#474747" >5815000</text>
<line x1="161.04000000000002" y1="729.9" x2="161.04000000000002" y2="733" stroke="#262626" stroke-width="1.1"/>
<text x="161.04000000000002" y="742.6" font-size="8.8" text-anchor="middle" font-weight="normal" font-style="normal" fill="#474747" >5820000</text>
<line x1="241.68" y1="729.9" x2="241.68" y2="733" stroke="#262626" stroke-width="1.1"/>
<text x="241.68" y="742.6" font-size="8.8" text-anchor="middle" font-weight="normal" font-style="normal" fill="#474747" >5825000</text>
<line x1="322.32000000000005" y1="729.9" x2="322.32000000000005" y2="733" stroke="#262626" stroke-width="1.1"/>
<text x="322.32000000000005" y="742.6" font-size="8.8" text-anchor="middle" font-weight="normal" font-style="normal" fill="#474747" >5830000</text>
<line x1="402.96000000000004" y1="729.9" x2="402.96000000000004" y2="733" stroke="#262626" stroke-width="1.1"/>
<text x="402.96000000000004" y="742.6" font-size="8.8" text-anchor="middle" font-weight="normal" font-style="normal" fill="#474747" >5835000</text>
<line x1="483.6" y1="729.9" x2="483.6" y2="733" stroke="#262626" stroke-width="1.1"/>
<text x="483.6" y="742.6" font-size="8.8" text-anchor="middle" font-weight="normal" font-style="normal" fill="#474747" >5840000</text>
<text x="0" y="0" font-size="11" text-anchor="middle" font-weight="normal" font-style="normal" fill="#000" transform="translate(27.4,635.2) rotate(-90)">ln(abf)</text>
<text x="301.3" y="768.0" font-size="11.1" text-anchor="middle" font-weight="normal" font-style="normal" fill="#000" >Position on chromosome 19 (bp)</text>
<rect x="567" y="611.7" width="117.3" height="47" fill="#fff" stroke="#333" stroke-width="0.9"/>
<rect x="575.5" y="627.7" width="10" height="10.1" fill="#f4a34f"/>
<rect x="575.5" y="639.7" width="10" height="10" fill="#6b8bcf"/>
<text x="594.7" y="636.3" font-size="9.6" text-anchor="start" font-weight="normal" font-style="normal" fill="#000" >IgG GP20</text>
<text x="594.7" y="648.3" font-size="9.6" text-anchor="start" font-weight="normal" font-style="normal" fill="#000" >Transferrin TfGP32</text></svg>
</body></html>
